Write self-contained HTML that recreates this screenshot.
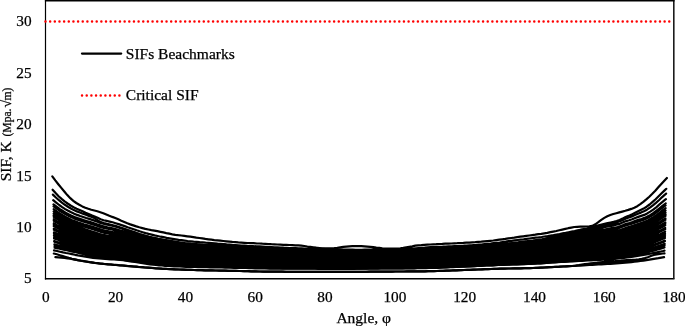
<!DOCTYPE html>
<html><head><meta charset="utf-8"><title>SIF chart</title>
<style>
html,body{margin:0;padding:0;background:#fff;}
body{width:685px;height:326px;overflow:hidden;position:relative;font-family:"Liberation Serif",serif;color:#000;}
svg{position:absolute;left:0;top:0;}
text{font-family:"Liberation Serif",serif;fill:#000;stroke:#000;stroke-width:0.25px;}
</style></head><body>
<svg width="685" height="326" viewBox="0 0 685 326">
<rect x="0" y="0" width="685" height="326" fill="#fff"/>
<g fill="none" stroke="#000" stroke-width="2.2" stroke-linecap="round" stroke-linejoin="round">
<path d="M52.3,176.4 55.3,180.4 58.3,184.2 61.3,187.9 64.3,191.5 67.3,195.1 70.3,198.2 73.3,200.8 76.3,203 79.3,204.8 82.3,206.4 85.3,207.7 88.3,208.8 91.3,209.7 94.3,210.5 97.3,211.3 100.3,212.2 103.3,213.2 106.3,214.4 109.3,215.7 112.3,216.9 115.3,218 118.3,219.3 121.3,220.7 124.3,222 127.3,223.3 130.3,224.4 133.3,225.4 136.3,226.4 139.3,227.3 142.3,228.1 145.3,228.9 148.3,229.5 151.3,230.1 154.3,230.6 157.3,231.2 160.3,231.8 163.3,232.4 166.3,233.1 169.3,233.7 172.3,234.3 175.3,234.8 178.3,235.2 181.3,235.5 184.3,235.9 187.3,236.3 190.3,236.7 193.3,237.1 196.3,237.6 199.3,238 202.3,238.4 205.3,238.9 208.3,239.3 211.3,239.7 214.3,240.1 217.3,240.4 220.3,240.7 223.3,241 226.3,241.3 229.3,241.6 232.3,241.9 235.3,242.1 238.3,242.4 241.3,242.6 244.3,242.8 247.3,243 250.3,243.1 253.3,243.2 256.3,243.4 259.3,243.5 262.3,243.7 265.3,243.8 268.3,244 271.3,244.2 274.3,244.3 277.3,244.5 280.3,244.6 283.3,244.8 286.3,244.9 289.3,245 292.3,245.1 295.3,245.3 298.3,245.4 301.3,245.6 304.3,246 307.3,246.5 310.3,246.9 313.3,247.3 316.3,247.7 319.3,248 322.3,248.3 325.3,248.4 328.3,248.4 331.3,248.3 334.3,248.2 337.3,247.9 340.3,247.4 343.3,246.9 346.3,246.6 349.3,246.3 352.3,246.2 355.3,246.1 358.3,246 361.3,246.1 364.3,246.3 367.3,246.6 370.3,246.9 373.3,247.2 376.3,247.6 379.3,247.9 382.3,248.3 385.3,248.6 388.3,248.7 391.3,248.7 394.3,248.7 397.3,248.6 400.3,248.3 403.3,247.9 406.3,247.3 409.3,246.8 412.3,246.3 415.3,245.7 418.3,245.3 421.3,245.1 424.3,244.8 427.3,244.6 430.3,244.5 433.3,244.3 436.3,244.2 439.3,244 442.3,243.9 445.3,243.7 448.3,243.6 451.3,243.5 454.3,243.3 457.3,243.2 460.3,243 463.3,242.9 466.3,242.7 469.3,242.6 472.3,242.4 475.3,242.2 478.3,241.9 481.3,241.7 484.3,241.4 487.3,241.1 490.3,240.8 493.3,240.5 496.3,240.1 499.3,239.7 502.3,239.3 505.3,238.9 508.3,238.4 511.3,238 514.3,237.6 517.3,237.1 520.3,236.7 523.3,236.3 526.3,235.9 529.3,235.5 532.3,235.1 535.3,234.7 538.3,234.2 541.3,233.8 544.3,233.3 547.3,232.8 550.3,232.2 553.3,231.6 556.3,231 559.3,230.3 562.3,229.6 565.3,228.9 568.3,228.2 571.3,227.6 574.3,227 577.3,226.8 580.3,226.7 583.3,226.6 586.3,226.5 589.3,226.3 592.3,225.9 595.3,224.3 598.3,222.2 601.3,219.9 604.3,217.9 607.3,216.3 610.3,215 613.3,214 616.3,213.2 619.3,212.4 622.3,211.6 625.3,210.8 628.3,209.9 631.3,208.9 634.3,207.7 637.3,206.2 640.3,204.2 643.3,201.9 646.3,199.4 649.3,196.7 652.3,193.8 655.3,190.7 658.3,187.3 661.3,183.9 664.3,180.7 666.9,178"/>
<path d="M52.6,189.7 55.6,193.1 58.6,196.2 61.6,198.9 64.6,201.4 67.6,203.5 70.6,205.5 73.6,207.2 76.6,208.7 79.6,210 82.6,211.3 85.6,212.7 88.6,214 91.6,215.3 94.6,216.5 97.6,217.8 100.6,219.2 103.6,220.2 106.6,220.9 109.6,221.6 112.6,222.3 115.6,223.2 118.6,224.1 121.6,225.1 124.6,226.1 127.6,227.2 130.6,228.2 133.6,229.2 136.6,230.3 139.6,231.3 142.6,232.2 145.6,233.1 148.6,233.9 151.6,234.6 154.6,235.4 157.6,236 160.6,236.7 163.6,237.2 166.6,237.8 169.6,238.3 172.6,238.8 175.6,239.3 178.6,239.8 181.6,240.2 184.6,240.6 187.6,241 190.6,241.3 193.6,241.6 196.6,241.8 199.6,242.1 202.6,242.3 205.6,242.6 208.6,242.8 211.6,243 214.6,243.3 217.6,243.6 220.6,243.8 223.6,244.1 226.6,244.4 229.6,244.6 232.6,244.9 235.6,245.1 238.6,245.3 241.6,245.5 244.6,245.7 247.6,245.9 250.6,246 253.6,246.2 256.6,246.3 259.6,246.4 262.6,246.6 265.6,246.8 268.6,246.9 271.6,247.1 274.6,247.3 277.6,247.4 280.6,247.5 283.6,247.7 286.6,247.8 289.6,248 292.6,248.1 295.6,248.2 298.6,248.4 301.6,248.4 304.6,248.5 307.6,248.5 310.6,248.5 313.6,248.6 316.6,248.7 319.6,248.8 322.6,248.9 325.6,249 328.6,249.1 331.6,249.2 334.6,249.3 337.6,249.4 340.6,249.4 343.6,249.5 346.6,249.6 349.6,249.6 352.6,249.7 355.6,249.8 358.6,249.8 361.6,249.8 364.6,249.7 367.6,249.6 370.6,249.5 373.6,249.4 376.6,249.4 379.6,249.4 382.6,249.3 385.6,249.3 388.6,249.3 391.6,249.3 394.6,249.3 397.6,249.2 400.6,249.2 403.6,249.1 406.6,248.9 409.6,248.8 412.6,248.6 415.6,248.3 418.6,248.1 421.6,247.9 424.6,247.7 427.6,247.4 430.6,247.2 433.6,247.1 436.6,246.9 439.6,246.8 442.6,246.7 445.6,246.5 448.6,246.4 451.6,246.3 454.6,246.1 457.6,246 460.6,245.8 463.6,245.7 466.6,245.5 469.6,245.3 472.6,245.2 475.6,245 478.6,244.7 481.6,244.5 484.6,244.2 487.6,243.9 490.6,243.6 493.6,243.2 496.6,242.8 499.6,242.5 502.6,242.1 505.6,241.7 508.6,241.2 511.6,240.8 514.6,240.4 517.6,240 520.6,239.6 523.6,239.3 526.6,238.9 529.6,238.5 532.6,238.1 535.6,237.7 538.6,237.4 541.6,237 544.6,236.5 547.6,236.1 550.6,235.6 553.6,235.1 556.6,234.5 559.6,234 562.6,233.4 565.6,232.9 568.6,232.3 571.6,231.7 574.6,231.1 577.6,230.4 580.6,229.7 583.6,229.1 586.6,228.6 589.6,227.9 592.6,227 595.6,226.1 598.6,225.3 601.6,224.5 604.6,223.8 607.6,223.1 610.6,222.5 613.6,221.9 616.6,221.1 619.6,220 622.6,218.6 625.6,217 628.6,215.9 631.6,214.6 634.6,213 637.6,211.5 640.6,210 643.6,208.6 646.6,206.7 649.6,204.5 652.6,201.9 655.6,199.2 658.6,196.3 661.6,193.3 664.6,190.4 666.3,188.8"/>
<path d="M52.9,194.6 55.9,197.5 58.9,200.2 61.9,202.6 64.9,204.8 67.9,206.7 70.9,208.5 73.9,210.1 76.9,211.4 79.9,212.5 82.9,213.7 85.9,214.8 88.9,215.9 91.9,217 94.9,218.3 97.9,220.5 100.9,222.1 103.9,223 106.9,223.8 109.9,224.5 112.9,225.2 115.9,226.1 118.9,227 121.9,228 124.9,229 127.9,230.1 130.9,231.1 133.9,232.1 136.9,233.2 139.9,234.2 142.9,235.1 145.9,236 148.9,236.8 151.9,237.5 154.9,238.2 157.9,238.9 160.9,239.5 163.9,240.1 166.9,240.7 169.9,241.2 172.9,241.7 175.9,242.2 178.9,242.6 181.9,243.1 184.9,243.5 187.9,243.8 190.9,244.1 193.9,244.4 196.9,244.6 199.9,244.9 202.9,245.1 205.9,245.2 208.9,245.2 211.9,245.1 214.9,245 217.9,244.9 220.9,244.8 223.9,244.9 226.9,245.1 229.9,245.4 232.9,245.6 235.9,245.9 238.9,246.1 241.9,246.3 244.9,246.5 247.9,246.7 250.9,246.8 253.9,246.9 256.9,247.1 259.9,247.2 262.9,247.4 265.9,247.5 268.9,247.7 271.9,247.9 274.9,248 277.9,248.2 280.9,248.3 283.9,248.4 286.9,248.6 289.9,248.7 292.9,248.9 295.9,249 298.9,249.1 301.9,249.2 304.9,249.2 307.9,249.3 310.9,249.3 313.9,249.3 316.9,249.4 319.9,249.5 322.9,249.7 325.9,249.8 328.9,249.9 331.9,249.9 334.9,250 337.9,250.1 340.9,250.2 343.9,250.2 346.9,250.3 349.9,250.4 352.9,250.5 355.9,250.5 358.9,250.5 361.9,250.5 364.9,250.4 367.9,250.3 370.9,250.2 373.9,250.2 376.9,250.1 379.9,250.1 382.9,250.1 385.9,250.1 388.9,250 391.9,250 394.9,250 397.9,250 400.9,249.9 403.9,249.8 406.9,249.7 409.9,249.5 412.9,249.3 415.9,249.1 418.9,248.9 421.9,248.6 424.9,248.4 427.9,248.2 430.9,248 433.9,247.8 436.9,247.7 439.9,247.5 442.9,247.4 445.9,247.3 448.9,247.1 451.9,247 454.9,246.8 457.9,246.7 460.9,246.5 463.9,246.4 466.9,246.2 469.9,246.1 472.9,245.9 475.9,245.7 478.9,245.4 481.9,245.2 484.9,244.9 487.9,244.6 490.9,244.3 493.9,243.9 496.9,243.5 499.9,243.2 502.9,243.3 505.9,243.6 508.9,243.7 511.9,243.6 514.9,243.2 517.9,242.8 520.9,242.4 523.9,242 526.9,241.6 529.9,241.2 532.9,240.9 535.9,240.5 538.9,240.1 541.9,239.6 544.9,238.8 547.9,237.7 550.9,236.5 553.9,235.9 556.9,235.3 559.9,234.8 562.9,234.3 565.9,233.7 568.9,233.2 571.9,232.6 574.9,232 577.9,231.3 580.9,230.6 583.9,230 586.9,229.5 589.9,228.8 592.9,227.9 595.9,227 598.9,226.3 601.9,225.6 604.9,224.9 607.9,224.2 610.9,223.6 613.9,223 616.9,222.3 619.9,221.2 622.9,220 625.9,218.5 628.9,217.5 631.9,216.4 634.9,215 637.9,213.7 640.9,212.6 643.9,211.3 646.9,209.7 649.9,207.7 652.9,205.4 655.9,202.9 658.9,200.2 661.9,197.3 664.9,194.7 666.1,193.6"/>
<path d="M53.2,200.1 56.2,202.7 59.2,205 62.2,207.1 65.2,209.1 68.2,210.8 71.2,212.3 74.2,213.7 77.2,214.9 80.2,216 83.2,217 86.2,218 89.2,218.9 92.2,219.9 95.2,220.9 98.2,222.1 101.2,223.2 104.2,224 107.2,224.6 110.2,225.3 113.2,226 116.2,226.8 119.2,227.7 122.2,228.6 125.2,229.6 128.2,230.5 131.2,231.5 134.2,232.4 137.2,233.4 140.2,234.4 143.2,235.2 146.2,236 149.2,236.8 152.2,237.5 155.2,238.1 158.2,238.8 161.2,239.3 164.2,239.9 167.2,240.4 170.2,240.9 173.2,241.4 176.2,241.8 179.2,242.3 182.2,242.7 185.2,243.1 188.2,243.4 191.2,243.7 194.2,243.9 197.2,244.2 200.2,244.4 203.2,244.7 206.2,244.9 209.2,245.1 212.2,245.3 215.2,245.6 218.2,245.8 221.2,246.1 224.2,246.4 227.2,246.6 230.2,246.8 233.2,247.1 236.2,247.3 239.2,247.5 242.2,247.7 245.2,247.9 248.2,248.1 251.2,248.2 254.2,248.3 257.2,248.5 260.2,248.6 263.2,248.8 266.2,248.9 269.2,249.1 272.2,249.2 275.2,249.4 278.2,249.5 281.2,249.7 284.2,249.8 287.2,249.9 290.2,250.1 293.2,250.2 296.2,250.3 299.2,250.4 302.2,250.5 305.2,250.5 308.2,250.6 311.2,250.6 314.2,250.7 317.2,250.7 320.2,250.9 323.2,251 326.2,251.1 329.2,251.2 332.2,251.2 335.2,251.3 338.2,251.4 341.2,251.5 344.2,251.5 347.2,251.6 350.2,251.7 353.2,251.7 356.2,251.8 359.2,251.8 362.2,251.7 365.2,251.7 368.2,251.6 371.2,251.5 374.2,251.4 377.2,251.4 380.2,251.4 383.2,251.3 386.2,251.3 389.2,251.3 392.2,251.3 395.2,251.2 398.2,251.2 401.2,251.2 404.2,251.1 407.2,250.9 410.2,250.7 413.2,250.5 416.2,250.3 419.2,250.1 422.2,249.9 425.2,249.7 428.2,249.5 431.2,249.3 434.2,249.1 437.2,249 440.2,248.9 443.2,248.7 446.2,248.6 449.2,248.4 452.2,248.3 455.2,248.2 458.2,248 461.2,247.9 464.2,247.7 467.2,247.6 470.2,247.4 473.2,247.2 476.2,247 479.2,246.8 482.2,246.5 485.2,246.2 488.2,245.9 491.2,245.6 494.2,245.3 497.2,244.9 500.2,244.5 503.2,244.2 506.2,243.8 509.2,243.4 512.2,243 515.2,242.6 518.2,242.3 521.2,241.9 524.2,241.5 527.2,241.2 530.2,240.8 533.2,240.5 536.2,240.1 539.2,239.7 542.2,239.4 545.2,238.9 548.2,238.5 551.2,238 554.2,237.5 557.2,237 560.2,236.5 563.2,236 566.2,235.4 569.2,234.9 572.2,234.3 575.2,233.7 578.2,233.1 581.2,232.5 584.2,231.9 587.2,231.4 590.2,230.7 593.2,229.9 596.2,229 599.2,228.3 602.2,227.6 605.2,227 608.2,226.4 611.2,225.8 614.2,225.3 617.2,224.5 620.2,223.6 623.2,222.3 626.2,221.1 629.2,220.3 632.2,219.2 635.2,218 638.2,216.9 641.2,215.9 644.2,214.9 647.2,213.4 650.2,211.6 653.2,209.6 656.2,207.3 659.2,204.7 662.2,202.1 665.2,199.6 665.9,199.1"/>
<path d="M53.5,204.4 56.5,206.7 59.5,208.9 62.5,210.8 65.5,212.6 68.5,214.2 71.5,215.7 74.5,217 77.5,218.1 80.5,219.1 83.5,220.1 86.5,221 89.5,221.9 92.5,222.8 95.5,223.7 98.5,224.9 101.5,225.9 104.5,226.6 107.5,227.3 110.5,227.9 113.5,228.6 116.5,229.3 119.5,230.2 122.5,231.1 125.5,232 128.5,232.9 131.5,233.8 134.5,234.7 137.5,235.7 140.5,236.6 143.5,237.4 146.5,238.1 149.5,238.8 152.5,239.5 155.5,240.1 158.5,240.7 161.5,241.3 164.5,241.8 167.5,242.3 170.5,242.8 173.5,243.2 176.5,243.7 179.5,244.1 182.5,244.5 185.5,244.8 188.5,245.2 191.5,245.4 194.5,245.7 197.5,245.9 200.5,246.1 203.5,246.3 206.5,246.6 209.5,246.8 212.5,247 215.5,247.2 218.5,247.5 221.5,247.7 224.5,248 227.5,248.2 230.5,248.4 233.5,248.6 236.5,248.9 239.5,249.1 242.5,249.3 245.5,249.4 248.5,249.6 251.5,249.7 254.5,249.8 257.5,250 260.5,250.1 263.5,250.3 266.5,250.4 269.5,250.6 272.5,250.7 275.5,250.9 278.5,251 281.5,251.1 284.5,251.3 287.5,251.4 290.5,251.5 293.5,251.6 296.5,251.8 299.5,251.8 302.5,251.9 305.5,251.9 308.5,252 311.5,252 314.5,252.1 317.5,252.1 320.5,252.2 323.5,252.4 326.5,252.5 329.5,252.5 332.5,252.6 335.5,252.7 338.5,252.7 341.5,252.8 344.5,252.9 347.5,252.9 350.5,253 353.5,253.1 356.5,253.1 359.5,253.1 362.5,253.1 365.5,253 368.5,252.9 371.5,252.8 374.5,252.8 377.5,252.7 380.5,252.7 383.5,252.7 386.5,252.7 389.5,252.6 392.5,252.6 395.5,252.6 398.5,252.5 401.5,252.5 404.5,252.4 407.5,252.2 410.5,252.1 413.5,251.9 416.5,251.7 419.5,251.5 422.5,251.3 425.5,251.1 428.5,250.9 431.5,250.7 434.5,250.6 437.5,250.4 440.5,250.3 443.5,250.2 446.5,250 449.5,249.9 452.5,249.7 455.5,249.6 458.5,249.4 461.5,249.3 464.5,249.2 467.5,249 470.5,248.8 473.5,248.6 476.5,248.4 479.5,248.2 482.5,248 485.5,247.7 488.5,247.4 491.5,247.1 494.5,246.8 497.5,246.4 500.5,246.1 503.5,245.7 506.5,245.4 509.5,245 512.5,244.6 515.5,244.3 518.5,243.9 521.5,243.6 524.5,243.2 527.5,242.9 530.5,242.6 533.5,242.2 536.5,241.9 539.5,241.5 542.5,241.2 545.5,240.8 548.5,240.3 551.5,239.9 554.5,239.4 557.5,238.9 560.5,238.4 563.5,237.9 566.5,237.4 569.5,236.9 572.5,236.3 575.5,235.8 578.5,235.2 581.5,234.6 584.5,234 587.5,233.5 590.5,232.9 593.5,232.1 596.5,231.3 599.5,230.6 602.5,230 605.5,229.4 608.5,228.8 611.5,228.2 614.5,227.7 617.5,227 620.5,226.1 623.5,224.9 626.5,223.8 629.5,223 632.5,222 635.5,220.9 638.5,219.9 641.5,219 644.5,217.9 647.5,216.5 650.5,214.9 653.5,212.9 656.5,210.7 659.5,208.3 662.5,205.8 665.5,203.5 665.7,203.3"/>
<path d="M53.6,206.4 56.6,208.6 59.6,210.7 62.6,212.6 65.6,214.3 68.6,215.9 71.6,217.3 74.6,218.6 77.6,219.7 80.6,220.7 83.6,221.6 86.6,222.5 89.6,223.4 92.6,224.4 95.6,225.3 98.6,226.4 101.6,227.4 104.6,228.1 107.6,228.7 110.6,229.3 113.6,230 116.6,230.8 119.6,231.6 122.6,232.5 125.6,233.3 128.6,234.2 131.6,235.1 134.6,236 137.6,236.9 140.6,237.8 143.6,238.6 146.6,239.3 149.6,240 152.6,240.7 155.6,241.3 158.6,241.8 161.6,242.4 164.6,242.9 167.6,243.4 170.6,243.8 173.6,244.3 176.6,244.7 179.6,245.1 182.6,245.5 185.6,245.8 188.6,246.1 191.6,246.4 194.6,246.6 197.6,246.8 200.6,247.1 203.6,247.3 206.6,247.5 209.6,247.7 212.6,247.9 215.6,248.1 218.6,248.4 221.6,248.6 224.6,248.9 227.6,249.1 230.6,249.3 233.6,249.5 236.6,249.7 239.6,249.9 242.6,250.1 245.6,250.3 248.6,250.4 251.6,250.6 254.6,250.7 257.6,250.8 260.6,251 263.6,251.1 266.6,251.3 269.6,251.4 272.6,251.5 275.6,251.7 278.6,251.8 281.6,251.9 284.6,252.1 287.6,252.2 290.6,252.3 293.6,252.4 296.6,252.5 299.6,252.6 302.6,252.7 305.6,252.7 308.6,252.7 311.6,252.8 314.6,252.8 317.6,252.9 320.6,253 323.6,253.1 326.6,253.2 329.6,253.3 332.6,253.4 335.6,253.4 338.6,253.5 341.6,253.5 344.6,253.6 347.6,253.7 350.6,253.7 353.6,253.8 356.6,253.8 359.6,253.8 362.6,253.8 365.6,253.7 368.6,253.6 371.6,253.5 374.6,253.5 377.6,253.4 380.6,253.4 383.6,253.4 386.6,253.4 389.6,253.4 392.6,253.3 395.6,253.3 398.6,253.3 401.6,253.2 404.6,253.1 407.6,253 410.6,252.8 413.6,252.6 416.6,252.4 419.6,252.3 422.6,252.1 425.6,251.8 428.6,251.7 431.6,251.5 434.6,251.4 437.6,251.2 440.6,251.1 443.6,251 446.6,250.8 449.6,250.7 452.6,250.5 455.6,250.4 458.6,250.2 461.6,250.1 464.6,250 467.6,249.8 470.6,249.6 473.6,249.5 476.6,249.3 479.6,249 482.6,248.8 485.6,248.5 488.6,248.2 491.6,247.9 494.6,247.6 497.6,247.3 500.6,247 503.6,246.6 506.6,246.3 509.6,245.9 512.6,245.5 515.6,245.2 518.6,244.9 521.6,244.5 524.6,244.2 527.6,243.9 530.6,243.5 533.6,243.2 536.6,242.9 539.6,242.5 542.6,242.2 545.6,241.8 548.6,241.4 551.6,240.9 554.6,240.4 557.6,240 560.6,239.5 563.6,239 566.6,238.5 569.6,238 572.6,237.5 575.6,236.9 578.6,236.3 581.6,235.7 584.6,235.2 587.6,234.8 590.6,234.1 593.6,233.3 596.6,232.5 599.6,231.9 602.6,231.3 605.6,230.7 608.6,230.1 611.6,229.6 614.6,229.1 617.6,228.4 620.6,227.4 623.6,226.3 626.6,225.2 629.6,224.4 632.6,223.5 635.6,222.4 638.6,221.4 641.6,220.5 644.6,219.4 647.6,218.1 650.6,216.4 653.6,214.5 656.6,212.3 659.6,210 662.6,207.6 665.6,205.3 665.6,205.3"/>
<path d="M53.7,209.2 56.7,211.4 59.7,213.4 62.7,215.3 65.7,216.9 68.7,218.5 71.7,219.9 74.7,221.1 77.7,222.2 80.7,223.2 83.7,224.2 86.7,225.1 89.7,226 92.7,226.9 95.7,227.8 98.7,228.9 101.7,229.9 104.7,230.6 107.7,231.2 110.7,231.8 113.7,232.4 116.7,233.1 119.7,233.9 122.7,234.7 125.7,235.6 128.7,236.4 131.7,237.3 134.7,238.1 137.7,239 140.7,239.8 143.7,240.6 146.7,241.3 149.7,241.9 152.7,242.5 155.7,243.1 158.7,243.7 161.7,244.2 164.7,244.7 167.7,245.1 170.7,245.6 173.7,246 176.7,246.4 179.7,246.8 182.7,247.1 185.7,247.5 188.7,247.8 191.7,248 194.7,248.2 197.7,248.4 200.7,248.6 203.7,248.8 206.7,249.1 209.7,249.3 212.7,249.5 215.7,249.7 218.7,249.9 221.7,250.1 224.7,250.3 227.7,250.6 230.7,250.8 233.7,251 236.7,251.2 239.7,251.4 242.7,251.5 245.7,251.7 248.7,251.8 251.7,252 254.7,252.1 257.7,252.2 260.7,252.4 263.7,252.5 266.7,252.6 269.7,252.8 272.7,252.9 275.7,253 278.7,253.1 281.7,253.3 284.7,253.4 287.7,253.5 290.7,253.6 293.7,253.7 296.7,253.8 299.7,253.9 302.7,254 305.7,254 308.7,254 311.7,254 314.7,254.1 317.7,254.2 320.7,254.3 323.7,254.4 326.7,254.5 329.7,254.5 332.7,254.6 335.7,254.7 338.7,254.7 341.7,254.8 344.7,254.8 347.7,254.9 350.7,254.9 353.7,255 356.7,255 359.7,255 362.7,255 365.7,254.9 368.7,254.8 371.7,254.8 374.7,254.7 377.7,254.7 380.7,254.6 383.7,254.6 386.7,254.6 389.7,254.6 392.7,254.5 395.7,254.5 398.7,254.5 401.7,254.4 404.7,254.3 407.7,254.2 410.7,254 413.7,253.9 416.7,253.7 419.7,253.5 422.7,253.3 425.7,253.1 428.7,253 431.7,252.8 434.7,252.7 437.7,252.6 440.7,252.4 443.7,252.3 446.7,252.2 449.7,252 452.7,251.9 455.7,251.7 458.7,251.6 461.7,251.4 464.7,251.3 467.7,251.2 470.7,251 473.7,250.8 476.7,250.6 479.7,250.4 482.7,250.2 485.7,249.9 488.7,249.7 491.7,249.4 494.7,249.1 497.7,248.7 500.7,248.4 503.7,248.1 506.7,247.8 509.7,247.4 512.7,247.1 515.7,246.8 518.7,246.5 521.7,246.1 524.7,245.8 527.7,245.5 530.7,245.2 533.7,244.9 536.7,244.6 539.7,244.2 542.7,243.9 545.7,243.5 548.7,243.1 551.7,242.7 554.7,242.2 557.7,241.8 560.7,241.3 563.7,240.9 566.7,240.4 569.7,239.9 572.7,239.4 575.7,238.9 578.7,238.3 581.7,237.8 584.7,237.3 587.7,236.8 590.7,236.2 593.7,235.4 596.7,234.7 599.7,234.1 602.7,233.5 605.7,232.9 608.7,232.4 611.7,231.9 614.7,231.4 617.7,230.7 620.7,229.8 623.7,228.7 626.7,227.6 629.7,226.9 632.7,225.9 635.7,224.8 638.7,223.8 641.7,222.9 644.7,221.8 647.7,220.4 650.7,218.8 653.7,216.9 656.7,214.8 659.7,212.5 662.7,210.2 665.6,208.2"/>
<path d="M53.7,211.5 56.7,213.7 59.7,215.7 62.7,217.5 65.7,219.1 68.7,220.6 71.7,222 74.7,223.3 77.7,224.4 80.7,225.4 83.7,226.4 86.7,227.4 89.7,228.3 92.7,229.2 95.7,230.1 98.7,231.3 101.7,232.2 104.7,232.8 107.7,233.4 110.7,234 113.7,234.6 116.7,235.3 119.7,236.1 122.7,236.8 125.7,237.7 128.7,238.5 131.7,239.3 134.7,240.1 137.7,240.9 140.7,241.7 143.7,242.4 146.7,243.1 149.7,243.7 152.7,244.3 155.7,244.9 158.7,245.4 161.7,245.9 164.7,246.3 167.7,246.8 170.7,247.2 173.7,247.6 176.7,248 179.7,248.3 182.7,248.7 185.7,249 188.7,249.3 191.7,249.5 194.7,249.7 197.7,249.9 200.7,250.1 203.7,250.3 206.7,250.5 209.7,250.7 212.7,250.9 215.7,251.1 218.7,251.3 221.7,251.5 224.7,251.7 227.7,251.9 230.7,252.1 233.7,252.3 236.7,252.5 239.7,252.7 242.7,252.9 245.7,253 248.7,253.1 251.7,253.3 254.7,253.4 257.7,253.5 260.7,253.6 263.7,253.8 266.7,253.9 269.7,254 272.7,254.2 275.7,254.3 278.7,254.4 281.7,254.5 284.7,254.6 287.7,254.7 290.7,254.8 293.7,254.9 296.7,255 299.7,255.1 302.7,255.1 305.7,255.2 308.7,255.2 311.7,255.2 314.7,255.3 317.7,255.3 320.7,255.4 323.7,255.5 326.7,255.6 329.7,255.7 332.7,255.7 335.7,255.8 338.7,255.8 341.7,255.9 344.7,255.9 347.7,256 350.7,256.1 353.7,256.1 356.7,256.1 359.7,256.1 362.7,256.1 365.7,256 368.7,255.9 371.7,255.9 374.7,255.8 377.7,255.8 380.7,255.8 383.7,255.7 386.7,255.7 389.7,255.7 392.7,255.7 395.7,255.6 398.7,255.6 401.7,255.6 404.7,255.5 407.7,255.3 410.7,255.2 413.7,255 416.7,254.9 419.7,254.7 422.7,254.5 425.7,254.3 428.7,254.2 431.7,254 434.7,253.9 437.7,253.8 440.7,253.7 443.7,253.5 446.7,253.4 449.7,253.3 452.7,253.1 455.7,253 458.7,252.8 461.7,252.7 464.7,252.6 467.7,252.4 470.7,252.3 473.7,252.1 476.7,251.9 479.7,251.7 482.7,251.5 485.7,251.2 488.7,251 491.7,250.7 494.7,250.4 497.7,250.1 500.7,249.8 503.7,249.5 506.7,249.2 509.7,248.9 512.7,248.6 515.7,248.2 518.7,248 521.7,247.7 524.7,247.4 527.7,247.1 530.7,246.8 533.7,246.5 536.7,246.2 539.7,245.9 542.7,245.5 545.7,245.2 548.7,244.8 551.7,244.4 554.7,243.9 557.7,243.5 560.7,243.1 563.7,242.6 566.7,242.2 569.7,241.7 572.7,241.2 575.7,240.7 578.7,240.2 581.7,239.7 584.7,239.2 587.7,238.8 590.7,238.2 593.7,237.4 596.7,236.8 599.7,236.2 602.7,235.6 605.7,235.1 608.7,234.6 611.7,234.1 614.7,233.6 617.7,232.9 620.7,232 623.7,230.9 626.7,229.9 629.7,229.1 632.7,228.1 635.7,227 638.7,225.9 641.7,225 644.7,223.9 647.7,222.5 650.7,220.8 653.7,218.9 656.7,216.9 659.7,214.7 662.7,212.5 665.5,210.5"/>
<path d="M53.7,213.7 56.7,215.9 59.7,217.9 62.7,219.7 65.7,221.4 68.7,222.9 71.7,224.2 74.7,225.5 77.7,226.6 80.7,227.7 83.7,228.7 86.7,229.7 89.7,230.7 92.7,231.7 95.7,232.6 98.7,233.7 101.7,234.6 104.7,235.2 107.7,235.8 110.7,236.4 113.7,236.9 116.7,237.6 119.7,238.3 122.7,239.1 125.7,239.9 128.7,240.6 131.7,241.4 134.7,242.2 137.7,242.9 140.7,243.7 143.7,244.4 146.7,245 149.7,245.6 152.7,246.2 155.7,246.7 158.7,247.2 161.7,247.7 164.7,248.1 167.7,248.5 170.7,248.9 173.7,249.3 176.7,249.7 179.7,250 182.7,250.3 185.7,250.6 188.7,250.9 191.7,251.1 194.7,251.3 197.7,251.5 200.7,251.7 203.7,251.9 206.7,252 209.7,252.2 212.7,252.4 215.7,252.6 218.7,252.8 221.7,253 224.7,253.2 227.7,253.4 230.7,253.6 233.7,253.8 236.7,253.9 239.7,254.1 242.7,254.3 245.7,254.4 248.7,254.5 251.7,254.6 254.7,254.8 257.7,254.9 260.7,255 263.7,255.1 266.7,255.3 269.7,255.4 272.7,255.5 275.7,255.6 278.7,255.7 281.7,255.8 284.7,255.9 287.7,256 290.7,256.1 293.7,256.2 296.7,256.3 299.7,256.4 302.7,256.4 305.7,256.4 308.7,256.4 311.7,256.5 314.7,256.5 317.7,256.6 320.7,256.7 323.7,256.7 326.7,256.8 329.7,256.9 332.7,256.9 335.7,257 338.7,257 341.7,257.1 344.7,257.1 347.7,257.2 350.7,257.2 353.7,257.3 356.7,257.3 359.7,257.3 362.7,257.3 365.7,257.2 368.7,257.1 371.7,257 374.7,257 377.7,257 380.7,256.9 383.7,256.9 386.7,256.9 389.7,256.9 392.7,256.9 395.7,256.8 398.7,256.8 401.7,256.8 404.7,256.7 407.7,256.5 410.7,256.4 413.7,256.3 416.7,256.1 419.7,256 422.7,255.8 425.7,255.6 428.7,255.5 431.7,255.3 434.7,255.2 437.7,255.1 440.7,255 443.7,254.8 446.7,254.7 449.7,254.6 452.7,254.4 455.7,254.3 458.7,254.2 461.7,254 464.7,253.9 467.7,253.8 470.7,253.6 473.7,253.4 476.7,253.3 479.7,253 482.7,252.8 485.7,252.6 488.7,252.4 491.7,252.1 494.7,251.8 497.7,251.5 500.7,251.3 503.7,251 506.7,250.7 509.7,250.4 512.7,250.1 515.7,249.8 518.7,249.5 521.7,249.3 524.7,249 527.7,248.7 530.7,248.4 533.7,248.2 536.7,247.9 539.7,247.6 542.7,247.2 545.7,246.9 548.7,246.5 551.7,246.1 554.7,245.7 557.7,245.3 560.7,244.9 563.7,244.5 566.7,244.1 569.7,243.6 572.7,243.2 575.7,242.7 578.7,242.2 581.7,241.7 584.7,241.3 587.7,240.8 590.7,240.3 593.7,239.6 596.7,238.9 599.7,238.4 602.7,237.8 605.7,237.3 608.7,236.8 611.7,236.4 614.7,235.9 617.7,235.2 620.7,234.3 623.7,233.2 626.7,232.2 629.7,231.4 632.7,230.3 635.7,229.2 638.7,228.1 641.7,227.1 644.7,225.9 647.7,224.5 650.7,222.8 653.7,220.9 656.7,218.9 659.7,216.8 662.7,214.6 665.5,212.7"/>
<path d="M53.7,215.4 56.7,217.5 59.7,219.5 62.7,221.2 65.7,222.8 68.7,224.3 71.7,225.7 74.7,226.9 77.7,228 80.7,229 83.7,230.1 86.7,231.1 89.7,232.1 92.7,233 95.7,234 98.7,235 101.7,235.9 104.7,236.5 107.7,237.1 110.7,237.6 113.7,238.2 116.7,238.9 119.7,239.6 122.7,240.3 125.7,241 128.7,241.8 131.7,242.5 134.7,243.3 137.7,244 140.7,244.7 143.7,245.4 146.7,246 149.7,246.6 152.7,247.2 155.7,247.7 158.7,248.2 161.7,248.6 164.7,249 167.7,249.5 170.7,249.8 173.7,250.2 176.7,250.5 179.7,250.9 182.7,251.2 185.7,251.5 188.7,251.7 191.7,252 194.7,252.2 197.7,252.3 200.7,252.5 203.7,252.7 206.7,252.9 209.7,253 212.7,253.2 215.7,253.4 218.7,253.6 221.7,253.8 224.7,254 227.7,254.2 230.7,254.3 233.7,254.5 236.7,254.7 239.7,254.9 242.7,255 245.7,255.2 248.7,255.3 251.7,255.4 254.7,255.5 257.7,255.6 260.7,255.7 263.7,255.9 266.7,256 269.7,256.1 272.7,256.2 275.7,256.3 278.7,256.4 281.7,256.5 284.7,256.6 287.7,256.7 290.7,256.8 293.7,256.9 296.7,257 299.7,257 302.7,257.1 305.7,257.1 308.7,257.1 311.7,257.2 314.7,257.2 317.7,257.3 320.7,257.3 323.7,257.4 326.7,257.5 329.7,257.5 332.7,257.6 335.7,257.6 338.7,257.7 341.7,257.7 344.7,257.8 347.7,257.8 350.7,257.9 353.7,257.9 356.7,257.9 359.7,257.9 362.7,257.9 365.7,257.8 368.7,257.8 371.7,257.7 374.7,257.6 377.7,257.6 380.7,257.6 383.7,257.6 386.7,257.6 389.7,257.5 392.7,257.5 395.7,257.5 398.7,257.5 401.7,257.4 404.7,257.3 407.7,257.2 410.7,257.1 413.7,256.9 416.7,256.8 419.7,256.7 422.7,256.5 425.7,256.3 428.7,256.2 431.7,256 434.7,255.9 437.7,255.8 440.7,255.7 443.7,255.6 446.7,255.4 449.7,255.3 452.7,255.2 455.7,255 458.7,254.9 461.7,254.8 464.7,254.6 467.7,254.5 470.7,254.3 473.7,254.2 476.7,254 479.7,253.8 482.7,253.6 485.7,253.4 488.7,253.1 491.7,252.9 494.7,252.6 497.7,252.3 500.7,252 503.7,251.8 506.7,251.5 509.7,251.2 512.7,250.9 515.7,250.7 518.7,250.4 521.7,250.1 524.7,249.9 527.7,249.6 530.7,249.3 533.7,249 536.7,248.8 539.7,248.5 542.7,248.2 545.7,247.8 548.7,247.5 551.7,247.1 554.7,246.7 557.7,246.3 560.7,245.9 563.7,245.5 566.7,245.1 569.7,244.7 572.7,244.2 575.7,243.8 578.7,243.3 581.7,242.8 584.7,242.3 587.7,241.9 590.7,241.4 593.7,240.7 596.7,240.1 599.7,239.5 602.7,239 605.7,238.5 608.7,238.1 611.7,237.6 614.7,237.1 617.7,236.5 620.7,235.6 623.7,234.5 626.7,233.5 629.7,232.7 632.7,231.7 635.7,230.6 638.7,229.5 641.7,228.5 644.7,227.3 647.7,225.9 650.7,224.2 653.7,222.3 656.7,220.4 659.7,218.3 662.7,216.2 665.5,214.4"/>
<path d="M53.7,216.8 56.7,218.9 59.7,220.7 62.7,222.4 65.7,224 68.7,225.4 71.7,226.8 74.7,228 77.7,229.1 80.7,230.1 83.7,231.1 86.7,232.1 89.7,233.1 92.7,234 95.7,234.9 98.7,236 101.7,236.8 104.7,237.4 107.7,238 110.7,238.5 113.7,239.1 116.7,239.7 119.7,240.4 122.7,241.1 125.7,241.9 128.7,242.6 131.7,243.3 134.7,244 137.7,244.8 140.7,245.5 143.7,246.1 146.7,246.7 149.7,247.3 152.7,247.8 155.7,248.4 158.7,248.8 161.7,249.3 164.7,249.7 167.7,250.1 170.7,250.5 173.7,250.8 176.7,251.2 179.7,251.5 182.7,251.8 185.7,252.1 188.7,252.3 191.7,252.6 194.7,252.7 197.7,252.9 200.7,253.1 203.7,253.3 206.7,253.4 209.7,253.6 212.7,253.8 215.7,254 218.7,254.2 221.7,254.3 224.7,254.5 227.7,254.7 230.7,254.9 233.7,255.1 236.7,255.2 239.7,255.4 242.7,255.5 245.7,255.7 248.7,255.8 251.7,255.9 254.7,256 257.7,256.2 260.7,256.3 263.7,256.4 266.7,256.5 269.7,256.6 272.7,256.7 275.7,256.8 278.7,256.9 281.7,257 284.7,257.1 287.7,257.2 290.7,257.3 293.7,257.4 296.7,257.5 299.7,257.5 302.7,257.6 305.7,257.6 308.7,257.6 311.7,257.6 314.7,257.7 317.7,257.7 320.7,257.8 323.7,257.9 326.7,258 329.7,258 332.7,258.1 335.7,258.1 338.7,258.2 341.7,258.2 344.7,258.3 347.7,258.3 350.7,258.3 353.7,258.4 356.7,258.4 359.7,258.4 362.7,258.4 365.7,258.3 368.7,258.2 371.7,258.2 374.7,258.1 377.7,258.1 380.7,258.1 383.7,258 386.7,258 389.7,258 392.7,258 395.7,257.9 398.7,257.9 401.7,257.9 404.7,257.8 407.7,257.7 410.7,257.6 413.7,257.4 416.7,257.3 419.7,257.1 422.7,257 425.7,256.8 428.7,256.7 431.7,256.5 434.7,256.4 437.7,256.3 440.7,256.2 443.7,256.1 446.7,255.9 449.7,255.8 452.7,255.7 455.7,255.5 458.7,255.4 461.7,255.3 464.7,255.1 467.7,255 470.7,254.8 473.7,254.7 476.7,254.5 479.7,254.3 482.7,254.1 485.7,253.9 488.7,253.6 491.7,253.4 494.7,253.1 497.7,252.9 500.7,252.6 503.7,252.3 506.7,252.1 509.7,251.8 512.7,251.5 515.7,251.2 518.7,251 521.7,250.7 524.7,250.5 527.7,250.2 530.7,249.9 533.7,249.7 536.7,249.4 539.7,249.1 542.7,248.8 545.7,248.5 548.7,248.1 551.7,247.7 554.7,247.4 557.7,247 560.7,246.6 563.7,246.2 566.7,245.8 569.7,245.4 572.7,244.9 575.7,244.5 578.7,244 581.7,243.5 584.7,243.1 587.7,242.7 590.7,242.2 593.7,241.5 596.7,240.9 599.7,240.4 602.7,239.9 605.7,239.4 608.7,238.9 611.7,238.5 614.7,238 617.7,237.4 620.7,236.5 623.7,235.5 626.7,234.5 629.7,233.7 632.7,232.7 635.7,231.6 638.7,230.5 641.7,229.5 644.7,228.4 647.7,227 650.7,225.3 653.7,223.5 656.7,221.7 659.7,219.6 662.7,217.6 665.5,215.8"/>
<path d="M53.8,219.2 56.8,221.2 59.8,223 62.8,224.6 65.8,226.1 68.8,227.5 71.8,228.7 74.8,229.9 77.8,231 80.8,232 83.8,232.9 86.8,233.9 89.8,234.9 92.8,235.8 95.8,236.6 98.8,237.6 101.8,238.4 104.8,239.1 107.8,239.6 110.8,240.1 113.8,240.6 116.8,241.3 119.8,241.9 122.8,242.6 125.8,243.3 128.8,244 131.8,244.7 134.8,245.4 137.8,246.1 140.8,246.8 143.8,247.4 146.8,248 149.8,248.6 152.8,249.1 155.8,249.6 158.8,250 161.8,250.5 164.8,250.9 167.8,251.3 170.8,251.6 173.8,252 176.8,252.3 179.8,252.6 182.8,252.9 185.8,253.2 188.8,253.4 191.8,253.6 194.8,253.8 197.8,254 200.8,254.1 203.8,254.3 206.8,254.5 209.8,254.6 212.8,254.8 215.8,255 218.8,255.2 221.8,255.3 224.8,255.5 227.8,255.7 230.8,255.9 233.8,256 236.8,256.2 239.8,256.3 242.8,256.5 245.8,256.6 248.8,256.7 251.8,256.9 254.8,257 257.8,257.1 260.8,257.2 263.8,257.3 266.8,257.4 269.8,257.5 272.8,257.6 275.8,257.7 278.8,257.8 281.8,257.9 284.8,258 287.8,258.1 290.8,258.2 293.8,258.3 296.8,258.3 299.8,258.4 302.8,258.4 305.8,258.5 308.8,258.5 311.8,258.5 314.8,258.5 317.8,258.6 320.8,258.7 323.8,258.7 326.8,258.8 329.8,258.9 332.8,258.9 335.8,259 338.8,259 341.8,259 344.8,259.1 347.8,259.1 350.8,259.2 353.8,259.2 356.8,259.2 359.8,259.2 362.8,259.2 365.8,259.1 368.8,259 371.8,259 374.8,258.9 377.8,258.9 380.8,258.9 383.8,258.9 386.8,258.8 389.8,258.8 392.8,258.8 395.8,258.8 398.8,258.7 401.8,258.7 404.8,258.6 407.8,258.5 410.8,258.4 413.8,258.3 416.8,258.1 419.8,258 422.8,257.8 425.8,257.7 428.8,257.5 431.8,257.4 434.8,257.3 437.8,257.2 440.8,257.1 443.8,256.9 446.8,256.8 449.8,256.7 452.8,256.6 455.8,256.4 458.8,256.3 461.8,256.2 464.8,256 467.8,255.9 470.8,255.7 473.8,255.6 476.8,255.4 479.8,255.2 482.8,255 485.8,254.8 488.8,254.6 491.8,254.3 494.8,254.1 497.8,253.8 500.8,253.6 503.8,253.3 506.8,253.1 509.8,252.8 512.8,252.5 515.8,252.3 518.8,252 521.8,251.8 524.8,251.5 527.8,251.3 530.8,251 533.8,250.8 536.8,250.5 539.8,250.2 542.8,249.9 545.8,249.6 548.8,249.3 551.8,248.9 554.8,248.5 557.8,248.2 560.8,247.8 563.8,247.4 566.8,247 569.8,246.6 572.8,246.2 575.8,245.8 578.8,245.3 581.8,244.8 584.8,244.4 587.8,244.1 590.8,243.5 593.8,242.9 596.8,242.3 599.8,241.8 602.8,241.3 605.8,240.9 608.8,240.4 611.8,240 614.8,239.5 617.8,238.9 620.8,238.1 623.8,237.1 626.8,236.2 629.8,235.4 632.8,234.5 635.8,233.4 638.8,232.4 641.8,231.4 644.8,230.3 647.8,229 650.8,227.4 653.8,225.7 656.8,223.9 659.8,222 662.8,220 665.4,218.4"/>
<path d="M53.8,220.7 56.8,222.6 59.8,224.3 62.8,225.9 65.8,227.3 68.8,228.7 71.8,229.9 74.8,231.1 77.8,232.1 80.8,233.1 83.8,234 86.8,235 89.8,235.9 92.8,236.8 95.8,237.7 98.8,238.6 101.8,239.4 104.8,240 107.8,240.6 110.8,241.1 113.8,241.6 116.8,242.2 119.8,242.8 122.8,243.5 125.8,244.2 128.8,244.9 131.8,245.6 134.8,246.2 137.8,246.9 140.8,247.6 143.8,248.2 146.8,248.8 149.8,249.3 152.8,249.8 155.8,250.3 158.8,250.7 161.8,251.2 164.8,251.6 167.8,251.9 170.8,252.3 173.8,252.6 176.8,253 179.8,253.3 182.8,253.5 185.8,253.8 188.8,254 191.8,254.2 194.8,254.4 197.8,254.6 200.8,254.8 203.8,254.9 206.8,255.1 209.8,255.3 212.8,255.4 215.8,255.6 218.8,255.8 221.8,255.9 224.8,256.1 227.8,256.3 230.8,256.4 233.8,256.6 236.8,256.8 239.8,256.9 242.8,257.1 245.8,257.2 248.8,257.3 251.8,257.4 254.8,257.5 257.8,257.6 260.8,257.8 263.8,257.9 266.8,258 269.8,258.1 272.8,258.2 275.8,258.3 278.8,258.4 281.8,258.5 284.8,258.5 287.8,258.6 290.8,258.7 293.8,258.8 296.8,258.9 299.8,258.9 302.8,258.9 305.8,259 308.8,259 311.8,259 314.8,259.1 317.8,259.1 320.8,259.2 323.8,259.3 326.8,259.3 329.8,259.4 332.8,259.4 335.8,259.5 338.8,259.5 341.8,259.5 344.8,259.6 347.8,259.6 350.8,259.7 353.8,259.7 356.8,259.7 359.8,259.7 362.8,259.7 365.8,259.6 368.8,259.5 371.8,259.5 374.8,259.4 377.8,259.4 380.8,259.4 383.8,259.4 386.8,259.3 389.8,259.3 392.8,259.3 395.8,259.3 398.8,259.2 401.8,259.2 404.8,259.1 407.8,259 410.8,258.9 413.8,258.8 416.8,258.6 419.8,258.5 422.8,258.4 425.8,258.2 428.8,258.1 431.8,258 434.8,257.8 437.8,257.7 440.8,257.6 443.8,257.5 446.8,257.4 449.8,257.2 452.8,257.1 455.8,257 458.8,256.8 461.8,256.7 464.8,256.6 467.8,256.4 470.8,256.3 473.8,256.1 476.8,256 479.8,255.8 482.8,255.6 485.8,255.4 488.8,255.1 491.8,254.9 494.8,254.7 497.8,254.4 500.8,254.2 503.8,253.9 506.8,253.7 509.8,253.4 512.8,253.1 515.8,252.9 518.8,252.7 521.8,252.4 524.8,252.2 527.8,252 530.8,251.7 533.8,251.4 536.8,251.2 539.8,250.9 542.8,250.6 545.8,250.3 548.8,250 551.8,249.6 554.8,249.3 557.8,248.9 560.8,248.5 563.8,248.2 566.8,247.8 569.8,247.4 572.8,247 575.8,246.6 578.8,246.1 581.8,245.6 584.8,245.3 587.8,244.9 590.8,244.4 593.8,243.8 596.8,243.2 599.8,242.7 602.8,242.2 605.8,241.8 608.8,241.3 611.8,240.9 614.8,240.5 617.8,239.9 620.8,239.1 623.8,238.1 626.8,237.2 629.8,236.5 632.8,235.5 635.8,234.5 638.8,233.5 641.8,232.6 644.8,231.5 647.8,230.2 650.8,228.6 653.8,227 656.8,225.2 659.8,223.3 662.8,221.4 665.4,219.9"/>
<path d="M53.8,223.2 56.8,225 59.8,226.6 62.8,228.1 65.8,229.4 68.8,230.7 71.8,231.9 74.8,233 77.8,234 80.8,234.9 83.8,235.9 86.8,236.8 89.8,237.7 92.8,238.6 95.8,239.4 98.8,240.3 101.8,241.1 104.8,241.7 107.8,242.2 110.8,242.6 113.8,243.2 116.8,243.7 119.8,244.3 122.8,245 125.8,245.7 128.8,246.3 131.8,247 134.8,247.6 137.8,248.3 140.8,248.9 143.8,249.5 146.8,250 149.8,250.6 152.8,251 155.8,251.5 158.8,251.9 161.8,252.4 164.8,252.7 167.8,253.1 170.8,253.4 173.8,253.8 176.8,254.1 179.8,254.4 182.8,254.6 185.8,254.9 188.8,255.1 191.8,255.3 194.8,255.5 197.8,255.6 200.8,255.8 203.8,256 206.8,256.1 209.8,256.3 212.8,256.4 215.8,256.6 218.8,256.8 221.8,256.9 224.8,257.1 227.8,257.3 230.8,257.4 233.8,257.6 236.8,257.7 239.8,257.9 242.8,258 245.8,258.1 248.8,258.2 251.8,258.4 254.8,258.5 257.8,258.6 260.8,258.7 263.8,258.8 266.8,258.9 269.8,259 272.8,259.1 275.8,259.2 278.8,259.3 281.8,259.3 284.8,259.4 287.8,259.5 290.8,259.6 293.8,259.7 296.8,259.7 299.8,259.8 302.8,259.8 305.8,259.8 308.8,259.9 311.8,259.9 314.8,259.9 317.8,260 320.8,260 323.8,260.1 326.8,260.2 329.8,260.2 332.8,260.3 335.8,260.3 338.8,260.3 341.8,260.4 344.8,260.4 347.8,260.4 350.8,260.5 353.8,260.5 356.8,260.5 359.8,260.5 362.8,260.5 365.8,260.4 368.8,260.4 371.8,260.3 374.8,260.3 377.8,260.2 380.8,260.2 383.8,260.2 386.8,260.2 389.8,260.1 392.8,260.1 395.8,260.1 398.8,260.1 401.8,260 404.8,260 407.8,259.9 410.8,259.7 413.8,259.6 416.8,259.5 419.8,259.4 422.8,259.2 425.8,259.1 428.8,259 431.8,258.8 434.8,258.7 437.8,258.6 440.8,258.5 443.8,258.4 446.8,258.3 449.8,258.1 452.8,258 455.8,257.9 458.8,257.7 461.8,257.6 464.8,257.5 467.8,257.3 470.8,257.2 473.8,257 476.8,256.9 479.8,256.7 482.8,256.5 485.8,256.3 488.8,256.1 491.8,255.9 494.8,255.6 497.8,255.4 500.8,255.1 503.8,254.9 506.8,254.7 509.8,254.4 512.8,254.2 515.8,253.9 518.8,253.7 521.8,253.5 524.8,253.3 527.8,253 530.8,252.8 533.8,252.6 536.8,252.3 539.8,252 542.8,251.8 545.8,251.5 548.8,251.1 551.8,250.8 554.8,250.4 557.8,250.1 560.8,249.7 563.8,249.4 566.8,249 569.8,248.6 572.8,248.3 575.8,247.8 578.8,247.4 581.8,247 584.8,246.6 587.8,246.2 590.8,245.8 593.8,245.2 596.8,244.6 599.8,244.2 602.8,243.7 605.8,243.3 608.8,242.9 611.8,242.5 614.8,242 617.8,241.4 620.8,240.7 623.8,239.8 626.8,238.9 629.8,238.2 632.8,237.3 635.8,236.3 638.8,235.4 641.8,234.5 644.8,233.4 647.8,232.2 650.8,230.7 653.8,229.1 656.8,227.5 659.8,225.7 662.8,223.9 665.3,222.4"/>
<path d="M53.8,224.7 56.8,226.4 59.8,227.9 62.8,229.3 65.8,230.7 68.8,231.9 71.8,233.1 74.8,234.2 77.8,235.2 80.8,236.1 83.8,237 86.8,237.9 89.8,238.8 92.8,239.6 95.8,240.4 98.8,241.3 101.8,242.1 104.8,242.6 107.8,243.1 110.8,243.6 113.8,244.1 116.8,244.7 119.8,245.3 122.8,245.9 125.8,246.5 128.8,247.2 131.8,247.8 134.8,248.4 137.8,249.1 140.8,249.7 143.8,250.3 146.8,250.8 149.8,251.3 152.8,251.8 155.8,252.2 158.8,252.7 161.8,253.1 164.8,253.4 167.8,253.8 170.8,254.1 173.8,254.4 176.8,254.7 179.8,255 182.8,255.3 185.8,255.5 188.8,255.8 191.8,255.9 194.8,256.1 197.8,256.3 200.8,256.4 203.8,256.6 206.8,256.7 209.8,256.9 212.8,257 215.8,257.2 218.8,257.4 221.8,257.5 224.8,257.7 227.8,257.8 230.8,258 233.8,258.1 236.8,258.3 239.8,258.4 242.8,258.6 245.8,258.7 248.8,258.8 251.8,258.9 254.8,259 257.8,259.1 260.8,259.2 263.8,259.3 266.8,259.5 269.8,259.6 272.8,259.6 275.8,259.7 278.8,259.8 281.8,259.9 284.8,260 287.8,260 290.8,260.1 293.8,260.2 296.8,260.3 299.8,260.3 302.8,260.3 305.8,260.4 308.8,260.4 311.8,260.4 314.8,260.4 317.8,260.5 320.8,260.6 323.8,260.6 326.8,260.7 329.8,260.7 332.8,260.8 335.8,260.8 338.8,260.8 341.8,260.9 344.8,260.9 347.8,260.9 350.8,261 353.8,261 356.8,261 359.8,261 362.8,261 365.8,260.9 368.8,260.9 371.8,260.8 374.8,260.8 377.8,260.7 380.8,260.7 383.8,260.7 386.8,260.7 389.8,260.6 392.8,260.6 395.8,260.6 398.8,260.6 401.8,260.5 404.8,260.4 407.8,260.4 410.8,260.2 413.8,260.1 416.8,260 419.8,259.9 422.8,259.8 425.8,259.6 428.8,259.5 431.8,259.4 434.8,259.3 437.8,259.2 440.8,259 443.8,258.9 446.8,258.8 449.8,258.7 452.8,258.5 455.8,258.4 458.8,258.3 461.8,258.1 464.8,258 467.8,257.9 470.8,257.7 473.8,257.6 476.8,257.4 479.8,257.2 482.8,257 485.8,256.9 488.8,256.6 491.8,256.4 494.8,256.2 497.8,256 500.8,255.7 503.8,255.5 506.8,255.3 509.8,255 512.8,254.8 515.8,254.6 518.8,254.4 521.8,254.1 524.8,253.9 527.8,253.7 530.8,253.5 533.8,253.2 536.8,253 539.8,252.7 542.8,252.4 545.8,252.2 548.8,251.8 551.8,251.5 554.8,251.2 557.8,250.8 560.8,250.5 563.8,250.1 566.8,249.8 569.8,249.4 572.8,249 575.8,248.6 578.8,248.2 581.8,247.8 584.8,247.4 587.8,247.1 590.8,246.6 593.8,246 596.8,245.5 599.8,245 602.8,244.6 605.8,244.2 608.8,243.8 611.8,243.4 614.8,243 617.8,242.4 620.8,241.7 623.8,240.8 626.8,239.9 629.8,239.2 632.8,238.4 635.8,237.4 638.8,236.5 641.8,235.6 644.8,234.6 647.8,233.4 650.8,231.9 653.8,230.4 656.8,228.8 659.8,227 662.8,225.3 665.3,223.9"/>
<path d="M53.8,226.1 56.8,227.8 59.8,229.3 62.8,230.6 65.8,231.9 68.8,233.1 71.8,234.3 74.8,235.3 77.8,236.3 80.8,237.2 83.8,238.1 86.8,239 89.8,239.9 92.8,240.7 95.8,241.4 98.8,242.3 101.8,243 104.8,243.6 107.8,244.1 110.8,244.5 113.8,245 116.8,245.6 119.8,246.2 122.8,246.8 125.8,247.4 128.8,248 131.8,248.6 134.8,249.3 137.8,249.9 140.8,250.5 143.8,251.1 146.8,251.6 149.8,252.1 152.8,252.5 155.8,253 158.8,253.4 161.8,253.8 164.8,254.1 167.8,254.5 170.8,254.8 173.8,255.1 176.8,255.4 179.8,255.7 182.8,255.9 185.8,256.2 188.8,256.4 191.8,256.6 194.8,256.7 197.8,256.9 200.8,257.1 203.8,257.2 206.8,257.4 209.8,257.5 212.8,257.6 215.8,257.8 218.8,258 221.8,258.1 224.8,258.3 227.8,258.4 230.8,258.6 233.8,258.7 236.8,258.9 239.8,259 242.8,259.1 245.8,259.3 248.8,259.4 251.8,259.5 254.8,259.6 257.8,259.7 260.8,259.8 263.8,259.9 266.8,260 269.8,260.1 272.8,260.2 275.8,260.3 278.8,260.3 281.8,260.4 284.8,260.5 287.8,260.6 290.8,260.6 293.8,260.7 296.8,260.8 299.8,260.8 302.8,260.9 305.8,260.9 308.8,260.9 311.8,260.9 314.8,260.9 317.8,261 320.8,261.1 323.8,261.1 326.8,261.2 329.8,261.2 332.8,261.3 335.8,261.3 338.8,261.3 341.8,261.4 344.8,261.4 347.8,261.4 350.8,261.5 353.8,261.5 356.8,261.5 359.8,261.5 362.8,261.5 365.8,261.4 368.8,261.3 371.8,261.3 374.8,261.2 377.8,261.2 380.8,261.2 383.8,261.2 386.8,261.2 389.8,261.1 392.8,261.1 395.8,261.1 398.8,261.1 401.8,261 404.8,260.9 407.8,260.9 410.8,260.8 413.8,260.6 416.8,260.5 419.8,260.4 422.8,260.3 425.8,260.1 428.8,260 431.8,259.9 434.8,259.8 437.8,259.7 440.8,259.6 443.8,259.5 446.8,259.3 449.8,259.2 452.8,259.1 455.8,258.9 458.8,258.8 461.8,258.7 464.8,258.6 467.8,258.4 470.8,258.3 473.8,258.1 476.8,258 479.8,257.8 482.8,257.6 485.8,257.4 488.8,257.2 491.8,257 494.8,256.8 497.8,256.5 500.8,256.3 503.8,256.1 506.8,255.9 509.8,255.6 512.8,255.4 515.8,255.2 518.8,255 521.8,254.8 524.8,254.6 527.8,254.3 530.8,254.1 533.8,253.9 536.8,253.7 539.8,253.4 542.8,253.1 545.8,252.8 548.8,252.5 551.8,252.2 554.8,251.9 557.8,251.5 560.8,251.2 563.8,250.9 566.8,250.5 569.8,250.2 572.8,249.8 575.8,249.4 578.8,249 581.8,248.6 584.8,248.2 587.8,247.9 590.8,247.4 593.8,246.9 596.8,246.4 599.8,245.9 602.8,245.5 605.8,245.1 608.8,244.7 611.8,244.3 614.8,243.9 617.8,243.3 620.8,242.6 623.8,241.8 626.8,241 629.8,240.3 632.8,239.4 635.8,238.5 638.8,237.6 641.8,236.7 644.8,235.8 647.8,234.6 650.8,233.2 653.8,231.7 656.8,230.1 659.8,228.4 662.8,226.7 665.2,225.4"/>
<path d="M53.9,228.6 56.9,230.1 59.9,231.5 62.9,232.8 65.9,234 68.9,235.1 71.9,236.2 74.9,237.3 77.9,238.2 80.9,239.1 83.9,239.9 86.9,240.8 89.9,241.6 92.9,242.4 95.9,243.2 98.9,244 101.9,244.7 104.9,245.2 107.9,245.7 110.9,246.1 113.9,246.6 116.9,247.1 119.9,247.7 122.9,248.3 125.9,248.9 128.9,249.5 131.9,250.1 134.9,250.7 137.9,251.3 140.9,251.8 143.9,252.4 146.9,252.9 149.9,253.3 152.9,253.8 155.9,254.2 158.9,254.6 161.9,255 164.9,255.3 167.9,255.6 170.9,255.9 173.9,256.2 176.9,256.5 179.9,256.8 182.9,257 185.9,257.3 188.9,257.5 191.9,257.6 194.9,257.8 197.9,257.9 200.9,258.1 203.9,258.2 206.9,258.4 209.9,258.5 212.9,258.7 215.9,258.8 218.9,259 221.9,259.1 224.9,259.3 227.9,259.4 230.9,259.5 233.9,259.7 236.9,259.8 239.9,260 242.9,260.1 245.9,260.2 248.9,260.3 251.9,260.4 254.9,260.5 257.9,260.6 260.9,260.7 263.9,260.8 266.9,260.9 269.9,261 272.9,261.1 275.9,261.2 278.9,261.3 281.9,261.3 284.9,261.4 287.9,261.5 290.9,261.5 293.9,261.6 296.9,261.7 299.9,261.7 302.9,261.7 305.9,261.7 308.9,261.8 311.9,261.8 314.9,261.8 317.9,261.9 320.9,261.9 323.9,262 326.9,262 329.9,262.1 332.9,262.1 335.9,262.1 338.9,262.2 341.9,262.2 344.9,262.2 347.9,262.3 350.9,262.3 353.9,262.3 356.9,262.3 359.9,262.3 362.9,262.3 365.9,262.2 368.9,262.2 371.9,262.1 374.9,262.1 377.9,262 380.9,262 383.9,262 386.9,262 389.9,262 392.9,261.9 395.9,261.9 398.9,261.9 401.9,261.8 404.9,261.8 407.9,261.7 410.9,261.6 413.9,261.5 416.9,261.4 419.9,261.3 422.9,261.1 425.9,261 428.9,260.9 431.9,260.8 434.9,260.7 437.9,260.6 440.9,260.5 443.9,260.3 446.9,260.2 449.9,260.1 452.9,260 455.9,259.8 458.9,259.7 461.9,259.6 464.9,259.5 467.9,259.3 470.9,259.2 473.9,259 476.9,258.9 479.9,258.7 482.9,258.5 485.9,258.3 488.9,258.1 491.9,257.9 494.9,257.7 497.9,257.5 500.9,257.3 503.9,257.1 506.9,256.9 509.9,256.6 512.9,256.4 515.9,256.2 518.9,256 521.9,255.8 524.9,255.6 527.9,255.4 530.9,255.2 533.9,255 536.9,254.8 539.9,254.5 542.9,254.3 545.9,254 548.9,253.7 551.9,253.4 554.9,253.1 557.9,252.7 560.9,252.4 563.9,252.1 566.9,251.8 569.9,251.4 572.9,251.1 575.9,250.7 578.9,250.3 581.9,249.9 584.9,249.6 587.9,249.2 590.9,248.8 593.9,248.3 596.9,247.8 599.9,247.4 602.9,247 605.9,246.6 608.9,246.2 611.9,245.8 614.9,245.4 617.9,244.9 620.9,244.2 623.9,243.4 626.9,242.7 629.9,242 632.9,241.2 635.9,240.3 638.9,239.5 641.9,238.6 644.9,237.7 647.9,236.6 650.9,235.2 653.9,233.8 656.9,232.3 659.9,230.7 662.9,229.1 665.2,228"/>
<path d="M53.9,229.8 56.9,231.2 59.9,232.6 62.9,233.8 65.9,235 68.9,236.1 71.9,237.2 74.9,238.2 77.9,239.1 80.9,240 83.9,240.8 86.9,241.7 89.9,242.5 92.9,243.2 95.9,244 98.9,244.8 101.9,245.5 104.9,246 107.9,246.5 110.9,246.9 113.9,247.4 116.9,247.9 119.9,248.4 122.9,249 125.9,249.6 128.9,250.2 131.9,250.7 134.9,251.3 137.9,251.9 140.9,252.5 143.9,253 146.9,253.5 149.9,253.9 152.9,254.4 155.9,254.8 158.9,255.2 161.9,255.5 164.9,255.9 167.9,256.2 170.9,256.5 173.9,256.8 176.9,257 179.9,257.3 182.9,257.6 185.9,257.8 188.9,258 191.9,258.1 194.9,258.3 197.9,258.4 200.9,258.6 203.9,258.7 206.9,258.9 209.9,259 212.9,259.1 215.9,259.3 218.9,259.4 221.9,259.6 224.9,259.7 227.9,259.9 230.9,260 233.9,260.1 236.9,260.3 239.9,260.4 242.9,260.5 245.9,260.7 248.9,260.8 251.9,260.9 254.9,261 257.9,261.1 260.9,261.2 263.9,261.3 266.9,261.4 269.9,261.5 272.9,261.5 275.9,261.6 278.9,261.7 281.9,261.7 284.9,261.8 287.9,261.9 290.9,261.9 293.9,262 296.9,262.1 299.9,262.1 302.9,262.1 305.9,262.2 308.9,262.2 311.9,262.2 314.9,262.2 317.9,262.3 320.9,262.3 323.9,262.4 326.9,262.4 329.9,262.5 332.9,262.5 335.9,262.5 338.9,262.6 341.9,262.6 344.9,262.6 347.9,262.7 350.9,262.7 353.9,262.7 356.9,262.7 359.9,262.7 362.9,262.7 365.9,262.6 368.9,262.6 371.9,262.5 374.9,262.5 377.9,262.4 380.9,262.4 383.9,262.4 386.9,262.4 389.9,262.4 392.9,262.3 395.9,262.3 398.9,262.3 401.9,262.2 404.9,262.2 407.9,262.1 410.9,262 413.9,261.9 416.9,261.8 419.9,261.7 422.9,261.6 425.9,261.4 428.9,261.3 431.9,261.2 434.9,261.1 437.9,261 440.9,260.9 443.9,260.8 446.9,260.7 449.9,260.5 452.9,260.4 455.9,260.3 458.9,260.1 461.9,260 464.9,259.9 467.9,259.8 470.9,259.6 473.9,259.5 476.9,259.3 479.9,259.1 482.9,259 485.9,258.8 488.9,258.6 491.9,258.4 494.9,258.2 497.9,258 500.9,257.8 503.9,257.5 506.9,257.3 509.9,257.1 512.9,256.9 515.9,256.7 518.9,256.5 521.9,256.4 524.9,256.2 527.9,256 530.9,255.7 533.9,255.5 536.9,255.3 539.9,255.1 542.9,254.8 545.9,254.5 548.9,254.2 551.9,253.9 554.9,253.6 557.9,253.3 560.9,253 563.9,252.7 566.9,252.4 569.9,252 572.9,251.7 575.9,251.3 578.9,250.9 581.9,250.5 584.9,250.2 587.9,249.9 590.9,249.5 593.9,249 596.9,248.5 599.9,248.1 602.9,247.7 605.9,247.3 608.9,246.9 611.9,246.6 614.9,246.2 617.9,245.7 620.9,245 623.9,244.2 626.9,243.5 629.9,242.8 632.9,242 635.9,241.2 638.9,240.4 641.9,239.5 644.9,238.6 647.9,237.5 650.9,236.2 653.9,234.9 656.9,233.4 659.9,231.8 662.9,230.3 665.2,229.2"/>
<path d="M54,232.3 57,233.6 60,234.8 63,236 66,237.1 69,238.1 72,239.2 75,240.1 78,241 81,241.8 84,242.7 87,243.5 90,244.3 93,245 96,245.7 99,246.5 102,247.1 105,247.6 108,248.1 111,248.5 114,248.9 117,249.4 120,249.9 123,250.5 126,251 129,251.6 132,252.1 135,252.7 138,253.3 141,253.8 144,254.3 147,254.7 150,255.2 153,255.6 156,256 159,256.4 162,256.7 165,257 168,257.3 171,257.6 174,257.9 177,258.2 180,258.4 183,258.6 186,258.9 189,259 192,259.2 195,259.4 198,259.5 201,259.6 204,259.8 207,259.9 210,260 213,260.2 216,260.3 219,260.4 222,260.6 225,260.7 228,260.9 231,261 234,261.1 237,261.2 240,261.4 243,261.5 246,261.6 249,261.7 252,261.8 255,261.9 258,262 261,262.1 264,262.2 267,262.3 270,262.4 273,262.5 276,262.5 279,262.6 282,262.6 285,262.7 288,262.8 291,262.8 294,262.9 297,262.9 300,263 303,263 306,263 309,263 312,263.1 315,263.1 318,263.1 321,263.2 324,263.2 327,263.3 330,263.3 333,263.4 336,263.4 339,263.4 342,263.4 345,263.5 348,263.5 351,263.5 354,263.5 357,263.5 360,263.5 363,263.5 366,263.4 369,263.4 372,263.3 375,263.3 378,263.3 381,263.2 384,263.2 387,263.2 390,263.2 393,263.2 396,263.1 399,263.1 402,263.1 405,263 408,262.9 411,262.8 414,262.7 417,262.6 420,262.5 423,262.4 426,262.3 429,262.2 432,262.1 435,262 438,261.9 441,261.8 444,261.7 447,261.5 450,261.4 453,261.3 456,261.2 459,261 462,260.9 465,260.8 468,260.7 471,260.5 474,260.4 477,260.2 480,260.1 483,259.9 486,259.7 489,259.5 492,259.3 495,259.1 498,258.9 501,258.7 504,258.5 507,258.3 510,258.1 513,258 516,257.8 519,257.6 522,257.4 525,257.2 528,257 531,256.8 534,256.6 537,256.4 540,256.2 543,256 546,255.7 549,255.4 552,255.1 555,254.8 558,254.5 561,254.2 564,253.9 567,253.6 570,253.3 573,253 576,252.6 579,252.2 582,251.9 585,251.6 588,251.2 591,250.8 594,250.4 597,249.9 600,249.5 603,249.2 606,248.8 609,248.5 612,248.1 615,247.7 618,247.2 621,246.6 624,245.9 627,245.2 630,244.6 633,243.8 636,243 639,242.2 642,241.4 645,240.6 648,239.5 651,238.3 654,237 657,235.6 660,234.2 663,232.7 665.1,231.7"/>
<path d="M54,233.8 57,235.1 60,236.3 63,237.4 66,238.4 69,239.4 72,240.4 75,241.4 78,242.2 81,243 84,243.8 87,244.6 90,245.4 93,246.1 96,246.8 99,247.6 102,248.2 105,248.7 108,249.1 111,249.5 114,249.9 117,250.4 120,250.9 123,251.4 126,252 129,252.5 132,253 135,253.6 138,254.1 141,254.6 144,255.1 147,255.6 150,256 153,256.4 156,256.8 159,257.1 162,257.5 165,257.8 168,258.1 171,258.4 174,258.6 177,258.9 180,259.1 183,259.3 186,259.5 189,259.7 192,259.9 195,260 198,260.2 201,260.3 204,260.4 207,260.6 210,260.7 213,260.8 216,260.9 219,261.1 222,261.2 225,261.4 228,261.5 231,261.6 234,261.7 237,261.9 240,262 243,262.1 246,262.2 249,262.3 252,262.4 255,262.5 258,262.6 261,262.7 264,262.8 267,262.9 270,263 273,263 276,263.1 279,263.2 282,263.2 285,263.3 288,263.3 291,263.4 294,263.4 297,263.5 300,263.5 303,263.6 306,263.6 309,263.6 312,263.6 315,263.6 318,263.7 321,263.7 324,263.8 327,263.8 330,263.9 333,263.9 336,263.9 339,263.9 342,264 345,264 348,264 351,264 354,264.1 357,264.1 360,264 363,264 366,264 369,263.9 372,263.9 375,263.8 378,263.8 381,263.8 384,263.8 387,263.7 390,263.7 393,263.7 396,263.7 399,263.6 402,263.6 405,263.5 408,263.5 411,263.4 414,263.3 417,263.2 420,263.1 423,263 426,262.9 429,262.8 432,262.7 435,262.6 438,262.5 441,262.4 444,262.2 447,262.1 450,262 453,261.9 456,261.7 459,261.6 462,261.5 465,261.4 468,261.2 471,261.1 474,261 477,260.8 480,260.6 483,260.5 486,260.3 489,260.1 492,259.9 495,259.7 498,259.5 501,259.4 504,259.2 507,259 510,258.8 513,258.6 516,258.4 519,258.3 522,258.1 525,257.9 528,257.7 531,257.6 534,257.4 537,257.1 540,256.9 543,256.7 546,256.4 549,256.1 552,255.9 555,255.6 558,255.3 561,255 564,254.7 567,254.4 570,254.1 573,253.8 576,253.4 579,253.1 582,252.7 585,252.4 588,252.1 591,251.7 594,251.3 597,250.8 600,250.5 603,250.1 606,249.8 609,249.4 612,249.1 615,248.7 618,248.2 621,247.6 624,246.9 627,246.3 630,245.7 633,244.9 636,244.1 639,243.4 642,242.6 645,241.8 648,240.8 651,239.6 654,238.4 657,237 660,235.6 663,234.2 665,233.3"/>
<path d="M54,235.5 57,236.7 60,237.8 63,238.9 66,239.8 69,240.8 72,241.8 75,242.7 78,243.5 81,244.3 84,245.1 87,245.9 90,246.6 93,247.3 96,248 99,248.7 102,249.3 105,249.8 108,250.2 111,250.6 114,251 117,251.5 120,252 123,252.5 126,253 129,253.5 132,254 135,254.5 138,255 141,255.5 144,256 147,256.4 150,256.8 153,257.2 156,257.6 159,257.9 162,258.3 165,258.6 168,258.9 171,259.1 174,259.4 177,259.6 180,259.9 183,260.1 186,260.3 189,260.5 192,260.6 195,260.7 198,260.9 201,261 204,261.1 207,261.3 210,261.4 213,261.5 216,261.6 219,261.8 222,261.9 225,262 228,262.1 231,262.3 234,262.4 237,262.5 240,262.6 243,262.7 246,262.8 249,262.9 252,263 255,263.2 258,263.2 261,263.3 264,263.4 267,263.5 270,263.6 273,263.7 276,263.7 279,263.8 282,263.8 285,263.9 288,263.9 291,264 294,264 297,264.1 300,264.1 303,264.2 306,264.2 309,264.2 312,264.2 315,264.2 318,264.3 321,264.3 324,264.4 327,264.4 330,264.4 333,264.5 336,264.5 339,264.5 342,264.5 345,264.6 348,264.6 351,264.6 354,264.6 357,264.6 360,264.6 363,264.6 366,264.5 369,264.5 372,264.4 375,264.4 378,264.4 381,264.3 384,264.3 387,264.3 390,264.3 393,264.3 396,264.2 399,264.2 402,264.2 405,264.1 408,264 411,264 414,263.9 417,263.8 420,263.7 423,263.6 426,263.5 429,263.4 432,263.3 435,263.2 438,263.1 441,263 444,262.9 447,262.7 450,262.6 453,262.5 456,262.3 459,262.2 462,262.1 465,262 468,261.9 471,261.7 474,261.6 477,261.4 480,261.3 483,261.1 486,260.9 489,260.8 492,260.6 495,260.4 498,260.2 501,260 504,259.8 507,259.7 510,259.5 513,259.3 516,259.2 519,259 522,258.8 525,258.7 528,258.5 531,258.3 534,258.1 537,257.9 540,257.7 543,257.4 546,257.2 549,256.9 552,256.7 555,256.4 558,256.1 561,255.8 564,255.5 567,255.2 570,254.9 573,254.6 576,254.3 579,254 582,253.6 585,253.3 588,253 591,252.7 594,252.2 597,251.8 600,251.4 603,251.1 606,250.8 609,250.5 612,250.1 615,249.8 618,249.3 621,248.7 624,248 627,247.4 630,246.8 633,246.1 636,245.4 639,244.7 642,243.9 645,243.1 648,242.1 651,241 654,239.8 657,238.5 660,237.2 663,235.8 665,235"/>
<path d="M54.1,237.1 57.1,238.2 60.1,239.3 63.1,240.2 66.1,241.2 69.1,242.1 72.1,243 75.1,243.9 78.1,244.8 81.1,245.5 84.1,246.3 87.1,247 90.1,247.8 93.1,248.4 96.1,249.1 99.1,249.8 102.1,250.3 105.1,250.8 108.1,251.2 111.1,251.6 114.1,252 117.1,252.5 120.1,252.9 123.1,253.4 126.1,253.9 129.1,254.4 132.1,254.9 135.1,255.4 138.1,255.9 141.1,256.4 144.1,256.8 147.1,257.2 150.1,257.6 153.1,258 156.1,258.4 159.1,258.7 162.1,259 165.1,259.3 168.1,259.6 171.1,259.9 174.1,260.1 177.1,260.3 180.1,260.6 183.1,260.8 186.1,261 189.1,261.1 192.1,261.3 195.1,261.4 198.1,261.5 201.1,261.7 204.1,261.8 207.1,261.9 210.1,262 213.1,262.2 216.1,262.3 219.1,262.4 222.1,262.5 225.1,262.7 228.1,262.8 231.1,262.9 234.1,263 237.1,263.1 240.1,263.2 243.1,263.3 246.1,263.4 249.1,263.5 252.1,263.7 255.1,263.8 258.1,263.8 261.1,263.9 264.1,264 267.1,264.1 270.1,264.2 273.1,264.2 276.1,264.3 279.1,264.4 282.1,264.4 285.1,264.5 288.1,264.5 291.1,264.6 294.1,264.6 297.1,264.7 300.1,264.7 303.1,264.7 306.1,264.7 309.1,264.7 312.1,264.8 315.1,264.8 318.1,264.8 321.1,264.9 324.1,264.9 327.1,264.9 330.1,265 333.1,265 336.1,265 339.1,265.1 342.1,265.1 345.1,265.1 348.1,265.1 351.1,265.1 354.1,265.1 357.1,265.1 360.1,265.1 363.1,265.1 366.1,265 369.1,265 372.1,264.9 375.1,264.9 378.1,264.9 381.1,264.9 384.1,264.8 387.1,264.8 390.1,264.8 393.1,264.8 396.1,264.8 399.1,264.7 402.1,264.7 405.1,264.6 408.1,264.6 411.1,264.5 414.1,264.4 417.1,264.3 420.1,264.2 423.1,264.1 426.1,264 429.1,263.9 432.1,263.9 435.1,263.8 438.1,263.7 441.1,263.5 444.1,263.4 447.1,263.3 450.1,263.2 453.1,263 456.1,262.9 459.1,262.8 462.1,262.7 465.1,262.6 468.1,262.4 471.1,262.3 474.1,262.2 477.1,262 480.1,261.9 483.1,261.7 486.1,261.5 489.1,261.4 492.1,261.2 495.1,261 498.1,260.8 501.1,260.6 504.1,260.5 507.1,260.3 510.1,260.1 513.1,260 516.1,259.8 519.1,259.7 522.1,259.5 525.1,259.3 528.1,259.2 531.1,259 534.1,258.8 537.1,258.6 540.1,258.4 543.1,258.2 546.1,257.9 549.1,257.7 552.1,257.4 555.1,257.1 558.1,256.9 561.1,256.6 564.1,256.3 567.1,256 570.1,255.7 573.1,255.4 576.1,255.1 579.1,254.8 582.1,254.5 585.1,254.2 588.1,253.9 591.1,253.5 594.1,253.1 597.1,252.7 600.1,252.4 603.1,252.1 606.1,251.7 609.1,251.4 612.1,251.1 615.1,250.8 618.1,250.3 621.1,249.8 624.1,249.1 627.1,248.5 630.1,247.9 633.1,247.3 636.1,246.5 639.1,245.8 642.1,245.1 645.1,244.3 648.1,243.4 651.1,242.3 654.1,241.2 657.1,240 660.1,238.7 663.1,237.4 664.9,236.6"/>
<path d="M54.1,238.5 57.1,239.5 60.1,240.5 63.1,241.5 66.1,242.4 69.1,243.2 72.1,244.1 75.1,245 78.1,245.8 81.1,246.6 84.1,247.3 87.1,248.1 90.1,248.8 93.1,249.4 96.1,250.1 99.1,250.7 102.1,251.3 105.1,251.7 108.1,252.1 111.1,252.5 114.1,252.9 117.1,253.3 120.1,253.8 123.1,254.3 126.1,254.7 129.1,255.2 132.1,255.7 135.1,256.2 138.1,256.7 141.1,257.1 144.1,257.6 147.1,258 150.1,258.3 153.1,258.7 156.1,259.1 159.1,259.4 162.1,259.7 165.1,260 168.1,260.2 171.1,260.5 174.1,260.7 177.1,261 180.1,261.2 183.1,261.4 186.1,261.6 189.1,261.7 192.1,261.9 195.1,262 198.1,262.1 201.1,262.3 204.1,262.4 207.1,262.5 210.1,262.6 213.1,262.7 216.1,262.8 219.1,263 222.1,263.1 225.1,263.2 228.1,263.3 231.1,263.4 234.1,263.5 237.1,263.7 240.1,263.8 243.1,263.9 246.1,264 249.1,264.1 252.1,264.2 255.1,264.3 258.1,264.4 261.1,264.4 264.1,264.5 267.1,264.6 270.1,264.7 273.1,264.7 276.1,264.8 279.1,264.9 282.1,264.9 285.1,265 288.1,265 291.1,265 294.1,265.1 297.1,265.1 300.1,265.2 303.1,265.2 306.1,265.2 309.1,265.2 312.1,265.2 315.1,265.3 318.1,265.3 321.1,265.3 324.1,265.4 327.1,265.4 330.1,265.4 333.1,265.5 336.1,265.5 339.1,265.5 342.1,265.5 345.1,265.6 348.1,265.6 351.1,265.6 354.1,265.6 357.1,265.6 360.1,265.6 363.1,265.5 366.1,265.5 369.1,265.5 372.1,265.4 375.1,265.4 378.1,265.4 381.1,265.3 384.1,265.3 387.1,265.3 390.1,265.3 393.1,265.2 396.1,265.2 399.1,265.2 402.1,265.2 405.1,265.1 408.1,265 411.1,265 414.1,264.9 417.1,264.8 420.1,264.7 423.1,264.6 426.1,264.5 429.1,264.4 432.1,264.4 435.1,264.3 438.1,264.2 441.1,264 444.1,263.9 447.1,263.8 450.1,263.7 453.1,263.5 456.1,263.4 459.1,263.3 462.1,263.2 465.1,263.1 468.1,262.9 471.1,262.8 474.1,262.7 477.1,262.5 480.1,262.4 483.1,262.2 486.1,262.1 489.1,261.9 492.1,261.7 495.1,261.5 498.1,261.4 501.1,261.2 504.1,261 507.1,260.9 510.1,260.7 513.1,260.5 516.1,260.4 519.1,260.3 522.1,260.1 525.1,259.9 528.1,259.8 531.1,259.6 534.1,259.4 537.1,259.2 540.1,259 543.1,258.8 546.1,258.6 549.1,258.3 552.1,258.1 555.1,257.8 558.1,257.5 561.1,257.3 564.1,257 567.1,256.7 570.1,256.4 573.1,256.2 576.1,255.9 579.1,255.5 582.1,255.2 585.1,255 588.1,254.7 591.1,254.3 594.1,253.9 597.1,253.5 600.1,253.2 603.1,252.9 606.1,252.6 609.1,252.3 612.1,252 615.1,251.6 618.1,251.2 621.1,250.7 624.1,250 627.1,249.4 630.1,248.9 633.1,248.3 636.1,247.6 639.1,246.9 642.1,246.2 645.1,245.4 648.1,244.5 651.1,243.5 654.1,242.4 657.1,241.2 660.1,240 663.1,238.7 664.9,238"/>
<path d="M54.3,241 57.3,242 60.3,242.9 63.3,243.7 66.3,244.5 69.3,245.3 72.3,246.2 75.3,247 78.3,247.8 81.3,248.5 84.3,249.2 87.3,249.9 90.3,250.6 93.3,251.3 96.3,251.8 99.3,252.5 102.3,253 105.3,253.4 108.3,253.8 111.3,254.2 114.3,254.5 117.3,254.9 120.3,255.4 123.3,255.8 126.3,256.3 129.3,256.7 132.3,257.2 135.3,257.6 138.3,258.1 141.3,258.5 144.3,258.9 147.3,259.3 150.3,259.6 153.3,260 156.3,260.3 159.3,260.6 162.3,260.9 165.3,261.2 168.3,261.4 171.3,261.7 174.3,261.9 177.3,262.1 180.3,262.3 183.3,262.5 186.3,262.7 189.3,262.8 192.3,263 195.3,263.1 198.3,263.2 201.3,263.3 204.3,263.5 207.3,263.6 210.3,263.7 213.3,263.8 216.3,263.9 219.3,264 222.3,264.1 225.3,264.2 228.3,264.3 231.3,264.4 234.3,264.5 237.3,264.6 240.3,264.8 243.3,264.9 246.3,264.9 249.3,265.1 252.3,265.2 255.3,265.3 258.3,265.3 261.3,265.4 264.3,265.5 267.3,265.6 270.3,265.6 273.3,265.7 276.3,265.7 279.3,265.8 282.3,265.8 285.3,265.9 288.3,265.9 291.3,266 294.3,266 297.3,266 300.3,266.1 303.3,266.1 306.3,266.1 309.3,266.1 312.3,266.1 315.3,266.2 318.3,266.2 321.3,266.2 324.3,266.3 327.3,266.3 330.3,266.3 333.3,266.3 336.3,266.4 339.3,266.4 342.3,266.4 345.3,266.4 348.3,266.4 351.3,266.4 354.3,266.4 357.3,266.4 360.3,266.4 363.3,266.4 366.3,266.4 369.3,266.3 372.3,266.3 375.3,266.2 378.3,266.2 381.3,266.2 384.3,266.2 387.3,266.1 390.3,266.1 393.3,266.1 396.3,266.1 399.3,266 402.3,266 405.3,266 408.3,265.9 411.3,265.8 414.3,265.8 417.3,265.7 420.3,265.6 423.3,265.5 426.3,265.4 429.3,265.4 432.3,265.3 435.3,265.2 438.3,265.1 441.3,265 444.3,264.9 447.3,264.7 450.3,264.6 453.3,264.5 456.3,264.4 459.3,264.2 462.3,264.1 465.3,264 468.3,263.9 471.3,263.7 474.3,263.6 477.3,263.5 480.3,263.3 483.3,263.2 486.3,263 489.3,262.9 492.3,262.7 495.3,262.5 498.3,262.4 501.3,262.2 504.3,262 507.3,261.9 510.3,261.8 513.3,261.6 516.3,261.5 519.3,261.3 522.3,261.2 525.3,261.1 528.3,260.9 531.3,260.8 534.3,260.6 537.3,260.4 540.3,260.2 543.3,260 546.3,259.8 549.3,259.5 552.3,259.3 555.3,259 558.3,258.8 561.3,258.5 564.3,258.3 567.3,258 570.3,257.8 573.3,257.5 576.3,257.2 579.3,256.9 582.3,256.6 585.3,256.3 588.3,256.1 591.3,255.7 594.3,255.4 597.3,255 600.3,254.7 603.3,254.4 606.3,254.1 609.3,253.8 612.3,253.6 615.3,253.2 618.3,252.8 621.3,252.3 624.3,251.7 627.3,251.2 630.3,250.7 633.3,250.1 636.3,249.4 639.3,248.8 642.3,248.1 645.3,247.4 648.3,246.6 651.3,245.6 654.3,244.6 657.3,243.5 660.3,242.4 663.3,241.2 664.8,240.6"/>
<path d="M54.3,241.7 57.3,242.6 60.3,243.5 63.3,244.3 66.3,245.1 69.3,245.9 72.3,246.8 75.3,247.6 78.3,248.3 81.3,249.1 84.3,249.8 87.3,250.5 90.3,251.1 93.3,251.7 96.3,252.3 99.3,252.9 102.3,253.4 105.3,253.9 108.3,254.2 111.3,254.6 114.3,255 117.3,255.4 120.3,255.8 123.3,256.2 126.3,256.7 129.3,257.1 132.3,257.6 135.3,258 138.3,258.4 141.3,258.9 144.3,259.3 147.3,259.6 150.3,260 153.3,260.3 156.3,260.7 159.3,261 162.3,261.3 165.3,261.5 168.3,261.8 171.3,262 174.3,262.2 177.3,262.4 180.3,262.6 183.3,262.8 186.3,263 189.3,263.1 192.3,263.3 195.3,263.4 198.3,263.5 201.3,263.6 204.3,263.7 207.3,263.9 210.3,264 213.3,264.1 216.3,264.2 219.3,264.3 222.3,264.4 225.3,264.5 228.3,264.6 231.3,264.7 234.3,264.8 237.3,264.9 240.3,265 243.3,265.1 246.3,265.2 249.3,265.3 252.3,265.4 255.3,265.5 258.3,265.6 261.3,265.7 264.3,265.8 267.3,265.8 270.3,265.9 273.3,266 276.3,266 279.3,266 282.3,266.1 285.3,266.1 288.3,266.2 291.3,266.2 294.3,266.3 297.3,266.3 300.3,266.3 303.3,266.3 306.3,266.4 309.3,266.4 312.3,266.4 315.3,266.4 318.3,266.4 321.3,266.5 324.3,266.5 327.3,266.5 330.3,266.6 333.3,266.6 336.3,266.6 339.3,266.6 342.3,266.6 345.3,266.7 348.3,266.7 351.3,266.7 354.3,266.7 357.3,266.7 360.3,266.7 363.3,266.6 366.3,266.6 369.3,266.5 372.3,266.5 375.3,266.5 378.3,266.4 381.3,266.4 384.3,266.4 387.3,266.4 390.3,266.4 393.3,266.3 396.3,266.3 399.3,266.3 402.3,266.2 405.3,266.2 408.3,266.1 411.3,266.1 414.3,266 417.3,265.9 420.3,265.9 423.3,265.8 426.3,265.7 429.3,265.6 432.3,265.5 435.3,265.4 438.3,265.3 441.3,265.2 444.3,265.1 447.3,265 450.3,264.9 453.3,264.7 456.3,264.6 459.3,264.5 462.3,264.4 465.3,264.3 468.3,264.1 471.3,264 474.3,263.9 477.3,263.7 480.3,263.6 483.3,263.4 486.3,263.3 489.3,263.1 492.3,263 495.3,262.8 498.3,262.6 501.3,262.5 504.3,262.3 507.3,262.2 510.3,262 513.3,261.9 516.3,261.8 519.3,261.6 522.3,261.5 525.3,261.4 528.3,261.2 531.3,261.1 534.3,260.9 537.3,260.7 540.3,260.5 543.3,260.3 546.3,260.1 549.3,259.8 552.3,259.6 555.3,259.4 558.3,259.1 561.3,258.9 564.3,258.6 567.3,258.4 570.3,258.1 573.3,257.8 576.3,257.6 579.3,257.3 582.3,257 585.3,256.7 588.3,256.5 591.3,256.1 594.3,255.8 597.3,255.4 600.3,255.1 603.3,254.8 606.3,254.6 609.3,254.3 612.3,254 615.3,253.7 618.3,253.3 621.3,252.8 624.3,252.2 627.3,251.7 630.3,251.2 633.3,250.6 636.3,249.9 639.3,249.3 642.3,248.7 645.3,248 648.3,247.1 651.3,246.2 654.3,245.2 657.3,244.1 660.3,243 663.3,241.9 664.8,241.3"/>
<path d="M54.4,244.3 57.4,245.1 60.4,245.8 63.4,246.6 66.4,247.3 69.4,248 72.4,248.8 75.4,249.6 78.4,250.3 81.4,251 84.4,251.7 87.4,252.3 90.4,253 93.4,253.6 96.4,254.1 99.4,254.7 102.4,255.2 105.4,255.5 108.4,255.9 111.4,256.3 114.4,256.6 117.4,257 120.4,257.4 123.4,257.8 126.4,258.2 129.4,258.6 132.4,259 135.4,259.4 138.4,259.9 141.4,260.2 144.4,260.6 147.4,261 150.4,261.3 153.4,261.6 156.4,261.9 159.4,262.2 162.4,262.5 165.4,262.7 168.4,263 171.4,263.2 174.4,263.4 177.4,263.6 180.4,263.8 183.4,264 186.4,264.1 189.4,264.3 192.4,264.4 195.4,264.5 198.4,264.6 201.4,264.7 204.4,264.8 207.4,264.9 210.4,265 213.4,265.1 216.4,265.2 219.4,265.3 222.4,265.4 225.4,265.5 228.4,265.6 231.4,265.7 234.4,265.8 237.4,265.9 240.4,266 243.4,266.1 246.4,266.2 249.4,266.3 252.4,266.4 255.4,266.5 258.4,266.6 261.4,266.6 264.4,266.7 267.4,266.8 270.4,266.8 273.4,266.9 276.4,266.9 279.4,267 282.4,267 285.4,267.1 288.4,267.1 291.4,267.1 294.4,267.2 297.4,267.2 300.4,267.2 303.4,267.2 306.4,267.3 309.4,267.3 312.4,267.3 315.4,267.3 318.4,267.3 321.4,267.4 324.4,267.4 327.4,267.4 330.4,267.4 333.4,267.5 336.4,267.5 339.4,267.5 342.4,267.5 345.4,267.5 348.4,267.5 351.4,267.5 354.4,267.5 357.4,267.5 360.4,267.5 363.4,267.5 366.4,267.4 369.4,267.4 372.4,267.4 375.4,267.3 378.4,267.3 381.4,267.3 384.4,267.3 387.4,267.2 390.4,267.2 393.4,267.2 396.4,267.2 399.4,267.1 402.4,267.1 405.4,267.1 408.4,267 411.4,266.9 414.4,266.9 417.4,266.8 420.4,266.8 423.4,266.7 426.4,266.6 429.4,266.5 432.4,266.4 435.4,266.4 438.4,266.3 441.4,266.1 444.4,266 447.4,265.9 450.4,265.8 453.4,265.7 456.4,265.5 459.4,265.4 462.4,265.3 465.4,265.2 468.4,265.1 471.4,264.9 474.4,264.8 477.4,264.7 480.4,264.5 483.4,264.4 486.4,264.2 489.4,264.1 492.4,263.9 495.4,263.8 498.4,263.6 501.4,263.5 504.4,263.4 507.4,263.2 510.4,263.1 513.4,263 516.4,262.9 519.4,262.7 522.4,262.6 525.4,262.5 528.4,262.4 531.4,262.2 534.4,262 537.4,261.9 540.4,261.7 543.4,261.5 546.4,261.3 549.4,261 552.4,260.8 555.4,260.6 558.4,260.4 561.4,260.1 564.4,259.9 567.4,259.7 570.4,259.4 573.4,259.2 576.4,258.9 579.4,258.6 582.4,258.4 585.4,258.1 588.4,257.9 591.4,257.6 594.4,257.2 597.4,256.9 600.4,256.6 603.4,256.4 606.4,256.1 609.4,255.8 612.4,255.6 615.4,255.3 618.4,254.9 621.4,254.4 624.4,253.9 627.4,253.4 630.4,253 633.4,252.4 636.4,251.8 639.4,251.2 642.4,250.6 645.4,250 648.4,249.2 651.4,248.3 654.4,247.4 657.4,246.4 660.4,245.4 663.4,244.4 664.7,243.9"/>
<path d="M54.5,246 57.5,246.7 60.5,247.3 63.5,248 66.5,248.7 69.5,249.4 72.5,250.2 75.5,250.9 78.5,251.6 81.5,252.3 84.5,252.9 87.5,253.6 90.5,254.2 93.5,254.8 96.5,255.3 99.5,255.8 102.5,256.3 105.5,256.7 108.5,257 111.5,257.3 114.5,257.7 117.5,258 120.5,258.4 123.5,258.8 126.5,259.2 129.5,259.6 132.5,260 135.5,260.4 138.5,260.8 141.5,261.2 144.5,261.5 147.5,261.8 150.5,262.2 153.5,262.5 156.5,262.8 159.5,263 162.5,263.3 165.5,263.5 168.5,263.8 171.5,264 174.5,264.2 177.5,264.4 180.5,264.5 183.5,264.7 186.5,264.9 189.5,265 192.5,265.1 195.5,265.2 198.5,265.3 201.5,265.4 204.5,265.5 207.5,265.6 210.5,265.7 213.5,265.8 216.5,265.9 219.5,266 222.5,266.1 225.5,266.2 228.5,266.3 231.5,266.4 234.5,266.5 237.5,266.6 240.5,266.7 243.5,266.7 246.5,266.8 249.5,266.9 252.5,267 255.5,267.1 258.5,267.2 261.5,267.3 264.5,267.3 267.5,267.4 270.5,267.5 273.5,267.5 276.5,267.6 279.5,267.6 282.5,267.6 285.5,267.7 288.5,267.7 291.5,267.7 294.5,267.8 297.5,267.8 300.5,267.8 303.5,267.8 306.5,267.8 309.5,267.9 312.5,267.9 315.5,267.9 318.5,267.9 321.5,267.9 324.5,268 327.5,268 330.5,268 333.5,268 336.5,268 339.5,268.1 342.5,268.1 345.5,268.1 348.5,268.1 351.5,268.1 354.5,268.1 357.5,268.1 360.5,268.1 363.5,268 366.5,268 369.5,267.9 372.5,267.9 375.5,267.9 378.5,267.9 381.5,267.8 384.5,267.8 387.5,267.8 390.5,267.8 393.5,267.8 396.5,267.7 399.5,267.7 402.5,267.7 405.5,267.6 408.5,267.6 411.5,267.5 414.5,267.5 417.5,267.4 420.5,267.3 423.5,267.3 426.5,267.2 429.5,267.1 432.5,267 435.5,267 438.5,266.9 441.5,266.8 444.5,266.6 447.5,266.5 450.5,266.4 453.5,266.3 456.5,266.1 459.5,266 462.5,265.9 465.5,265.8 468.5,265.7 471.5,265.6 474.5,265.4 477.5,265.3 480.5,265.2 483.5,265 486.5,264.9 489.5,264.7 492.5,264.6 495.5,264.4 498.5,264.3 501.5,264.1 504.5,264 507.5,263.9 510.5,263.8 513.5,263.7 516.5,263.6 519.5,263.5 522.5,263.3 525.5,263.2 528.5,263.1 531.5,263 534.5,262.8 537.5,262.6 540.5,262.5 543.5,262.3 546.5,262.1 549.5,261.8 552.5,261.6 555.5,261.4 558.5,261.2 561.5,260.9 564.5,260.7 567.5,260.5 570.5,260.3 573.5,260 576.5,259.8 579.5,259.5 582.5,259.3 585.5,259 588.5,258.8 591.5,258.5 594.5,258.2 597.5,257.9 600.5,257.6 603.5,257.4 606.5,257.1 609.5,256.9 612.5,256.6 615.5,256.3 618.5,256 621.5,255.5 624.5,255 627.5,254.6 630.5,254.1 633.5,253.6 636.5,253.1 639.5,252.5 642.5,251.9 645.5,251.3 648.5,250.5 651.5,249.7 654.5,248.8 657.5,247.9 660.5,247 663.5,246 664.6,245.7"/>
<path d="M54.6,247.7 57.6,248.3 60.6,249 63.6,249.6 66.6,250.2 69.6,250.9 72.6,251.6 75.6,252.3 78.6,253 81.6,253.6 84.6,254.3 87.6,254.9 90.6,255.5 93.6,256 96.6,256.5 99.6,257 102.6,257.5 105.6,257.8 108.6,258.2 111.6,258.5 114.6,258.8 117.6,259.2 120.6,259.5 123.6,259.9 126.6,260.3 129.6,260.6 132.6,261 135.6,261.4 138.6,261.8 141.6,262.1 144.6,262.4 147.6,262.8 150.6,263.1 153.6,263.4 156.6,263.6 159.6,263.9 162.6,264.2 165.6,264.4 168.6,264.6 171.6,264.8 174.6,265 177.6,265.2 180.6,265.3 183.6,265.5 186.6,265.6 189.6,265.8 192.6,265.9 195.6,266 198.6,266.1 201.6,266.2 204.6,266.3 207.6,266.4 210.6,266.5 213.6,266.5 216.6,266.6 219.6,266.7 222.6,266.8 225.6,266.9 228.6,267 231.6,267.1 234.6,267.2 237.6,267.3 240.6,267.3 243.6,267.4 246.6,267.5 249.6,267.6 252.6,267.7 255.6,267.8 258.6,267.9 261.6,267.9 264.6,268 267.6,268.1 270.6,268.1 273.6,268.2 276.6,268.2 279.6,268.2 282.6,268.3 285.6,268.3 288.6,268.3 291.6,268.4 294.6,268.4 297.6,268.4 300.6,268.4 303.6,268.5 306.6,268.5 309.6,268.5 312.6,268.5 315.6,268.5 318.6,268.5 321.6,268.6 324.6,268.6 327.6,268.6 330.6,268.6 333.6,268.6 336.6,268.6 339.6,268.7 342.6,268.7 345.6,268.7 348.6,268.7 351.6,268.7 354.6,268.7 357.6,268.7 360.6,268.6 363.6,268.6 366.6,268.6 369.6,268.5 372.6,268.5 375.6,268.5 378.6,268.5 381.6,268.4 384.6,268.4 387.6,268.4 390.6,268.4 393.6,268.3 396.6,268.3 399.6,268.3 402.6,268.3 405.6,268.2 408.6,268.2 411.6,268.1 414.6,268.1 417.6,268 420.6,268 423.6,267.9 426.6,267.8 429.6,267.8 432.6,267.7 435.6,267.6 438.6,267.5 441.6,267.4 444.6,267.3 447.6,267.2 450.6,267 453.6,266.9 456.6,266.8 459.6,266.7 462.6,266.6 465.6,266.4 468.6,266.3 471.6,266.2 474.6,266.1 477.6,265.9 480.6,265.8 483.6,265.7 486.6,265.5 489.6,265.4 492.6,265.3 495.6,265.1 498.6,265 501.6,264.8 504.6,264.7 507.6,264.6 510.6,264.5 513.6,264.4 516.6,264.3 519.6,264.2 522.6,264.1 525.6,264 528.6,263.9 531.6,263.7 534.6,263.6 537.6,263.4 540.6,263.3 543.6,263.1 546.6,262.9 549.6,262.7 552.6,262.5 555.6,262.2 558.6,262 561.6,261.8 564.6,261.6 567.6,261.4 570.6,261.2 573.6,260.9 576.6,260.7 579.6,260.5 582.6,260.2 585.6,260 588.6,259.8 591.6,259.5 594.6,259.2 597.6,258.9 600.6,258.7 603.6,258.4 606.6,258.2 609.6,258 612.6,257.7 615.6,257.4 618.6,257.1 621.6,256.7 624.6,256.2 627.6,255.8 630.6,255.4 633.6,254.9 636.6,254.4 639.6,253.8 642.6,253.3 645.6,252.7 648.6,252 651.6,251.2 654.6,250.4 657.6,249.5 660.6,248.6 663.6,247.7 664.5,247.5"/>
<path d="M54,250.4 57,251 60,251.7 63,252.4 66,253 69,253.5 72,254.1 75,254.8 78,255.4 81,255.9 84,256.4 87,256.9 90,257.4 93,257.8 96,258.2 99,258.5 102,258.7 105,258.9 108,259.1 111,259.3 114,259.5 117,259.7 120,259.9 123,260.2 126,260.6 129,261.1 132,261.6 135,262 138,262.5 141,263 144,263.4 147,263.9 150,264.3 153,264.6 156,265 159,265.3 162,265.5 165,265.8 168,265.9 171,266.1 174,266.3 177,266.4 180,266.5 183,266.7 186,266.8 189,266.8 192,266.9 195,267 198,267.1 201,267.1 204,267.2 207,267.2 210,267.3 213,267.4 216,267.4 219,267.5 222,267.5 225,267.6 228,267.7 231,267.7 234,267.8 237,267.8 240,267.9 243,268 246,268 249,268.1 252,268.2 255,268.3 258,268.4 261,268.4 264,268.5 267,268.5 270,268.6 273,268.6 276,268.6 279,268.6 282,268.6 285,268.7 288,268.7 291,268.7 294,268.7 297,268.7 300,268.7 303,268.7 306,268.7 309,268.7 312,268.7 315,268.7 318,268.8 321,268.8 324,268.8 327,268.8 330,268.8 333,268.8 336,268.8 339,268.8 342,268.8 345,268.8 348,268.8 351,268.8 354,268.8 357,268.7 360,268.7 363,268.7 366,268.7 369,268.6 372,268.6 375,268.6 378,268.6 381,268.5 384,268.5 387,268.5 390,268.5 393,268.5 396,268.4 399,268.4 402,268.4 405,268.4 408,268.3 411,268.3 414,268.3 417,268.2 420,268.2 423,268.1 426,268.1 429,268 432,268 435,267.9 438,267.8 441,267.6 444,267.5 447,267.4 450,267.2 453,267.1 456,267 459,266.8 462,266.7 465,266.6 468,266.4 471,266.3 474,266.1 477,266 480,265.8 483,265.7 486,265.5 489,265.4 492,265.3 495,265.1 498,265 501,264.9 504,264.8 507,264.7 510,264.6 513,264.5 516,264.4 519,264.3 522,264.2 525,264.1 528,264 531,263.8 534,263.7 537,263.5 540,263.3 543,263.1 546,262.9 549,262.7 552,262.5 555,262.3 558,262.2 561,262 564,261.8 567,261.7 570,261.5 573,261.4 576,261.2 579,261 582,260.9 585,260.7 588,260.5 591,260.3 594,260.2 597,260 600,259.8 603,259.6 606,259.5 609,259.3 612,259 615,258.8 618,258.5 621,258.2 624,257.8 627,257.5 630,257.1 633,256.7 636,256.2 639,255.7 642,255.2 645,254.7 648,254.1 651,253.5 654,252.9 657,252.3 660,251.7 663,251 664.5,250.6"/>
<path d="M53.8,253.5 56.8,254.3 59.8,255.2 62.8,256.1 65.8,257 68.8,257.9 71.8,258.7 74.8,259.4 77.8,260.1 80.8,260.7 83.8,261.2 86.8,261.7 89.8,262.2 92.8,262.6 95.8,263 98.8,263.4 101.8,263.7 104.8,264 107.8,264.3 110.8,264.5 113.8,264.8 116.8,265 119.8,265.3 122.8,265.5 125.8,265.8 128.8,266.1 131.8,266.3 134.8,266.6 137.8,266.9 140.8,267.1 143.8,267.4 146.8,267.6 149.8,267.8 152.8,268 155.8,268.3 158.8,268.5 161.8,268.7 164.8,268.8 167.8,269 170.8,269.1 173.8,269.3 176.8,269.4 179.8,269.5 182.8,269.6 185.8,269.8 188.8,269.9 191.8,269.9 194.8,270 197.8,270.1 200.8,270.2 203.8,270.3 206.8,270.3 209.8,270.4 212.8,270.4 215.8,270.5 218.8,270.6 221.8,270.6 224.8,270.7 227.8,270.8 230.8,270.8 233.8,270.9 236.8,270.9 239.8,271 242.8,271.1 245.8,271.1 248.8,271.2 251.8,271.3 254.8,271.4 257.8,271.5 260.8,271.5 263.8,271.6 266.8,271.6 269.8,271.7 272.8,271.7 275.8,271.7 278.8,271.7 281.8,271.7 284.8,271.8 287.8,271.8 290.8,271.8 293.8,271.8 296.8,271.8 299.8,271.8 302.8,271.8 305.8,271.8 308.8,271.8 311.8,271.8 314.8,271.8 317.8,271.9 320.8,271.9 323.8,271.9 326.8,271.9 329.8,271.9 332.8,271.9 335.8,271.9 338.8,271.9 341.8,271.9 344.8,271.9 347.8,271.9 350.8,271.9 353.8,271.9 356.8,271.8 359.8,271.8 362.8,271.8 365.8,271.8 368.8,271.7 371.8,271.7 374.8,271.7 377.8,271.7 380.8,271.6 383.8,271.6 386.8,271.6 389.8,271.6 392.8,271.6 395.8,271.5 398.8,271.5 401.8,271.5 404.8,271.5 407.8,271.4 410.8,271.4 413.8,271.4 416.8,271.4 419.8,271.3 422.8,271.3 425.8,271.3 428.8,271.2 431.8,271.2 434.8,271.1 437.8,271 440.8,270.9 443.8,270.8 446.8,270.7 449.8,270.6 452.8,270.4 455.8,270.3 458.8,270.2 461.8,270.1 464.8,270 467.8,269.9 470.8,269.8 473.8,269.6 476.8,269.5 479.8,269.4 482.8,269.3 485.8,269.2 488.8,269.1 491.8,269 494.8,268.9 497.8,268.8 500.8,268.7 503.8,268.6 506.8,268.5 509.8,268.5 512.8,268.4 515.8,268.4 518.8,268.3 521.8,268.3 524.8,268.2 527.8,268.1 530.8,268.1 533.8,268 536.8,267.8 539.8,267.7 542.8,267.6 545.8,267.4 548.8,267.2 551.8,267.1 554.8,266.9 557.8,266.8 560.8,266.6 563.8,266.4 566.8,266.3 569.8,266.1 572.8,265.9 575.8,265.6 578.8,265.2 581.8,264.7 584.8,264.2 587.8,263.8 590.8,263.4 593.8,263 596.8,262.7 599.8,262.3 602.8,262 605.8,261.7 608.8,261.5 611.8,261.4 614.8,261.2 617.8,260.9 620.8,260.7 623.8,260.4 626.8,260.2 629.8,260 632.8,259.8 635.8,259.6 638.8,259.3 641.8,258.8 644.8,258.1 647.8,257.2 650.8,255.9 653.8,255 656.8,254.5 659.8,254 662.8,253.5 664.5,253.3"/>
<path d="M55.4,257.1 58.4,257.3 61.4,257.6 64.4,257.9 67.4,258.3 70.4,258.7 73.4,259.3 76.4,259.9 79.4,260.5 82.4,261 85.4,261.5 88.4,262 91.4,262.4 94.4,262.9 97.4,263.2 100.4,263.6 103.4,263.9 106.4,264.1 109.4,264.4 112.4,264.7 115.4,264.9 118.4,265.2 121.4,265.4 124.4,265.7 127.4,266 130.4,266.2 133.4,266.5 136.4,266.7 139.4,267 142.4,267.2 145.4,267.5 148.4,267.7 151.4,267.9 154.4,268.2 157.4,268.4 160.4,268.6 163.4,268.8 166.4,268.9 169.4,269.1 172.4,269.2 175.4,269.4 178.4,269.5 181.4,269.6 184.4,269.7 187.4,269.8 190.4,269.9 193.4,270 196.4,270.1 199.4,270.2 202.4,270.2 205.4,270.3 208.4,270.4 211.4,270.4 214.4,270.5 217.4,270.5 220.4,270.6 223.4,270.7 226.4,270.7 229.4,270.8 232.4,270.8 235.4,270.9 238.4,271 241.4,271 244.4,271.1 247.4,271.2 250.4,271.3 253.4,271.4 256.4,271.4 259.4,271.5 262.4,271.6 265.4,271.6 268.4,271.7 271.4,271.7 274.4,271.7 277.4,271.7 280.4,271.7 283.4,271.7 286.4,271.8 289.4,271.8 292.4,271.8 295.4,271.8 298.4,271.8 301.4,271.8 304.4,271.8 307.4,271.8 310.4,271.8 313.4,271.8 316.4,271.9 319.4,271.9 322.4,271.9 325.4,271.9 328.4,271.9 331.4,271.9 334.4,271.9 337.4,271.9 340.4,271.9 343.4,271.9 346.4,271.9 349.4,271.9 352.4,271.9 355.4,271.9 358.4,271.8 361.4,271.8 364.4,271.8 367.4,271.8 370.4,271.7 373.4,271.7 376.4,271.7 379.4,271.7 382.4,271.6 385.4,271.6 388.4,271.6 391.4,271.6 394.4,271.5 397.4,271.5 400.4,271.5 403.4,271.5 406.4,271.4 409.4,271.4 412.4,271.4 415.4,271.4 418.4,271.3 421.4,271.3 424.4,271.3 427.4,271.2 430.4,271.2 433.4,271.1 436.4,271 439.4,270.9 442.4,270.8 445.4,270.7 448.4,270.6 451.4,270.5 454.4,270.4 457.4,270.3 460.4,270.1 463.4,270 466.4,269.9 469.4,269.8 472.4,269.7 475.4,269.6 478.4,269.5 481.4,269.4 484.4,269.2 487.4,269.1 490.4,269 493.4,268.9 496.4,268.8 499.4,268.7 502.4,268.6 505.4,268.6 508.4,268.5 511.4,268.5 514.4,268.4 517.4,268.4 520.4,268.3 523.4,268.2 526.4,268.2 529.4,268.1 532.4,268 535.4,267.9 538.4,267.8 541.4,267.6 544.4,267.5 547.4,267.3 550.4,267.2 553.4,267 556.4,266.8 559.4,266.7 562.4,266.5 565.4,266.4 568.4,266.2 571.4,266 574.4,265.9 577.4,265.7 580.4,265.6 583.4,265.4 586.4,265.2 589.4,265 592.4,264.9 595.4,264.7 598.4,264.5 601.4,264.3 604.4,264.2 607.4,264 610.4,263.8 613.4,263.6 616.4,263.4 619.4,263.2 622.4,263 625.4,262.7 628.4,262.4 631.4,262.1 634.4,261.7 637.4,261.4 640.4,261 643.4,260.6 646.4,260.1 649.4,259.7 652.4,259.2 655.4,258.7 658.4,258.2 661.4,257.6 664.1,257.1"/>
</g>
<g fill="#000" stroke="none">
<path d="M307.6,246.5 312.6,247.2 317.6,247.8 322.6,248.3 327.6,248.4 332.6,248.2 337.6,247.8 L337.6,249.4 332.6,249.2 327.6,249.1 322.6,248.9 317.6,248.7 312.6,248.6 307.6,248.5Z"/>
<path d="M372.6,247.2 377.6,247.7 382.6,248.3 387.6,248.7 392.6,248.7 397.6,248.5 402.6,248 407.6,247.1 412.6,246.2 L412.6,248.6 407.6,248.9 402.6,249.1 397.6,249.2 392.6,249.3 387.6,249.3 382.6,249.3 377.6,249.4 372.6,249.5Z"/>
<path d="M587.6,226.4 592.6,225.7 L592.6,227 587.6,228.4Z"/>
<path d="M82.9,211.5 87.9,213.7 92.9,215.8 L92.9,217.4 87.9,215.6 82.9,213.7Z"/>
<path d="M212.9,243.1 217.9,243.6 222.9,244 227.9,244.5 232.9,244.9 237.9,245.3 242.9,245.6 247.9,245.9 252.9,246.1 257.9,246.4 262.9,246.6 267.9,246.9 272.9,247.2 277.9,247.4 282.9,247.6 287.9,247.9 292.9,248.1 297.9,248.3 302.9,248.5 307.9,248.5 312.9,248.6 317.9,248.7 322.9,248.9 327.9,249.1 332.9,249.2 337.9,249.4 342.9,249.5 347.9,249.6 352.9,249.7 357.9,249.8 362.9,249.8 367.9,249.6 372.9,249.5 377.9,249.4 382.9,249.3 387.9,249.3 392.9,249.3 397.9,249.2 402.9,249.1 407.9,248.9 412.9,248.5 417.9,248.2 422.9,247.8 427.9,247.4 432.9,247.1 437.9,246.9 442.9,246.7 447.9,246.4 452.9,246.2 457.9,246 462.9,245.7 467.9,245.4 472.9,245.1 477.9,244.8 482.9,244.3 487.9,243.9 492.9,243.3 497.9,242.7 502.9,242 507.9,241.3 L507.9,243.7 502.9,243.3 497.9,243.4 492.9,244 487.9,244.6 482.9,245.1 477.9,245.5 472.9,245.9 467.9,246.2 462.9,246.4 457.9,246.7 452.9,246.9 447.9,247.2 442.9,247.4 437.9,247.6 432.9,247.9 427.9,248.2 422.9,248.5 417.9,248.9 412.9,249.3 407.9,249.6 402.9,249.8 397.9,250 392.9,250 387.9,250 382.9,250.1 377.9,250.1 372.9,250.2 367.9,250.3 362.9,250.5 357.9,250.5 352.9,250.5 347.9,250.3 342.9,250.2 337.9,250.1 332.9,250 327.9,249.8 322.9,249.7 317.9,249.5 312.9,249.3 307.9,249.3 302.9,249.2 297.9,249.1 292.9,248.9 287.9,248.6 282.9,248.4 277.9,248.2 272.9,247.9 267.9,247.7 262.9,247.4 257.9,247.1 252.9,246.9 247.9,246.7 242.9,246.4 237.9,246 232.9,245.6 227.9,245.2 222.9,244.8 217.9,244.9 212.9,245.1Z"/>
<path d="M547.9,236 552.9,235.2 557.9,234.3 562.9,233.4 567.9,232.4 572.9,231.4 577.9,230.3 582.9,229.2 587.9,228.3 592.9,226.9 597.9,225.4 602.9,224.2 607.9,223.1 612.9,222.1 617.9,220.7 622.9,218.4 627.9,216.1 632.9,213.9 L632.9,216 627.9,217.9 622.9,220 617.9,222 612.9,223.3 607.9,224.2 602.9,225.3 597.9,226.5 592.9,227.9 587.9,229.3 582.9,230.2 577.9,231.3 572.9,232.4 567.9,233.4 562.9,234.3 557.9,235.2 552.9,236 547.9,237.7Z"/>
<path d="M98.2,220.8 103.2,222.9 108.2,224.1 113.2,225.3 118.2,226.8 123.2,228.5 128.2,230.2 133.2,231.9 138.2,233.6 143.2,235.2 148.2,236.6 153.2,237.8 158.2,239 163.2,240 168.2,240.9 173.2,241.7 178.2,242.5 183.2,243.3 188.2,243.9 193.2,244.4 198.2,244.8 203.2,245.1 208.2,245.2 213.2,245.1 218.2,244.9 223.2,244.8 228.2,245.3 233.2,245.7 238.2,246.1 243.2,246.4 248.2,246.7 253.2,246.9 258.2,247.1 263.2,247.4 268.2,247.7 273.2,247.9 278.2,248.2 283.2,248.4 288.2,248.6 293.2,248.9 298.2,249.1 303.2,249.2 308.2,249.3 313.2,249.3 318.2,249.5 323.2,249.7 328.2,249.8 333.2,250 338.2,250.1 343.2,250.2 348.2,250.3 353.2,250.5 358.2,250.5 363.2,250.5 368.2,250.3 373.2,250.2 378.2,250.1 383.2,250.1 388.2,250 393.2,250 398.2,250 403.2,249.8 408.2,249.6 413.2,249.2 418.2,248.9 423.2,248.5 428.2,248.1 433.2,247.9 438.2,247.6 443.2,247.4 448.2,247.2 453.2,246.9 458.2,246.7 463.2,246.4 468.2,246.2 473.2,245.9 478.2,245.5 483.2,245 488.2,244.6 493.2,244 498.2,243.4 503.2,243.3 508.2,243.7 513.2,243.4 518.2,242.7 523.2,242.1 528.2,241.5 533.2,240.8 538.2,240.2 543.2,239.3 548.2,237.5 553.2,236 558.2,235.1 563.2,234.2 568.2,233.3 573.2,232.3 578.2,231.2 583.2,230.1 588.2,229.2 593.2,227.8 598.2,226.4 603.2,225.3 608.2,224.2 613.2,223.2 618.2,221.9 L618.2,224.2 613.2,225.4 608.2,226.4 603.2,227.4 598.2,228.5 593.2,229.9 588.2,231.2 583.2,232.1 578.2,233.1 573.2,234.2 568.2,235.1 563.2,236 558.2,236.8 553.2,237.7 548.2,238.5 543.2,239.2 538.2,239.9 533.2,240.5 528.2,241.1 523.2,241.7 518.2,242.3 513.2,242.9 508.2,243.5 503.2,244.2 498.2,244.8 493.2,245.4 488.2,245.9 483.2,246.4 478.2,246.8 473.2,247.2 468.2,247.5 463.2,247.8 458.2,248 453.2,248.3 448.2,248.5 443.2,248.7 438.2,249 433.2,249.2 428.2,249.5 423.2,249.8 418.2,250.2 413.2,250.5 408.2,250.8 403.2,251.1 398.2,251.2 393.2,251.3 388.2,251.3 383.2,251.3 378.2,251.4 373.2,251.4 368.2,251.6 363.2,251.7 358.2,251.8 353.2,251.7 348.2,251.6 343.2,251.5 338.2,251.4 333.2,251.3 328.2,251.1 323.2,251 318.2,250.8 313.2,250.6 308.2,250.6 303.2,250.5 298.2,250.4 293.2,250.2 288.2,250 283.2,249.8 278.2,249.5 273.2,249.3 268.2,249 263.2,248.8 258.2,248.5 253.2,248.3 248.2,248.1 243.2,247.8 238.2,247.5 233.2,247.1 228.2,246.7 223.2,246.3 218.2,245.8 213.2,245.4 208.2,245 203.2,244.7 198.2,244.3 193.2,243.9 188.2,243.4 183.2,242.8 178.2,242.1 173.2,241.4 168.2,240.6 163.2,239.7 158.2,238.8 153.2,237.7 148.2,236.5 143.2,235.2 138.2,233.7 133.2,232.1 128.2,230.5 123.2,228.9 118.2,227.4 113.2,226 108.2,224.9 103.2,223.7 98.2,222.1Z"/>
<path d="M123.5,229 128.5,230.6 133.5,232.2 138.5,233.8 143.5,235.3 148.5,236.6 153.5,237.8 158.5,238.8 163.5,239.8 168.5,240.6 173.5,241.4 178.5,242.2 183.5,242.9 188.5,243.4 193.5,243.9 198.5,244.3 203.5,244.7 208.5,245.1 213.5,245.4 218.5,245.9 223.5,246.3 228.5,246.7 233.5,247.1 238.5,247.5 243.5,247.8 248.5,248.1 253.5,248.3 258.5,248.5 263.5,248.8 268.5,249.1 273.5,249.3 278.5,249.5 283.5,249.8 288.5,250 293.5,250.2 298.5,250.4 303.5,250.5 308.5,250.6 313.5,250.6 318.5,250.8 323.5,251 328.5,251.1 333.5,251.3 338.5,251.4 343.5,251.5 348.5,251.6 353.5,251.7 358.5,251.8 363.5,251.7 368.5,251.6 373.5,251.4 378.5,251.4 383.5,251.3 388.5,251.3 393.5,251.3 398.5,251.2 403.5,251.1 408.5,250.8 413.5,250.5 418.5,250.2 423.5,249.8 428.5,249.4 433.5,249.2 438.5,248.9 443.5,248.7 448.5,248.5 453.5,248.2 458.5,248 463.5,247.7 468.5,247.5 473.5,247.2 478.5,246.8 483.5,246.4 488.5,245.9 493.5,245.4 498.5,244.8 503.5,244.1 508.5,243.5 513.5,242.8 518.5,242.2 523.5,241.6 528.5,241 533.5,240.4 538.5,239.8 543.5,239.2 548.5,238.4 553.5,237.6 558.5,236.8 563.5,235.9 568.5,235 573.5,234.1 578.5,233 583.5,232 588.5,231.2 593.5,229.8 598.5,228.5 603.5,227.4 L603.5,229.8 598.5,230.8 593.5,232.1 588.5,233.4 583.5,234.2 578.5,235.2 573.5,236.2 568.5,237.1 563.5,237.9 558.5,238.7 553.5,239.5 548.5,240.3 543.5,241 538.5,241.6 533.5,242.2 528.5,242.8 523.5,243.4 518.5,243.9 513.5,244.5 508.5,245.1 503.5,245.7 498.5,246.3 493.5,246.9 488.5,247.4 483.5,247.9 478.5,248.3 473.5,248.6 468.5,248.9 463.5,249.2 458.5,249.4 453.5,249.7 448.5,249.9 443.5,250.2 438.5,250.4 433.5,250.6 428.5,250.9 423.5,251.2 418.5,251.6 413.5,251.9 408.5,252.2 403.5,252.4 398.5,252.5 393.5,252.6 388.5,252.6 383.5,252.7 378.5,252.7 373.5,252.8 368.5,252.9 363.5,253 358.5,253.1 353.5,253.1 348.5,252.9 343.5,252.8 338.5,252.7 333.5,252.6 328.5,252.5 323.5,252.4 318.5,252.2 313.5,252 308.5,252 303.5,251.9 298.5,251.8 293.5,251.6 288.5,251.4 283.5,251.2 278.5,251 273.5,250.8 268.5,250.5 263.5,250.3 258.5,250 253.5,249.8 248.5,249.6 243.5,249.3 238.5,249 233.5,248.6 228.5,248.3 223.5,247.9 218.5,247.5 213.5,247.1 208.5,246.7 203.5,246.3 198.5,246 193.5,245.6 188.5,245.2 183.5,244.6 178.5,244 173.5,243.2 168.5,242.5 163.5,241.6 158.5,240.7 153.5,239.7 148.5,238.6 143.5,237.4 138.5,236 133.5,234.4 128.5,232.9 123.5,231.4Z"/>
<path d="M53.6,204.5 58.6,208.3 63.6,211.5 68.6,214.3 73.6,216.6 78.6,218.5 83.6,220.1 88.6,221.6 93.6,223.1 98.6,224.9 103.6,226.4 108.6,227.5 113.6,228.6 118.6,229.9 123.6,231.4 128.6,232.9 133.6,234.5 138.6,236 143.6,237.4 148.6,238.6 153.6,239.8 158.6,240.8 163.6,241.7 168.6,242.5 173.6,243.3 178.6,244 183.6,244.6 188.6,245.2 193.6,245.6 198.6,246 203.6,246.3 208.6,246.7 213.6,247.1 218.6,247.5 223.6,247.9 228.6,248.3 233.6,248.7 238.6,249 243.6,249.3 248.6,249.6 253.6,249.8 258.6,250 263.6,250.3 268.6,250.5 273.6,250.8 278.6,251 283.6,251.2 288.6,251.4 293.6,251.6 298.6,251.8 303.6,251.9 308.6,252 313.6,252 318.6,252.2 323.6,252.4 328.6,252.5 333.6,252.6 338.6,252.7 343.6,252.8 348.6,253 353.6,253.1 358.6,253.1 363.6,253 368.6,252.9 373.6,252.8 378.6,252.7 383.6,252.7 388.6,252.6 393.6,252.6 398.6,252.5 403.6,252.4 408.6,252.2 413.6,251.9 418.6,251.6 423.6,251.2 428.6,250.9 433.6,250.6 438.6,250.4 443.6,250.2 448.6,249.9 453.6,249.7 458.6,249.4 463.6,249.2 468.6,248.9 473.6,248.6 478.6,248.3 483.6,247.9 488.6,247.4 493.6,246.9 498.6,246.3 503.6,245.7 508.6,245.1 513.6,244.5 518.6,243.9 523.6,243.3 528.6,242.8 533.6,242.2 538.6,241.6 543.6,241 548.6,240.3 553.6,239.5 558.6,238.7 563.6,237.9 568.6,237 573.6,236.1 578.6,235.1 583.6,234.2 588.6,233.3 593.6,232 598.6,230.8 603.6,229.7 608.6,228.7 613.6,227.9 618.6,226.7 623.6,224.8 628.6,223.2 633.6,221.6 638.6,219.8 643.6,218.2 648.6,215.9 653.6,212.8 658.6,209 663.6,205 665.6,203.4 L665.6,205.3 663.6,206.8 658.6,210.8 653.6,214.5 648.6,217.5 643.6,219.8 638.6,221.4 633.6,223.1 628.6,224.7 623.6,226.3 618.6,228.1 613.6,229.3 608.6,230.1 603.6,231.1 598.6,232.1 593.6,233.3 588.6,234.6 583.6,235.4 578.6,236.3 573.6,237.3 568.6,238.2 563.6,239 558.6,239.8 553.6,240.6 548.6,241.4 543.6,242 538.6,242.7 533.6,243.2 528.6,243.8 523.6,244.3 518.6,244.9 513.6,245.4 508.6,246 503.6,246.6 498.6,247.2 493.6,247.7 488.6,248.2 483.6,248.7 478.6,249.1 473.6,249.5 468.6,249.7 463.6,250 458.6,250.2 453.6,250.5 448.6,250.7 443.6,251 438.6,251.2 433.6,251.4 428.6,251.7 423.6,252 418.6,252.3 413.6,252.6 408.6,252.9 403.6,253.2 398.6,253.3 393.6,253.3 388.6,253.4 383.6,253.4 378.6,253.4 373.6,253.5 368.6,253.6 363.6,253.8 358.6,253.8 353.6,253.8 348.6,253.7 343.6,253.6 338.6,253.5 333.6,253.4 328.6,253.3 323.6,253.1 318.6,252.9 313.6,252.8 308.6,252.7 303.6,252.7 298.6,252.6 293.6,252.4 288.6,252.2 283.6,252 278.6,251.8 273.6,251.6 268.6,251.4 263.6,251.1 258.6,250.9 253.6,250.6 248.6,250.4 243.6,250.2 238.6,249.9 233.6,249.5 228.6,249.2 223.6,248.8 218.6,248.4 213.6,248 208.6,247.6 203.6,247.3 198.6,246.9 193.6,246.5 188.6,246.1 183.6,245.6 178.6,245 173.6,244.3 168.6,243.5 163.6,242.7 158.6,241.8 153.6,240.9 148.6,239.8 143.6,238.6 138.6,237.2 133.6,235.7 128.6,234.2 123.6,232.8 118.6,231.3 113.6,230 108.6,228.9 103.6,227.9 98.6,226.4 93.6,224.7 88.6,223.1 83.6,221.6 78.6,220.1 73.6,218.2 68.6,215.9 63.6,213.2 58.6,210 53.6,206.4Z"/>
<path d="M113.7,230 118.7,231.3 123.7,232.8 128.7,234.2 133.7,235.7 138.7,237.2 143.7,238.6 148.7,239.8 153.7,240.9 158.7,241.9 163.7,242.7 168.7,243.5 173.7,244.3 178.7,245 183.7,245.6 188.7,246.1 193.7,246.6 198.7,246.9 203.7,247.3 208.7,247.6 213.7,248 218.7,248.4 223.7,248.8 228.7,249.2 233.7,249.5 238.7,249.9 243.7,250.2 248.7,250.4 253.7,250.6 258.7,250.9 263.7,251.1 268.7,251.4 273.7,251.6 278.7,251.8 283.7,252 288.7,252.2 293.7,252.4 298.7,252.6 303.7,252.7 308.7,252.7 313.7,252.8 318.7,252.9 323.7,253.1 328.7,253.3 333.7,253.4 338.7,253.5 343.7,253.6 348.7,253.7 353.7,253.8 358.7,253.8 363.7,253.8 368.7,253.6 373.7,253.5 378.7,253.4 383.7,253.4 388.7,253.4 393.7,253.3 398.7,253.3 403.7,253.2 408.7,252.9 413.7,252.6 418.7,252.3 423.7,252 428.7,251.7 433.7,251.4 438.7,251.2 443.7,251 448.7,250.7 453.7,250.5 458.7,250.2 463.7,250 468.7,249.7 473.7,249.5 478.7,249.1 483.7,248.7 488.7,248.2 493.7,247.7 498.7,247.2 503.7,246.6 508.7,246 513.7,245.4 518.7,244.9 523.7,244.3 528.7,243.8 533.7,243.2 538.7,242.6 543.7,242 548.7,241.3 553.7,240.6 558.7,239.8 563.7,239 568.7,238.2 573.7,237.3 578.7,236.3 583.7,235.4 588.7,234.6 593.7,233.3 598.7,232.1 603.7,231.1 608.7,230.1 613.7,229.2 618.7,228.1 L618.7,230.4 613.7,231.6 608.7,232.4 603.7,233.3 598.7,234.3 593.7,235.4 588.7,236.6 583.7,237.4 578.7,238.3 573.7,239.3 568.7,240.1 563.7,240.9 558.7,241.6 553.7,242.4 548.7,243.1 543.7,243.8 538.7,244.4 533.7,244.9 528.7,245.4 523.7,245.9 518.7,246.5 513.7,247 508.7,247.5 503.7,248.1 498.7,248.6 493.7,249.2 488.7,249.7 483.7,250.1 478.7,250.5 473.7,250.8 468.7,251.1 463.7,251.4 458.7,251.6 453.7,251.8 448.7,252.1 443.7,252.3 438.7,252.5 433.7,252.7 428.7,253 423.7,253.3 418.7,253.6 413.7,253.9 408.7,254.2 403.7,254.4 398.7,254.5 393.7,254.5 388.7,254.6 383.7,254.6 378.7,254.7 373.7,254.7 368.7,254.8 363.7,255 358.7,255 353.7,255 348.7,254.9 343.7,254.8 338.7,254.7 333.7,254.6 328.7,254.5 323.7,254.4 318.7,254.2 313.7,254.1 308.7,254 303.7,254 298.7,253.9 293.7,253.7 288.7,253.5 283.7,253.3 278.7,253.1 273.7,252.9 268.7,252.7 263.7,252.5 258.7,252.3 253.7,252 248.7,251.8 243.7,251.6 238.7,251.3 233.7,251 228.7,250.6 223.7,250.3 218.7,249.9 213.7,249.5 208.7,249.2 203.7,248.8 198.7,248.5 193.7,248.2 188.7,247.8 183.7,247.3 178.7,246.7 173.7,246 168.7,245.3 163.7,244.5 158.7,243.7 153.7,242.7 148.7,241.7 143.7,240.6 138.7,239.3 133.7,237.8 128.7,236.4 123.7,235 118.7,233.6 113.7,232.4Z"/>
<path d="M53.7,209.2 58.7,212.8 63.7,215.8 68.7,218.5 73.7,220.7 78.7,222.5 83.7,224.2 88.7,225.7 93.7,227.2 98.7,228.9 103.7,230.3 108.7,231.4 113.7,232.4 118.7,233.6 123.7,235 128.7,236.4 133.7,237.8 138.7,239.3 143.7,240.6 148.7,241.7 153.7,242.7 158.7,243.7 163.7,244.5 168.7,245.3 173.7,246 178.7,246.7 183.7,247.3 188.7,247.8 193.7,248.2 198.7,248.5 203.7,248.8 208.7,249.2 213.7,249.5 218.7,249.9 223.7,250.3 228.7,250.6 233.7,251 238.7,251.3 243.7,251.6 248.7,251.8 253.7,252 258.7,252.3 263.7,252.5 268.7,252.7 273.7,252.9 278.7,253.2 283.7,253.3 288.7,253.5 293.7,253.7 298.7,253.9 303.7,254 308.7,254 313.7,254.1 318.7,254.2 323.7,254.4 328.7,254.5 333.7,254.6 338.7,254.7 343.7,254.8 348.7,254.9 353.7,255 358.7,255 363.7,255 368.7,254.8 373.7,254.7 378.7,254.7 383.7,254.6 388.7,254.6 393.7,254.5 398.7,254.5 403.7,254.4 408.7,254.2 413.7,253.9 418.7,253.6 423.7,253.3 428.7,253 433.7,252.7 438.7,252.5 443.7,252.3 448.7,252.1 453.7,251.8 458.7,251.6 463.7,251.4 468.7,251.1 473.7,250.8 478.7,250.5 483.7,250.1 488.7,249.7 493.7,249.2 498.7,248.6 503.7,248.1 508.7,247.5 513.7,247 518.7,246.5 523.7,245.9 528.7,245.4 533.7,244.9 538.7,244.4 543.7,243.8 548.7,243.1 553.7,242.4 558.7,241.6 563.7,240.9 568.7,240.1 573.7,239.3 578.7,238.3 583.7,237.4 588.7,236.6 593.7,235.4 598.7,234.3 603.7,233.3 608.7,232.4 613.7,231.6 618.7,230.4 623.7,228.7 628.7,227.1 633.7,225.5 638.7,223.8 643.7,222.2 648.7,219.9 653.7,216.9 658.7,213.3 663.7,209.5 665.5,208.2 L665.5,210.5 663.7,211.8 658.7,215.4 653.7,218.9 648.7,221.9 643.7,224.3 638.7,225.9 633.7,227.7 628.7,229.4 623.7,230.9 618.7,232.6 613.7,233.8 608.7,234.6 603.7,235.4 598.7,236.4 593.7,237.4 588.7,238.6 583.7,239.4 578.7,240.2 573.7,241.1 568.7,241.9 563.7,242.6 558.7,243.4 553.7,244.1 548.7,244.8 543.7,245.4 538.7,246 533.7,246.5 528.7,247 523.7,247.5 518.7,248 513.7,248.4 508.7,249 503.7,249.5 498.7,250 493.7,250.5 488.7,251 483.7,251.4 478.7,251.8 473.7,252.1 468.7,252.4 463.7,252.6 458.7,252.8 453.7,253.1 448.7,253.3 443.7,253.5 438.7,253.7 433.7,254 428.7,254.2 423.7,254.5 418.7,254.8 413.7,255 408.7,255.3 403.7,255.5 398.7,255.6 393.7,255.7 388.7,255.7 383.7,255.7 378.7,255.8 373.7,255.8 368.7,255.9 363.7,256.1 358.7,256.1 353.7,256.1 348.7,256 343.7,255.9 338.7,255.8 333.7,255.8 328.7,255.6 323.7,255.5 318.7,255.4 313.7,255.3 308.7,255.2 303.7,255.2 298.7,255.1 293.7,254.9 288.7,254.7 283.7,254.6 278.7,254.4 273.7,254.2 268.7,254 263.7,253.8 258.7,253.6 253.7,253.3 248.7,253.1 243.7,252.9 238.7,252.6 233.7,252.3 228.7,252 223.7,251.7 218.7,251.3 213.7,251 208.7,250.6 203.7,250.3 198.7,250 193.7,249.7 188.7,249.3 183.7,248.8 178.7,248.2 173.7,247.6 168.7,246.9 163.7,246.2 158.7,245.4 153.7,244.5 148.7,243.5 143.7,242.4 138.7,241.2 133.7,239.8 128.7,238.5 123.7,237.1 118.7,235.8 113.7,234.6 108.7,233.6 103.7,232.6 98.7,231.3 93.7,229.5 88.7,228 83.7,226.4 78.7,224.7 73.7,222.9 68.7,220.6 63.7,218.1 58.7,215 53.7,211.5Z"/>
<path d="M53.7,211.5 58.7,215.1 63.7,218.1 68.7,220.7 73.7,222.9 78.7,224.7 83.7,226.4 L83.7,228.7 78.7,227 73.7,225.1 68.7,222.9 63.7,220.3 58.7,217.3 53.7,213.7Z"/>
<path d="M108.7,233.6 113.7,234.6 118.7,235.8 123.7,237.1 128.7,238.5 133.7,239.8 138.7,241.2 143.7,242.4 148.7,243.5 153.7,244.5 158.7,245.4 163.7,246.2 168.7,246.9 173.7,247.6 178.7,248.2 183.7,248.8 188.7,249.3 193.7,249.7 198.7,250 203.7,250.3 208.7,250.6 213.7,251 218.7,251.3 223.7,251.7 228.7,252 233.7,252.3 238.7,252.6 243.7,252.9 248.7,253.1 253.7,253.3 258.7,253.6 263.7,253.8 268.7,254 273.7,254.2 278.7,254.4 283.7,254.6 288.7,254.7 293.7,254.9 298.7,255.1 303.7,255.2 308.7,255.2 313.7,255.3 318.7,255.4 323.7,255.5 328.7,255.6 333.7,255.8 338.7,255.8 343.7,255.9 348.7,256 353.7,256.1 358.7,256.1 363.7,256.1 368.7,255.9 373.7,255.8 378.7,255.8 383.7,255.7 388.7,255.7 393.7,255.7 398.7,255.6 403.7,255.5 408.7,255.3 413.7,255 418.7,254.8 423.7,254.5 428.7,254.2 433.7,254 438.7,253.7 443.7,253.5 448.7,253.3 453.7,253.1 458.7,252.8 463.7,252.6 468.7,252.4 473.7,252.1 478.7,251.8 483.7,251.4 488.7,251 493.7,250.5 498.7,250 503.7,249.5 508.7,249 513.7,248.4 518.7,248 523.7,247.5 528.7,247 533.7,246.5 538.7,246 543.7,245.4 548.7,244.8 553.7,244.1 558.7,243.4 563.7,242.6 568.7,241.9 573.7,241.1 578.7,240.2 583.7,239.3 588.7,238.6 593.7,237.4 598.7,236.4 603.7,235.4 608.7,234.6 613.7,233.7 618.7,232.6 623.7,230.9 628.7,229.4 633.7,227.7 638.7,225.9 643.7,224.2 648.7,221.9 653.7,218.9 658.7,215.4 663.7,211.8 665.5,210.5 L665.5,212.7 663.7,213.9 658.7,217.5 653.7,220.9 648.7,223.9 643.7,226.3 638.7,228.1 633.7,230 628.7,231.7 623.7,233.2 618.7,234.9 613.7,236.1 608.7,236.8 603.7,237.7 598.7,238.6 593.7,239.6 588.7,240.7 583.7,241.4 578.7,242.2 573.7,243 568.7,243.8 563.7,244.5 558.7,245.2 553.7,245.9 548.7,246.5 543.7,247.1 538.7,247.7 533.7,248.2 528.7,248.6 523.7,249.1 518.7,249.5 513.7,250 508.7,250.5 503.7,251 498.7,251.5 493.7,251.9 488.7,252.4 483.7,252.8 478.7,253.1 473.7,253.4 468.7,253.7 463.7,253.9 458.7,254.2 453.7,254.4 448.7,254.6 443.7,254.8 438.7,255 433.7,255.2 428.7,255.5 423.7,255.7 418.7,256 413.7,256.3 408.7,256.5 403.7,256.7 398.7,256.8 393.7,256.8 388.7,256.9 383.7,256.9 378.7,257 373.7,257 368.7,257.1 363.7,257.2 358.7,257.3 353.7,257.3 348.7,257.2 343.7,257.1 338.7,257 333.7,257 328.7,256.9 323.7,256.7 318.7,256.6 313.7,256.5 308.7,256.4 303.7,256.4 298.7,256.3 293.7,256.2 288.7,256 283.7,255.9 278.7,255.7 273.7,255.5 268.7,255.3 263.7,255.1 258.7,254.9 253.7,254.7 248.7,254.5 243.7,254.3 238.7,254 233.7,253.8 228.7,253.4 223.7,253.1 218.7,252.8 213.7,252.5 208.7,252.2 203.7,251.9 198.7,251.5 193.7,251.2 188.7,250.9 183.7,250.4 178.7,249.9 173.7,249.3 168.7,248.7 163.7,248 158.7,247.2 153.7,246.3 148.7,245.4 143.7,244.4 138.7,243.2 133.7,241.9 128.7,240.6 123.7,239.3 118.7,238.1 113.7,236.9 108.7,236Z"/>
<path d="M53.7,213.7 58.7,217.3 63.7,220.3 68.7,222.9 73.7,225.1 78.7,227 83.7,228.7 88.7,230.4 93.7,232 98.7,233.7 103.7,235 108.7,236 113.7,236.9 118.7,238.1 123.7,239.3 128.7,240.6 133.7,241.9 138.7,243.2 143.7,244.4 148.7,245.4 153.7,246.3 158.7,247.2 163.7,248 168.7,248.7 173.7,249.3 178.7,249.9 183.7,250.4 188.7,250.9 193.7,251.2 198.7,251.5 203.7,251.9 208.7,252.2 213.7,252.5 218.7,252.8 223.7,253.1 228.7,253.5 233.7,253.8 238.7,254 243.7,254.3 248.7,254.5 253.7,254.7 258.7,254.9 263.7,255.1 268.7,255.3 273.7,255.5 278.7,255.7 283.7,255.9 288.7,256 293.7,256.2 298.7,256.3 303.7,256.4 308.7,256.4 313.7,256.5 318.7,256.6 323.7,256.7 328.7,256.9 333.7,257 338.7,257 343.7,257.1 348.7,257.2 353.7,257.3 358.7,257.3 363.7,257.2 368.7,257.1 373.7,257 378.7,257 383.7,256.9 388.7,256.9 393.7,256.8 398.7,256.8 403.7,256.7 408.7,256.5 413.7,256.3 418.7,256 423.7,255.7 428.7,255.5 433.7,255.2 438.7,255 443.7,254.8 448.7,254.6 453.7,254.4 458.7,254.2 463.7,253.9 468.7,253.7 473.7,253.4 478.7,253.1 483.7,252.8 488.7,252.4 493.7,251.9 498.7,251.5 503.7,251 508.7,250.5 513.7,250 518.7,249.5 523.7,249.1 528.7,248.6 533.7,248.2 538.7,247.7 543.7,247.1 548.7,246.5 553.7,245.9 558.7,245.2 563.7,244.5 568.7,243.8 573.7,243 578.7,242.2 583.7,241.4 588.7,240.7 593.7,239.6 598.7,238.5 603.7,237.7 608.7,236.8 613.7,236.1 618.7,234.9 623.7,233.2 628.7,231.7 633.7,230 638.7,228.1 643.7,226.3 648.7,223.9 653.7,220.9 658.7,217.5 663.7,213.9 665.5,212.7 L665.5,214.4 663.7,215.6 658.7,219 653.7,222.3 648.7,225.3 643.7,227.7 638.7,229.5 633.7,231.3 628.7,233 623.7,234.5 618.7,236.2 613.7,237.3 608.7,238.1 603.7,238.9 598.7,239.7 593.7,240.7 588.7,241.8 583.7,242.5 578.7,243.3 573.7,244.1 568.7,244.8 563.7,245.5 558.7,246.2 553.7,246.8 548.7,247.5 543.7,248.1 538.7,248.6 533.7,249 528.7,249.5 523.7,250 518.7,250.4 513.7,250.8 508.7,251.3 503.7,251.8 498.7,252.2 493.7,252.7 488.7,253.1 483.7,253.5 478.7,253.9 473.7,254.2 468.7,254.4 463.7,254.7 458.7,254.9 453.7,255.1 448.7,255.3 443.7,255.6 438.7,255.8 433.7,256 428.7,256.2 423.7,256.4 418.7,256.7 413.7,256.9 408.7,257.2 403.7,257.4 398.7,257.5 393.7,257.5 388.7,257.5 383.7,257.6 378.7,257.6 373.7,257.7 368.7,257.8 363.7,257.9 358.7,257.9 353.7,257.9 348.7,257.8 343.7,257.8 338.7,257.7 333.7,257.6 328.7,257.5 323.7,257.4 318.7,257.3 313.7,257.2 308.7,257.1 303.7,257.1 298.7,257 293.7,256.9 288.7,256.7 283.7,256.6 278.7,256.4 273.7,256.3 268.7,256.1 263.7,255.9 258.7,255.7 253.7,255.5 248.7,255.3 243.7,255.1 238.7,254.8 233.7,254.5 228.7,254.2 223.7,253.9 218.7,253.6 213.7,253.3 208.7,253 203.7,252.7 198.7,252.4 193.7,252.1 188.7,251.7 183.7,251.3 178.7,250.8 173.7,250.2 168.7,249.6 163.7,248.9 158.7,248.2 153.7,247.3 148.7,246.4 143.7,245.4 138.7,244.3 133.7,243 128.7,241.8 123.7,240.5 118.7,239.3 113.7,238.2 108.7,237.3 103.7,236.3 98.7,235 93.7,233.3 88.7,231.8 83.7,230.1 78.7,228.4 73.7,226.5 68.7,224.3 63.7,221.8 58.7,218.9 53.7,215.4Z"/>
<path d="M53.7,215.4 58.7,218.9 63.7,221.8 68.7,224.3 73.7,226.5 78.7,228.4 83.7,230.1 88.7,231.8 93.7,233.3 98.7,235 103.7,236.3 108.7,237.3 113.7,238.2 118.7,239.3 123.7,240.5 128.7,241.8 133.7,243 138.7,244.3 143.7,245.4 148.7,246.4 153.7,247.3 158.7,248.2 163.7,248.9 168.7,249.6 173.7,250.2 178.7,250.8 183.7,251.3 188.7,251.7 193.7,252.1 198.7,252.4 203.7,252.7 208.7,253 213.7,253.3 218.7,253.6 223.7,253.9 228.7,254.2 233.7,254.5 238.7,254.8 243.7,255.1 248.7,255.3 253.7,255.5 258.7,255.7 263.7,255.9 268.7,256.1 273.7,256.3 278.7,256.4 283.7,256.6 288.7,256.7 293.7,256.9 298.7,257 303.7,257.1 308.7,257.1 313.7,257.2 318.7,257.3 323.7,257.4 328.7,257.5 333.7,257.6 338.7,257.7 343.7,257.8 348.7,257.8 353.7,257.9 358.7,257.9 363.7,257.9 368.7,257.8 373.7,257.7 378.7,257.6 383.7,257.6 388.7,257.5 393.7,257.5 398.7,257.5 403.7,257.4 408.7,257.2 413.7,256.9 418.7,256.7 423.7,256.4 428.7,256.2 433.7,256 438.7,255.8 443.7,255.6 448.7,255.3 453.7,255.1 458.7,254.9 463.7,254.7 468.7,254.4 473.7,254.2 478.7,253.9 483.7,253.5 488.7,253.1 493.7,252.7 498.7,252.2 503.7,251.8 508.7,251.3 513.7,250.8 518.7,250.4 523.7,250 528.7,249.5 533.7,249 538.7,248.6 543.7,248.1 548.7,247.5 553.7,246.8 558.7,246.2 563.7,245.5 568.7,244.8 573.7,244.1 578.7,243.3 583.7,242.5 588.7,241.8 593.7,240.7 598.7,239.7 603.7,238.9 608.7,238.1 613.7,237.3 618.7,236.2 623.7,234.5 628.7,233 633.7,231.3 638.7,229.5 643.7,227.7 648.7,225.3 653.7,222.3 658.7,219 663.7,215.6 665.5,214.4 L665.5,215.8 663.7,216.9 658.7,220.3 653.7,223.5 648.7,226.5 643.7,228.8 638.7,230.5 633.7,232.3 628.7,234 623.7,235.5 618.7,237.1 613.7,238.2 608.7,238.9 603.7,239.7 598.7,240.5 593.7,241.5 588.7,242.5 583.7,243.2 578.7,244 573.7,244.8 568.7,245.5 563.7,246.2 558.7,246.8 553.7,247.5 548.7,248.1 543.7,248.7 538.7,249.2 533.7,249.7 528.7,250.1 523.7,250.6 518.7,251 513.7,251.4 508.7,251.9 503.7,252.3 498.7,252.8 493.7,253.2 488.7,253.6 483.7,254 478.7,254.4 473.7,254.7 468.7,254.9 463.7,255.2 458.7,255.4 453.7,255.6 448.7,255.8 443.7,256.1 438.7,256.3 433.7,256.5 428.7,256.7 423.7,256.9 418.7,257.2 413.7,257.4 408.7,257.6 403.7,257.8 398.7,257.9 393.7,258 388.7,258 383.7,258 378.7,258.1 373.7,258.1 368.7,258.2 363.7,258.3 358.7,258.4 353.7,258.4 348.7,258.3 343.7,258.2 338.7,258.2 333.7,258.1 328.7,258 323.7,257.9 318.7,257.8 313.7,257.7 308.7,257.6 303.7,257.6 298.7,257.5 293.7,257.4 288.7,257.2 283.7,257.1 278.7,256.9 273.7,256.8 268.7,256.6 263.7,256.4 258.7,256.2 253.7,256 248.7,255.8 243.7,255.6 238.7,255.3 233.7,255.1 228.7,254.8 223.7,254.5 218.7,254.2 213.7,253.9 208.7,253.6 203.7,253.3 198.7,253 193.7,252.7 188.7,252.3 183.7,251.9 178.7,251.4 173.7,250.8 168.7,250.2 163.7,249.6 158.7,248.8 153.7,248 148.7,247.1 143.7,246.1 138.7,245 133.7,243.8 128.7,242.6 123.7,241.4 118.7,240.2 113.7,239.1 108.7,238.2 103.7,237.2 98.7,236 93.7,234.3 88.7,232.8 83.7,231.1 78.7,229.4 73.7,227.6 68.7,225.4 63.7,223 58.7,220.1 53.7,216.8Z"/>
<path d="M58.8,220.1 63.8,223 68.8,225.4 73.8,227.6 78.8,229.4 83.8,231.1 88.8,232.8 93.8,234.3 98.8,236 103.8,237.2 108.8,238.2 113.8,239.1 118.8,240.2 123.8,241.4 128.8,242.6 133.8,243.8 138.8,245 143.8,246.1 148.8,247.1 153.8,248 158.8,248.8 163.8,249.6 168.8,250.2 173.8,250.8 178.8,251.4 183.8,251.9 188.8,252.3 193.8,252.7 198.8,253 203.8,253.3 208.8,253.6 213.8,253.9 218.8,254.2 223.8,254.5 228.8,254.8 233.8,255.1 238.8,255.3 243.8,255.6 248.8,255.8 253.8,256 258.8,256.2 263.8,256.4 268.8,256.6 273.8,256.8 278.8,256.9 283.8,257.1 288.8,257.2 293.8,257.4 298.8,257.5 303.8,257.6 308.8,257.6 313.8,257.7 318.8,257.8 323.8,257.9 328.8,258 333.8,258.1 338.8,258.2 343.8,258.2 348.8,258.3 353.8,258.4 358.8,258.4 363.8,258.3 368.8,258.2 373.8,258.1 378.8,258.1 383.8,258 388.8,258 393.8,258 398.8,257.9 403.8,257.8 408.8,257.6 413.8,257.4 418.8,257.2 423.8,256.9 428.8,256.7 433.8,256.5 438.8,256.3 443.8,256.1 448.8,255.8 453.8,255.6 458.8,255.4 463.8,255.2 468.8,254.9 473.8,254.7 478.8,254.4 483.8,254 488.8,253.6 493.8,253.2 498.8,252.8 503.8,252.3 508.8,251.9 513.8,251.4 518.8,251 523.8,250.6 528.8,250.1 533.8,249.7 538.8,249.2 543.8,248.7 548.8,248.1 553.8,247.5 558.8,246.8 563.8,246.2 568.8,245.5 573.8,244.8 578.8,244 583.8,243.2 588.8,242.5 593.8,241.5 598.8,240.5 603.8,239.7 608.8,238.9 613.8,238.2 618.8,237.1 623.8,235.5 628.8,234 633.8,232.3 638.8,230.5 643.8,228.8 648.8,226.5 653.8,223.5 658.8,220.3 L658.8,222.6 653.8,225.7 648.8,228.5 643.8,230.7 638.8,232.4 633.8,234.1 628.8,235.7 623.8,237.1 618.8,238.7 613.8,239.7 608.8,240.4 603.8,241.2 598.8,242 593.8,242.9 588.8,243.9 583.8,244.6 578.8,245.3 573.8,246.1 568.8,246.8 563.8,247.4 558.8,248 553.8,248.7 548.8,249.3 543.8,249.8 538.8,250.3 533.8,250.8 528.8,251.2 523.8,251.6 518.8,252 513.8,252.4 508.8,252.9 503.8,253.3 498.8,253.7 493.8,254.2 488.8,254.6 483.8,254.9 478.8,255.3 473.8,255.6 468.8,255.8 463.8,256.1 458.8,256.3 453.8,256.5 448.8,256.7 443.8,256.9 438.8,257.2 433.8,257.3 428.8,257.5 423.8,257.8 418.8,258 413.8,258.3 408.8,258.5 403.8,258.7 398.8,258.7 393.8,258.8 388.8,258.8 383.8,258.9 378.8,258.9 373.8,258.9 368.8,259 363.8,259.2 358.8,259.2 353.8,259.2 348.8,259.1 343.8,259.1 338.8,259 333.8,258.9 328.8,258.8 323.8,258.7 318.8,258.6 313.8,258.5 308.8,258.5 303.8,258.4 298.8,258.4 293.8,258.3 288.8,258.1 283.8,258 278.8,257.8 273.8,257.7 268.8,257.5 263.8,257.3 258.8,257.1 253.8,256.9 248.8,256.7 243.8,256.5 238.8,256.3 233.8,256 228.8,255.8 223.8,255.5 218.8,255.2 213.8,254.9 208.8,254.6 203.8,254.3 198.8,254 193.8,253.7 188.8,253.4 183.8,253 178.8,252.5 173.8,252 168.8,251.4 163.8,250.7 158.8,250 153.8,249.2 148.8,248.4 143.8,247.4 138.8,246.4 133.8,245.2 128.8,244 123.8,242.8 118.8,241.7 113.8,240.6 108.8,239.8 103.8,238.9 98.8,237.6 93.8,236.1 88.8,234.6 83.8,232.9 78.8,231.3 73.8,229.6 68.8,227.5 63.8,225.1 58.8,222.4Z"/>
<path d="M53.8,219.3 58.8,222.4 63.8,225.1 68.8,227.5 73.8,229.6 78.8,231.3 83.8,232.9 88.8,234.6 93.8,236.1 98.8,237.6 103.8,238.9 108.8,239.8 113.8,240.7 118.8,241.7 123.8,242.8 128.8,244 133.8,245.2 138.8,246.4 143.8,247.4 148.8,248.4 153.8,249.2 158.8,250 163.8,250.7 168.8,251.4 173.8,252 178.8,252.5 183.8,253 188.8,253.4 193.8,253.7 198.8,254 203.8,254.3 208.8,254.6 213.8,254.9 218.8,255.2 223.8,255.5 228.8,255.8 233.8,256 238.8,256.3 243.8,256.5 248.8,256.7 253.8,256.9 258.8,257.1 263.8,257.3 268.8,257.5 273.8,257.7 278.8,257.8 283.8,258 288.8,258.1 293.8,258.3 298.8,258.4 303.8,258.4 308.8,258.5 313.8,258.5 318.8,258.6 323.8,258.7 328.8,258.8 333.8,258.9 338.8,259 343.8,259.1 348.8,259.1 353.8,259.2 358.8,259.2 363.8,259.2 368.8,259 373.8,258.9 378.8,258.9 383.8,258.9 388.8,258.8 393.8,258.8 398.8,258.7 403.8,258.7 408.8,258.5 413.8,258.3 418.8,258 423.8,257.8 428.8,257.5 433.8,257.3 438.8,257.2 443.8,256.9 448.8,256.7 453.8,256.5 458.8,256.3 463.8,256.1 468.8,255.8 473.8,255.6 478.8,255.3 483.8,254.9 488.8,254.6 493.8,254.2 498.8,253.7 503.8,253.3 508.8,252.9 513.8,252.4 518.8,252 523.8,251.6 528.8,251.2 533.8,250.8 538.8,250.3 543.8,249.8 548.8,249.3 553.8,248.7 558.8,248 563.8,247.4 568.8,246.8 573.8,246.1 578.8,245.3 583.8,244.6 588.8,243.9 593.8,242.9 598.8,242 603.8,241.2 608.8,240.4 613.8,239.7 618.8,238.7 623.8,237.1 628.8,235.7 633.8,234.1 638.8,232.4 643.8,230.7 648.8,228.5 653.8,225.7 658.8,222.6 663.8,219.4 665.4,218.4 L665.4,219.9 663.8,220.8 658.8,224 653.8,227 648.8,229.7 643.8,231.9 638.8,233.5 633.8,235.2 628.8,236.7 623.8,238.1 618.8,239.6 613.8,240.6 608.8,241.3 603.8,242.1 598.8,242.9 593.8,243.8 588.8,244.7 583.8,245.4 578.8,246.1 573.8,246.8 568.8,247.5 563.8,248.2 558.8,248.8 553.8,249.4 548.8,250 543.8,250.5 538.8,251 533.8,251.4 528.8,251.9 523.8,252.3 518.8,252.7 513.8,253.1 508.8,253.5 503.8,253.9 498.8,254.3 493.8,254.7 488.8,255.1 483.8,255.5 478.8,255.8 473.8,256.1 468.8,256.4 463.8,256.6 458.8,256.8 453.8,257 448.8,257.3 443.8,257.5 438.8,257.7 433.8,257.9 428.8,258.1 423.8,258.3 418.8,258.6 413.8,258.8 408.8,259 403.8,259.1 398.8,259.2 393.8,259.3 388.8,259.3 383.8,259.4 378.8,259.4 373.8,259.4 368.8,259.5 363.8,259.6 358.8,259.7 353.8,259.7 348.8,259.6 343.8,259.6 338.8,259.5 333.8,259.4 328.8,259.4 323.8,259.3 318.8,259.1 313.8,259 308.8,259 303.8,259 298.8,258.9 293.8,258.8 288.8,258.6 283.8,258.5 278.8,258.4 273.8,258.2 268.8,258.1 263.8,257.9 258.8,257.7 253.8,257.5 248.8,257.3 243.8,257.1 238.8,256.9 233.8,256.6 228.8,256.3 223.8,256.1 218.8,255.8 213.8,255.5 208.8,255.2 203.8,254.9 198.8,254.6 193.8,254.4 188.8,254 183.8,253.6 178.8,253.2 173.8,252.6 168.8,252.1 163.8,251.4 158.8,250.7 153.8,250 148.8,249.1 143.8,248.2 138.8,247.2 133.8,246 128.8,244.9 123.8,243.7 118.8,242.6 113.8,241.6 108.8,240.7 103.8,239.8 98.8,238.6 93.8,237.1 88.8,235.6 83.8,234 78.8,232.5 73.8,230.7 68.8,228.7 63.8,226.4 58.8,223.8 53.8,220.7Z"/>
<path d="M58.8,223.8 63.8,226.4 68.8,228.7 73.8,230.7 78.8,232.5 83.8,234 88.8,235.6 93.8,237.1 98.8,238.6 103.8,239.8 108.8,240.7 113.8,241.6 118.8,242.6 123.8,243.7 128.8,244.9 133.8,246 138.8,247.2 143.8,248.2 148.8,249.1 153.8,250 158.8,250.7 163.8,251.4 168.8,252.1 173.8,252.6 178.8,253.2 183.8,253.6 188.8,254.1 193.8,254.4 198.8,254.6 203.8,254.9 208.8,255.2 213.8,255.5 218.8,255.8 223.8,256.1 228.8,256.3 233.8,256.6 238.8,256.9 243.8,257.1 248.8,257.3 253.8,257.5 258.8,257.7 263.8,257.9 268.8,258.1 273.8,258.2 278.8,258.4 283.8,258.5 288.8,258.6 293.8,258.8 298.8,258.9 303.8,259 308.8,259 313.8,259 318.8,259.1 323.8,259.3 328.8,259.4 333.8,259.4 338.8,259.5 343.8,259.6 348.8,259.6 353.8,259.7 358.8,259.7 363.8,259.6 368.8,259.5 373.8,259.4 378.8,259.4 383.8,259.4 388.8,259.3 393.8,259.3 398.8,259.2 403.8,259.1 408.8,259 413.8,258.8 418.8,258.6 423.8,258.3 428.8,258.1 433.8,257.9 438.8,257.7 443.8,257.5 448.8,257.3 453.8,257 458.8,256.8 463.8,256.6 468.8,256.4 473.8,256.1 478.8,255.8 483.8,255.5 488.8,255.1 493.8,254.7 498.8,254.3 503.8,253.9 508.8,253.5 513.8,253.1 518.8,252.7 523.8,252.3 528.8,251.9 533.8,251.4 538.8,251 543.8,250.5 548.8,250 553.8,249.4 558.8,248.8 563.8,248.2 568.8,247.5 573.8,246.8 578.8,246.1 583.8,245.4 588.8,244.7 593.8,243.8 598.8,242.9 603.8,242.1 608.8,241.3 613.8,240.6 618.8,239.6 623.8,238.1 628.8,236.7 633.8,235.2 638.8,233.5 643.8,231.9 648.8,229.7 653.8,227 658.8,224 L658.8,226.3 653.8,229.1 648.8,231.7 643.8,233.8 638.8,235.4 633.8,237 628.8,238.4 623.8,239.8 618.8,241.2 613.8,242.2 608.8,242.9 603.8,243.6 598.8,244.3 593.8,245.2 588.8,246.1 583.8,246.7 578.8,247.4 573.8,248.1 568.8,248.8 563.8,249.4 558.8,250 553.8,250.6 548.8,251.1 543.8,251.7 538.8,252.1 533.8,252.6 528.8,253 523.8,253.3 518.8,253.7 513.8,254.1 508.8,254.5 503.8,254.9 498.8,255.3 493.8,255.7 488.8,256.1 483.8,256.4 478.8,256.7 473.8,257 468.8,257.3 463.8,257.5 458.8,257.7 453.8,257.9 448.8,258.2 443.8,258.4 438.8,258.6 433.8,258.8 428.8,259 423.8,259.2 418.8,259.4 413.8,259.6 408.8,259.8 403.8,260 398.8,260.1 393.8,260.1 388.8,260.2 383.8,260.2 378.8,260.2 373.8,260.3 368.8,260.4 363.8,260.5 358.8,260.5 353.8,260.5 348.8,260.5 343.8,260.4 338.8,260.3 333.8,260.3 328.8,260.2 323.8,260.1 318.8,260 313.8,259.9 308.8,259.9 303.8,259.8 298.8,259.8 293.8,259.7 288.8,259.5 283.8,259.4 278.8,259.3 273.8,259.1 268.8,259 263.8,258.8 258.8,258.6 253.8,258.4 248.8,258.2 243.8,258 238.8,257.8 233.8,257.6 228.8,257.3 223.8,257 218.8,256.8 213.8,256.5 208.8,256.2 203.8,256 198.8,255.7 193.8,255.4 188.8,255.1 183.8,254.7 178.8,254.3 173.8,253.8 168.8,253.2 163.8,252.6 158.8,251.9 153.8,251.2 148.8,250.4 143.8,249.5 138.8,248.5 133.8,247.4 128.8,246.3 123.8,245.2 118.8,244.1 113.8,243.2 108.8,242.3 103.8,241.5 98.8,240.3 93.8,238.8 88.8,237.4 83.8,235.9 78.8,234.3 73.8,232.7 68.8,230.7 63.8,228.5 58.8,226.1Z"/>
<path d="M53.8,223.2 58.8,226.1 63.8,228.5 68.8,230.7 73.8,232.7 78.8,234.3 83.8,235.9 88.8,237.4 93.8,238.8 98.8,240.3 103.8,241.5 108.8,242.3 113.8,243.2 118.8,244.1 123.8,245.2 128.8,246.3 133.8,247.4 138.8,248.5 143.8,249.5 148.8,250.4 153.8,251.2 158.8,251.9 163.8,252.6 168.8,253.2 173.8,253.8 178.8,254.3 183.8,254.7 188.8,255.1 193.8,255.4 198.8,255.7 203.8,256 208.8,256.2 213.8,256.5 218.8,256.8 223.8,257 228.8,257.3 233.8,257.6 238.8,257.8 243.8,258 248.8,258.2 253.8,258.4 258.8,258.6 263.8,258.8 268.8,259 273.8,259.1 278.8,259.3 283.8,259.4 288.8,259.5 293.8,259.7 298.8,259.8 303.8,259.8 308.8,259.9 313.8,259.9 318.8,260 323.8,260.1 328.8,260.2 333.8,260.3 338.8,260.3 343.8,260.4 348.8,260.5 353.8,260.5 358.8,260.5 363.8,260.5 368.8,260.4 373.8,260.3 378.8,260.2 383.8,260.2 388.8,260.2 393.8,260.1 398.8,260.1 403.8,260 408.8,259.8 413.8,259.6 418.8,259.4 423.8,259.2 428.8,259 433.8,258.8 438.8,258.6 443.8,258.4 448.8,258.2 453.8,257.9 458.8,257.7 463.8,257.5 468.8,257.3 473.8,257 478.8,256.7 483.8,256.4 488.8,256.1 493.8,255.7 498.8,255.3 503.8,254.9 508.8,254.5 513.8,254.1 518.8,253.7 523.8,253.3 528.8,253 533.8,252.6 538.8,252.1 543.8,251.7 548.8,251.1 553.8,250.6 558.8,250 563.8,249.4 568.8,248.8 573.8,248.1 578.8,247.4 583.8,246.7 588.8,246.1 593.8,245.2 598.8,244.3 603.8,243.6 608.8,242.9 613.8,242.2 618.8,241.2 623.8,239.8 628.8,238.4 633.8,237 638.8,235.4 643.8,233.8 648.8,231.7 653.8,229.1 658.8,226.3 663.8,223.3 665.3,222.4 L665.3,223.9 663.8,224.7 658.8,227.6 653.8,230.4 648.8,232.9 643.8,234.9 638.8,236.5 633.8,238 628.8,239.5 623.8,240.8 618.8,242.2 613.8,243.1 608.8,243.8 603.8,244.5 598.8,245.2 593.8,246 588.8,246.9 583.8,247.5 578.8,248.2 573.8,248.9 568.8,249.5 563.8,250.1 558.8,250.7 553.8,251.3 548.8,251.8 543.8,252.4 538.8,252.8 533.8,253.2 528.8,253.6 523.8,254 518.8,254.4 513.8,254.7 508.8,255.1 503.8,255.5 498.8,255.9 493.8,256.3 488.8,256.6 483.8,257 478.8,257.3 473.8,257.6 468.8,257.8 463.8,258.1 458.8,258.3 453.8,258.5 448.8,258.7 443.8,258.9 438.8,259.1 433.8,259.3 428.8,259.5 423.8,259.7 418.8,259.9 413.8,260.1 408.8,260.3 403.8,260.5 398.8,260.6 393.8,260.6 388.8,260.6 383.8,260.7 378.8,260.7 373.8,260.8 368.8,260.9 363.8,261 358.8,261 353.8,261 348.8,261 343.8,260.9 338.8,260.8 333.8,260.8 328.8,260.7 323.8,260.6 318.8,260.5 313.8,260.4 308.8,260.4 303.8,260.3 298.8,260.3 293.8,260.2 288.8,260.1 283.8,259.9 278.8,259.8 273.8,259.7 268.8,259.5 263.8,259.3 258.8,259.2 253.8,259 248.8,258.8 243.8,258.6 238.8,258.4 233.8,258.1 228.8,257.9 223.8,257.6 218.8,257.4 213.8,257.1 208.8,256.8 203.8,256.6 198.8,256.3 193.8,256.1 188.8,255.8 183.8,255.4 178.8,254.9 173.8,254.4 168.8,253.9 163.8,253.3 158.8,252.7 153.8,251.9 148.8,251.1 143.8,250.3 138.8,249.3 133.8,248.2 128.8,247.2 123.8,246.1 118.8,245.1 113.8,244.1 108.8,243.3 103.8,242.4 98.8,241.3 93.8,239.9 88.8,238.5 83.8,237 78.8,235.5 73.8,233.8 68.8,231.9 63.8,229.8 58.8,227.4 53.8,224.7Z"/>
<path d="M53.8,224.7 58.8,227.4 63.8,229.8 68.8,231.9 73.8,233.8 78.8,235.5 83.8,237 88.8,238.5 93.8,239.9 98.8,241.3 103.8,242.4 108.8,243.3 113.8,244.1 118.8,245.1 123.8,246.1 128.8,247.2 133.8,248.2 138.8,249.3 143.8,250.3 148.8,251.2 153.8,251.9 158.8,252.7 163.8,253.3 168.8,253.9 173.8,254.4 178.8,254.9 183.8,255.4 188.8,255.8 193.8,256.1 198.8,256.3 203.8,256.6 208.8,256.8 213.8,257.1 218.8,257.4 223.8,257.6 228.8,257.9 233.8,258.1 238.8,258.4 243.8,258.6 248.8,258.8 253.8,259 258.8,259.2 263.8,259.3 268.8,259.5 273.8,259.7 278.8,259.8 283.8,259.9 288.8,260.1 293.8,260.2 298.8,260.3 303.8,260.3 308.8,260.4 313.8,260.4 318.8,260.5 323.8,260.6 328.8,260.7 333.8,260.8 338.8,260.8 343.8,260.9 348.8,261 353.8,261 358.8,261 363.8,261 368.8,260.9 373.8,260.8 378.8,260.7 383.8,260.7 388.8,260.6 393.8,260.6 398.8,260.6 403.8,260.5 408.8,260.3 413.8,260.1 418.8,259.9 423.8,259.7 428.8,259.5 433.8,259.3 438.8,259.1 443.8,258.9 448.8,258.7 453.8,258.5 458.8,258.3 463.8,258.1 468.8,257.8 473.8,257.6 478.8,257.3 483.8,257 488.8,256.6 493.8,256.3 498.8,255.9 503.8,255.5 508.8,255.1 513.8,254.7 518.8,254.4 523.8,254 528.8,253.6 533.8,253.2 538.8,252.8 543.8,252.4 548.8,251.8 553.8,251.3 558.8,250.7 563.8,250.1 568.8,249.5 573.8,248.9 578.8,248.2 583.8,247.5 588.8,246.9 593.8,246 598.8,245.2 603.8,244.5 608.8,243.8 613.8,243.1 618.8,242.2 623.8,240.8 628.8,239.5 633.8,238 638.8,236.5 643.8,234.9 648.8,232.9 653.8,230.4 658.8,227.6 663.8,224.7 665.2,223.9 L665.2,225.4 663.8,226.2 658.8,229 653.8,231.7 648.8,234.1 643.8,236.1 638.8,237.6 633.8,239.1 628.8,240.5 623.8,241.8 618.8,243.1 613.8,244 608.8,244.7 603.8,245.4 598.8,246.1 593.8,246.9 588.8,247.7 583.8,248.3 578.8,249 573.8,249.7 568.8,250.3 563.8,250.9 558.8,251.4 553.8,252 548.8,252.5 543.8,253 538.8,253.5 533.8,253.9 528.8,254.3 523.8,254.6 518.8,255 513.8,255.3 508.8,255.7 503.8,256.1 498.8,256.5 493.8,256.8 488.8,257.2 483.8,257.5 478.8,257.8 473.8,258.1 468.8,258.4 463.8,258.6 458.8,258.8 453.8,259 448.8,259.2 443.8,259.5 438.8,259.7 433.8,259.8 428.8,260 423.8,260.2 418.8,260.5 413.8,260.6 408.8,260.8 403.8,261 398.8,261.1 393.8,261.1 388.8,261.1 383.8,261.2 378.8,261.2 373.8,261.3 368.8,261.3 363.8,261.4 358.8,261.5 353.8,261.5 348.8,261.5 343.8,261.4 338.8,261.3 333.8,261.3 328.8,261.2 323.8,261.1 318.8,261 313.8,260.9 308.8,260.9 303.8,260.9 298.8,260.8 293.8,260.7 288.8,260.6 283.8,260.5 278.8,260.3 273.8,260.2 268.8,260.1 263.8,259.9 258.8,259.7 253.8,259.6 248.8,259.4 243.8,259.2 238.8,259 233.8,258.7 228.8,258.5 223.8,258.2 218.8,258 213.8,257.7 208.8,257.4 203.8,257.2 198.8,256.9 193.8,256.7 188.8,256.4 183.8,256 178.8,255.6 173.8,255.1 168.8,254.6 163.8,254 158.8,253.4 153.8,252.7 148.8,251.9 143.8,251.1 138.8,250.1 133.8,249.1 128.8,248 123.8,247 118.8,246 113.8,245 108.8,244.2 103.8,243.4 98.8,242.3 93.8,240.9 88.8,239.6 83.8,238.1 78.8,236.6 73.8,235 68.8,233.1 63.8,231.1 58.8,228.8 53.8,226.1Z"/>
<path d="M58.9,228.8 63.9,231.1 68.9,233.1 73.9,235 78.9,236.6 83.9,238.1 88.9,239.6 93.9,240.9 98.9,242.3 103.9,243.4 108.9,244.2 113.9,245 118.9,246 123.9,247 128.9,248 133.9,249.1 138.9,250.1 143.9,251.1 148.9,251.9 153.9,252.7 158.9,253.4 163.9,254 168.9,254.6 173.9,255.1 178.9,255.6 183.9,256 188.9,256.4 193.9,256.7 198.9,256.9 203.9,257.2 208.9,257.5 213.9,257.7 218.9,258 223.9,258.2 228.9,258.5 233.9,258.7 238.9,259 243.9,259.2 248.9,259.4 253.9,259.6 258.9,259.7 263.9,259.9 268.9,260.1 273.9,260.2 278.9,260.4 283.9,260.5 288.9,260.6 293.9,260.7 298.9,260.8 303.9,260.9 308.9,260.9 313.9,260.9 318.9,261 323.9,261.1 328.9,261.2 333.9,261.3 338.9,261.3 343.9,261.4 348.9,261.5 353.9,261.5 358.9,261.5 363.9,261.4 368.9,261.3 373.9,261.3 378.9,261.2 383.9,261.2 388.9,261.1 393.9,261.1 398.9,261.1 403.9,261 408.9,260.8 413.9,260.6 418.9,260.5 423.9,260.2 428.9,260 433.9,259.8 438.9,259.7 443.9,259.5 448.9,259.2 453.9,259 458.9,258.8 463.9,258.6 468.9,258.4 473.9,258.1 478.9,257.8 483.9,257.5 488.9,257.2 493.9,256.8 498.9,256.5 503.9,256.1 508.9,255.7 513.9,255.3 518.9,255 523.9,254.6 528.9,254.3 533.9,253.9 538.9,253.5 543.9,253 548.9,252.5 553.9,252 558.9,251.4 563.9,250.9 568.9,250.3 573.9,249.7 578.9,249 583.9,248.3 588.9,247.7 593.9,246.9 598.9,246 603.9,245.4 608.9,244.7 613.9,244 618.9,243.1 623.9,241.8 628.9,240.5 633.9,239.1 638.9,237.6 643.9,236.1 648.9,234.1 653.9,231.7 658.9,229 L658.9,231.3 653.9,233.8 648.9,236.1 643.9,238 638.9,239.5 633.9,240.9 628.9,242.2 623.9,243.4 618.9,244.7 613.9,245.6 608.9,246.2 603.9,246.8 598.9,247.5 593.9,248.3 588.9,249.1 583.9,249.7 578.9,250.3 573.9,250.9 568.9,251.5 563.9,252.1 558.9,252.6 553.9,253.2 548.9,253.7 543.9,254.2 538.9,254.6 533.9,255 528.9,255.4 523.9,255.7 518.9,256 513.9,256.4 508.9,256.7 503.9,257.1 498.9,257.4 493.9,257.8 488.9,258.1 483.9,258.5 478.9,258.8 473.9,259 468.9,259.3 463.9,259.5 458.9,259.7 453.9,259.9 448.9,260.1 443.9,260.3 438.9,260.5 433.9,260.7 428.9,260.9 423.9,261.1 418.9,261.3 413.9,261.5 408.9,261.7 403.9,261.8 398.9,261.9 393.9,261.9 388.9,262 383.9,262 378.9,262 373.9,262.1 368.9,262.2 363.9,262.3 358.9,262.3 353.9,262.3 348.9,262.3 343.9,262.2 338.9,262.2 333.9,262.1 328.9,262.1 323.9,262 318.9,261.9 313.9,261.8 308.9,261.8 303.9,261.7 298.9,261.7 293.9,261.6 288.9,261.5 283.9,261.4 278.9,261.3 273.9,261.1 268.9,261 263.9,260.8 258.9,260.7 253.9,260.5 248.9,260.3 243.9,260.1 238.9,259.9 233.9,259.7 228.9,259.5 223.9,259.2 218.9,259 213.9,258.7 208.9,258.5 203.9,258.2 198.9,258 193.9,257.7 188.9,257.5 183.9,257.1 178.9,256.7 173.9,256.2 168.9,255.7 163.9,255.2 158.9,254.6 153.9,253.9 148.9,253.2 143.9,252.4 138.9,251.4 133.9,250.5 128.9,249.5 123.9,248.5 118.9,247.5 113.9,246.6 108.9,245.8 103.9,245 98.9,244 93.9,242.7 88.9,241.4 83.9,239.9 78.9,238.5 73.9,236.9 68.9,235.1 63.9,233.2 58.9,231.1Z"/>
<path d="M53.9,228.6 58.9,231.1 63.9,233.2 68.9,235.1 73.9,236.9 78.9,238.5 83.9,239.9 88.9,241.4 93.9,242.7 98.9,244 103.9,245.1 108.9,245.8 113.9,246.6 118.9,247.5 123.9,248.5 128.9,249.5 133.9,250.5 138.9,251.4 143.9,252.4 148.9,253.2 153.9,253.9 158.9,254.6 163.9,255.2 168.9,255.7 173.9,256.2 178.9,256.7 183.9,257.1 188.9,257.5 193.9,257.7 198.9,258 203.9,258.2 208.9,258.5 213.9,258.7 218.9,259 223.9,259.2 228.9,259.5 233.9,259.7 238.9,259.9 243.9,260.1 248.9,260.3 253.9,260.5 258.9,260.7 263.9,260.8 268.9,261 273.9,261.1 278.9,261.3 283.9,261.4 288.9,261.5 293.9,261.6 298.9,261.7 303.9,261.7 308.9,261.8 313.9,261.8 318.9,261.9 323.9,262 328.9,262.1 333.9,262.1 338.9,262.2 343.9,262.2 348.9,262.3 353.9,262.3 358.9,262.3 363.9,262.3 368.9,262.2 373.9,262.1 378.9,262 383.9,262 388.9,262 393.9,261.9 398.9,261.9 403.9,261.8 408.9,261.7 413.9,261.5 418.9,261.3 423.9,261.1 428.9,260.9 433.9,260.7 438.9,260.5 443.9,260.3 448.9,260.1 453.9,259.9 458.9,259.7 463.9,259.5 468.9,259.3 473.9,259 478.9,258.8 483.9,258.5 488.9,258.1 493.9,257.8 498.9,257.4 503.9,257.1 508.9,256.7 513.9,256.4 518.9,256 523.9,255.7 528.9,255.4 533.9,255 538.9,254.6 543.9,254.2 548.9,253.7 553.9,253.2 558.9,252.6 563.9,252.1 568.9,251.5 573.9,250.9 578.9,250.3 583.9,249.7 588.9,249.1 593.9,248.3 598.9,247.5 603.9,246.8 608.9,246.2 613.9,245.6 618.9,244.7 623.9,243.4 628.9,242.2 633.9,240.9 638.9,239.5 643.9,238 648.9,236.1 653.9,233.8 658.9,231.3 663.9,228.6 665.2,228 L665.2,229.2 663.9,229.8 658.9,232.4 653.9,234.9 648.9,237.1 643.9,238.9 638.9,240.4 633.9,241.8 628.9,243.1 623.9,244.2 618.9,245.5 613.9,246.3 608.9,246.9 603.9,247.6 598.9,248.2 593.9,249 588.9,249.8 583.9,250.3 578.9,250.9 573.9,251.6 568.9,252.1 563.9,252.7 558.9,253.2 553.9,253.7 548.9,254.2 543.9,254.7 538.9,255.2 533.9,255.5 528.9,255.9 523.9,256.2 518.9,256.5 513.9,256.9 508.9,257.2 503.9,257.5 498.9,257.9 493.9,258.2 488.9,258.6 483.9,258.9 478.9,259.2 473.9,259.5 468.9,259.7 463.9,259.9 458.9,260.1 453.9,260.4 448.9,260.6 443.9,260.8 438.9,261 433.9,261.2 428.9,261.3 423.9,261.5 418.9,261.7 413.9,261.9 408.9,262.1 403.9,262.2 398.9,262.3 393.9,262.3 388.9,262.4 383.9,262.4 378.9,262.4 373.9,262.5 368.9,262.6 363.9,262.7 358.9,262.7 353.9,262.7 348.9,262.7 343.9,262.6 338.9,262.6 333.9,262.5 328.9,262.5 323.9,262.4 318.9,262.3 313.9,262.2 308.9,262.2 303.9,262.1 298.9,262.1 293.9,262 288.9,261.9 283.9,261.8 278.9,261.7 273.9,261.6 268.9,261.4 263.9,261.3 258.9,261.1 253.9,260.9 248.9,260.8 243.9,260.6 238.9,260.4 233.9,260.1 228.9,259.9 223.9,259.7 218.9,259.4 213.9,259.2 208.9,259 203.9,258.7 198.9,258.5 193.9,258.3 188.9,258 183.9,257.6 178.9,257.2 173.9,256.8 168.9,256.3 163.9,255.8 158.9,255.2 153.9,254.5 148.9,253.8 143.9,253 138.9,252.1 133.9,251.1 128.9,250.2 123.9,249.2 118.9,248.2 113.9,247.4 108.9,246.6 103.9,245.8 98.9,244.8 93.9,243.5 88.9,242.2 83.9,240.8 78.9,239.4 73.9,237.9 68.9,236.1 63.9,234.2 58.9,232.2 53.9,229.8Z"/>
<path d="M59,232.2 64,234.3 69,236.1 74,237.9 79,239.4 84,240.8 89,242.2 94,243.5 99,244.8 104,245.8 109,246.6 114,247.4 119,248.2 124,249.2 129,250.2 134,251.1 139,252.1 144,253 149,253.8 154,254.5 159,255.2 164,255.8 169,256.3 174,256.8 179,257.2 184,257.6 189,258 194,258.3 199,258.5 204,258.7 209,259 214,259.2 219,259.4 224,259.7 229,259.9 234,260.2 239,260.4 244,260.6 249,260.8 254,260.9 259,261.1 264,261.3 269,261.4 274,261.6 279,261.7 284,261.8 289,261.9 294,262 299,262.1 304,262.1 309,262.2 314,262.2 319,262.3 324,262.4 329,262.5 334,262.5 339,262.6 344,262.6 349,262.7 354,262.7 359,262.7 364,262.7 369,262.6 374,262.5 379,262.4 384,262.4 389,262.4 394,262.3 399,262.3 404,262.2 409,262.1 414,261.9 419,261.7 424,261.5 429,261.3 434,261.2 439,261 444,260.8 449,260.6 454,260.4 459,260.1 464,259.9 469,259.7 474,259.5 479,259.2 484,258.9 489,258.6 494,258.2 499,257.9 504,257.5 509,257.2 514,256.9 519,256.5 524,256.2 529,255.9 534,255.5 539,255.1 544,254.7 549,254.2 554,253.7 559,253.2 564,252.7 569,252.1 574,251.6 579,250.9 584,250.3 589,249.8 594,248.9 599,248.2 604,247.5 609,246.9 614,246.3 619,245.4 624,244.2 629,243 634,241.7 639,240.3 644,238.9 649,237.1 654,234.8 659,232.3 L659,234.7 654,237 649,239.1 644,240.9 639,242.2 634,243.5 629,244.8 624,245.9 619,247 614,247.9 609,248.5 604,249 599,249.7 594,250.4 589,251.1 584,251.7 579,252.2 574,252.8 569,253.4 564,253.9 559,254.4 554,254.9 549,255.4 544,255.9 539,256.3 534,256.6 529,257 524,257.3 519,257.6 514,257.9 509,258.2 504,258.5 499,258.9 494,259.2 489,259.5 484,259.8 479,260.1 474,260.4 469,260.6 464,260.8 459,261 454,261.2 449,261.5 444,261.7 439,261.9 434,262 429,262.2 424,262.4 419,262.6 414,262.7 409,262.9 404,263 399,263.1 394,263.2 389,263.2 384,263.2 379,263.3 374,263.3 369,263.4 364,263.5 359,263.5 354,263.5 349,263.5 344,263.5 339,263.4 334,263.4 329,263.3 324,263.2 319,263.1 314,263.1 309,263 304,263 299,263 294,262.9 289,262.8 284,262.7 279,262.6 274,262.5 269,262.3 264,262.2 259,262 254,261.9 249,261.7 244,261.5 239,261.3 234,261.1 229,260.9 224,260.7 219,260.4 214,260.2 209,260 204,259.8 199,259.5 194,259.3 189,259 184,258.7 179,258.3 174,257.9 169,257.4 164,256.9 159,256.4 154,255.7 149,255 144,254.3 139,253.4 134,252.5 129,251.6 124,250.7 119,249.8 114,248.9 109,248.2 104,247.5 99,246.5 94,245.2 89,244 84,242.7 79,241.3 74,239.8 69,238.1 64,236.4 59,234.4Z"/>
<path d="M54,232.3 59,234.5 64,236.4 69,238.1 74,239.8 79,241.3 84,242.7 89,244 94,245.2 99,246.5 104,247.5 109,248.2 114,248.9 119,249.8 124,250.7 129,251.6 134,252.5 139,253.4 144,254.3 149,255 154,255.7 159,256.4 164,256.9 169,257.4 174,257.9 179,258.3 184,258.7 189,259 194,259.3 199,259.5 204,259.8 209,260 214,260.2 219,260.4 224,260.7 229,260.9 234,261.1 239,261.3 244,261.5 249,261.7 254,261.9 259,262 264,262.2 269,262.3 274,262.5 279,262.6 284,262.7 289,262.8 294,262.9 299,263 304,263 309,263 314,263.1 319,263.1 324,263.2 329,263.3 334,263.4 339,263.4 344,263.5 349,263.5 354,263.5 359,263.5 364,263.5 369,263.4 374,263.3 379,263.3 384,263.2 389,263.2 394,263.2 399,263.1 404,263 409,262.9 414,262.7 419,262.6 424,262.4 429,262.2 434,262 439,261.9 444,261.7 449,261.5 454,261.2 459,261 464,260.8 469,260.6 474,260.4 479,260.1 484,259.8 489,259.5 494,259.2 499,258.9 504,258.5 509,258.2 514,257.9 519,257.6 524,257.3 529,257 534,256.6 539,256.3 544,255.9 549,255.4 554,254.9 559,254.4 564,253.9 569,253.4 574,252.8 579,252.2 584,251.7 589,251.1 594,250.4 599,249.6 604,249 609,248.4 614,247.9 619,247 624,245.9 629,244.8 634,243.5 639,242.2 644,240.8 649,239.1 654,237 659,234.6 664,232.2 665,231.7 L665,233.3 664,233.8 659,236.1 654,238.4 649,240.4 644,242.1 639,243.4 634,244.7 629,245.9 624,246.9 619,248.1 614,248.8 609,249.4 604,250 599,250.6 594,251.3 589,252 584,252.5 579,253.1 574,253.7 569,254.2 564,254.7 559,255.2 554,255.7 549,256.1 544,256.6 539,257 534,257.4 529,257.7 524,258 519,258.3 514,258.6 509,258.9 504,259.2 499,259.5 494,259.8 489,260.1 484,260.4 479,260.7 474,261 469,261.2 464,261.4 459,261.6 454,261.8 449,262 444,262.2 439,262.4 434,262.6 429,262.8 424,263 419,263.1 414,263.3 409,263.4 404,263.6 399,263.6 394,263.7 389,263.7 384,263.8 379,263.8 374,263.8 369,263.9 364,264 359,264 354,264.1 349,264 344,264 339,263.9 334,263.9 329,263.8 324,263.8 319,263.7 314,263.6 309,263.6 304,263.6 299,263.5 294,263.4 289,263.3 284,263.3 279,263.2 274,263.1 269,262.9 264,262.8 259,262.6 254,262.5 249,262.3 244,262.1 239,261.9 234,261.7 229,261.5 224,261.3 219,261.1 214,260.9 209,260.6 204,260.4 199,260.2 194,260 189,259.7 184,259.4 179,259 174,258.6 169,258.2 164,257.7 159,257.1 154,256.5 149,255.8 144,255.1 139,254.3 134,253.4 129,252.5 124,251.6 119,250.7 114,249.9 109,249.2 104,248.5 99,247.6 94,246.4 89,245.2 84,243.8 79,242.5 74,241.1 69,239.4 64,237.7 59,235.9 54,233.8Z"/>
<path d="M54,233.9 59,235.9 64,237.8 69,239.4 74,241.1 79,242.5 84,243.8 89,245.2 94,246.4 99,247.6 104,248.5 109,249.2 114,249.9 119,250.8 124,251.6 129,252.5 134,253.4 139,254.3 144,255.1 149,255.8 154,256.5 159,257.1 164,257.7 169,258.2 174,258.6 179,259 184,259.4 189,259.7 194,260 199,260.2 204,260.4 209,260.6 214,260.9 219,261.1 224,261.3 229,261.5 234,261.7 239,261.9 244,262.1 249,262.3 254,262.5 259,262.6 264,262.8 269,262.9 274,263.1 279,263.2 284,263.3 289,263.4 294,263.4 299,263.5 304,263.6 309,263.6 314,263.6 319,263.7 324,263.8 329,263.8 334,263.9 339,263.9 344,264 349,264 354,264.1 359,264 364,264 369,263.9 374,263.8 379,263.8 384,263.8 389,263.7 394,263.7 399,263.6 404,263.6 409,263.4 414,263.3 419,263.1 424,263 429,262.8 434,262.6 439,262.4 444,262.2 449,262 454,261.8 459,261.6 464,261.4 469,261.2 474,261 479,260.7 484,260.4 489,260.1 494,259.8 499,259.5 504,259.2 509,258.9 514,258.6 519,258.3 524,258 529,257.7 534,257.3 539,257 544,256.6 549,256.1 554,255.7 559,255.2 564,254.7 569,254.2 574,253.7 579,253.1 584,252.5 589,252 594,251.3 599,250.6 604,250 609,249.4 614,248.8 619,248 624,246.9 629,245.9 634,244.7 639,243.4 644,242.1 649,240.4 654,238.3 659,236.1 664,233.7 665,233.3 L665,235 664,235.4 659,237.7 654,239.8 649,241.8 644,243.4 639,244.7 634,245.9 629,247 624,248 619,249.1 614,249.9 609,250.5 604,251 599,251.6 594,252.2 589,252.9 584,253.4 579,254 574,254.5 569,255 564,255.5 559,256 554,256.5 549,256.9 544,257.4 539,257.8 534,258.1 529,258.4 524,258.7 519,259 514,259.3 509,259.5 504,259.8 499,260.1 494,260.5 489,260.8 484,261.1 479,261.3 474,261.6 469,261.8 464,262 459,262.2 454,262.4 449,262.6 444,262.9 439,263 434,263.2 429,263.4 424,263.5 419,263.7 414,263.9 409,264 404,264.1 399,264.2 394,264.2 389,264.3 384,264.3 379,264.4 374,264.4 369,264.5 364,264.5 359,264.6 354,264.6 349,264.6 344,264.6 339,264.5 334,264.5 329,264.4 324,264.4 319,264.3 314,264.2 309,264.2 304,264.2 299,264.1 294,264 289,264 284,263.9 279,263.8 274,263.7 269,263.6 264,263.4 259,263.3 254,263.1 249,262.9 244,262.8 239,262.6 234,262.4 229,262.2 224,262 219,261.8 214,261.5 209,261.3 204,261.1 199,260.9 194,260.7 189,260.5 184,260.1 179,259.8 174,259.4 169,259 164,258.5 159,257.9 154,257.3 149,256.7 144,256 139,255.2 134,254.4 129,253.5 124,252.6 119,251.8 114,251 109,250.3 104,249.6 99,248.7 94,247.5 89,246.4 84,245.1 79,243.8 74,242.4 69,240.8 64,239.2 59,237.5 54,235.5Z"/>
<path d="M54.1,235.5 59.1,237.5 64.1,239.2 69.1,240.8 74.1,242.4 79.1,243.8 84.1,245.1 89.1,246.4 94.1,247.6 99.1,248.7 104.1,249.6 109.1,250.3 114.1,251 119.1,251.8 124.1,252.6 129.1,253.5 134.1,254.4 139.1,255.2 144.1,256 149.1,256.7 154.1,257.4 159.1,257.9 164.1,258.5 169.1,259 174.1,259.4 179.1,259.8 184.1,260.2 189.1,260.5 194.1,260.7 199.1,260.9 204.1,261.1 209.1,261.3 214.1,261.5 219.1,261.8 224.1,262 229.1,262.2 234.1,262.4 239.1,262.6 244.1,262.8 249.1,262.9 254.1,263.1 259.1,263.3 264.1,263.4 269.1,263.6 274.1,263.7 279.1,263.8 284.1,263.9 289.1,264 294.1,264 299.1,264.1 304.1,264.2 309.1,264.2 314.1,264.2 319.1,264.3 324.1,264.4 329.1,264.4 334.1,264.5 339.1,264.5 344.1,264.6 349.1,264.6 354.1,264.6 359.1,264.6 364.1,264.5 369.1,264.5 374.1,264.4 379.1,264.4 384.1,264.3 389.1,264.3 394.1,264.2 399.1,264.2 404.1,264.1 409.1,264 414.1,263.9 419.1,263.7 424.1,263.5 429.1,263.4 434.1,263.2 439.1,263 444.1,262.9 449.1,262.6 454.1,262.4 459.1,262.2 464.1,262 469.1,261.8 474.1,261.6 479.1,261.3 484.1,261 489.1,260.8 494.1,260.5 499.1,260.1 504.1,259.8 509.1,259.5 514.1,259.3 519.1,259 524.1,258.7 529.1,258.4 534.1,258.1 539.1,257.8 544.1,257.4 549.1,256.9 554.1,256.5 559.1,256 564.1,255.5 569.1,255 574.1,254.5 579.1,254 584.1,253.4 589.1,252.9 594.1,252.2 599.1,251.6 604.1,251 609.1,250.4 614.1,249.9 619.1,249.1 624.1,248 629.1,247 634.1,245.9 639.1,244.6 644.1,243.4 649.1,241.7 654.1,239.8 659.1,237.6 664.1,235.4 664.9,235 L664.9,236.6 664.1,237 659.1,239.1 654.1,241.2 649.1,243 644.1,244.6 639.1,245.8 634.1,247 629.1,248.1 624.1,249.1 619.1,250.1 614.1,250.9 609.1,251.4 604.1,251.9 599.1,252.5 594.1,253.1 589.1,253.8 584.1,254.3 579.1,254.8 574.1,255.3 569.1,255.8 564.1,256.3 559.1,256.8 554.1,257.2 549.1,257.7 544.1,258.1 539.1,258.5 534.1,258.8 529.1,259.1 524.1,259.4 519.1,259.7 514.1,259.9 509.1,260.2 504.1,260.5 499.1,260.8 494.1,261.1 489.1,261.4 484.1,261.6 479.1,261.9 474.1,262.2 469.1,262.4 464.1,262.6 459.1,262.8 454.1,263 449.1,263.2 444.1,263.4 439.1,263.6 434.1,263.8 429.1,263.9 424.1,264.1 419.1,264.3 414.1,264.4 409.1,264.5 404.1,264.7 399.1,264.7 394.1,264.8 389.1,264.8 384.1,264.8 379.1,264.9 374.1,264.9 369.1,265 364.1,265.1 359.1,265.1 354.1,265.1 349.1,265.1 344.1,265.1 339.1,265.1 334.1,265 329.1,265 324.1,264.9 319.1,264.8 314.1,264.8 309.1,264.7 304.1,264.7 299.1,264.7 294.1,264.6 289.1,264.5 284.1,264.4 279.1,264.4 274.1,264.3 269.1,264.1 264.1,264 259.1,263.9 254.1,263.7 249.1,263.5 244.1,263.4 239.1,263.2 234.1,263 229.1,262.8 224.1,262.6 219.1,262.4 214.1,262.2 209.1,262 204.1,261.8 199.1,261.6 194.1,261.4 189.1,261.1 184.1,260.8 179.1,260.5 174.1,260.1 169.1,259.7 164.1,259.2 159.1,258.7 154.1,258.1 149.1,257.5 144.1,256.8 139.1,256.1 134.1,255.2 129.1,254.4 124.1,253.6 119.1,252.8 114.1,252 109.1,251.3 104.1,250.7 99.1,249.8 94.1,248.7 89.1,247.5 84.1,246.3 79.1,245 74.1,243.6 69.1,242.1 64.1,240.6 59.1,238.9 54.1,237.1Z"/>
<path d="M54.1,237.1 59.1,238.9 64.1,240.6 69.1,242.1 74.1,243.7 79.1,245 84.1,246.3 89.1,247.5 94.1,248.7 99.1,249.8 104.1,250.7 109.1,251.3 114.1,252 119.1,252.8 124.1,253.6 129.1,254.4 134.1,255.3 139.1,256.1 144.1,256.8 149.1,257.5 154.1,258.1 159.1,258.7 164.1,259.2 169.1,259.7 174.1,260.1 179.1,260.5 184.1,260.8 189.1,261.1 194.1,261.4 199.1,261.6 204.1,261.8 209.1,262 214.1,262.2 219.1,262.4 224.1,262.6 229.1,262.8 234.1,263 239.1,263.2 244.1,263.4 249.1,263.5 254.1,263.7 259.1,263.9 264.1,264 269.1,264.1 274.1,264.3 279.1,264.4 284.1,264.4 289.1,264.5 294.1,264.6 299.1,264.7 304.1,264.7 309.1,264.7 314.1,264.8 319.1,264.8 324.1,264.9 329.1,265 334.1,265 339.1,265.1 344.1,265.1 349.1,265.1 354.1,265.1 359.1,265.1 364.1,265.1 369.1,265 374.1,264.9 379.1,264.9 384.1,264.8 389.1,264.8 394.1,264.8 399.1,264.7 404.1,264.7 409.1,264.5 414.1,264.4 419.1,264.3 424.1,264.1 429.1,263.9 434.1,263.8 439.1,263.6 444.1,263.4 449.1,263.2 454.1,263 459.1,262.8 464.1,262.6 469.1,262.4 474.1,262.2 479.1,261.9 484.1,261.6 489.1,261.4 494.1,261.1 499.1,260.8 504.1,260.5 509.1,260.2 514.1,259.9 519.1,259.7 524.1,259.4 529.1,259.1 534.1,258.8 539.1,258.5 544.1,258.1 549.1,257.7 554.1,257.2 559.1,256.8 564.1,256.3 569.1,255.8 574.1,255.3 579.1,254.8 584.1,254.3 589.1,253.8 594.1,253.1 599.1,252.5 604.1,251.9 609.1,251.4 614.1,250.9 619.1,250.1 624.1,249.1 629.1,248.1 634.1,247 639.1,245.8 644.1,244.6 649.1,243 654.1,241.1 659.1,239.1 664.1,236.9 664.9,236.6 L664.9,238 664.1,238.3 659.1,240.4 654.1,242.4 649.1,244.2 644.1,245.7 639.1,246.9 634.1,248 629.1,249.1 624.1,250 619.1,251 614.1,251.7 609.1,252.3 604.1,252.8 599.1,253.3 594.1,253.9 589.1,254.6 584.1,255 579.1,255.5 574.1,256.1 569.1,256.5 564.1,257 559.1,257.4 554.1,257.9 549.1,258.3 544.1,258.7 539.1,259.1 534.1,259.4 529.1,259.7 524.1,260 519.1,260.3 514.1,260.5 509.1,260.8 504.1,261 499.1,261.3 494.1,261.6 489.1,261.9 484.1,262.2 479.1,262.4 474.1,262.7 469.1,262.9 464.1,263.1 459.1,263.3 454.1,263.5 449.1,263.7 444.1,263.9 439.1,264.1 434.1,264.3 429.1,264.4 424.1,264.6 419.1,264.7 414.1,264.9 409.1,265 404.1,265.1 399.1,265.2 394.1,265.2 389.1,265.3 384.1,265.3 379.1,265.3 374.1,265.4 369.1,265.5 364.1,265.5 359.1,265.6 354.1,265.6 349.1,265.6 344.1,265.6 339.1,265.5 334.1,265.5 329.1,265.4 324.1,265.4 319.1,265.3 314.1,265.3 309.1,265.2 304.1,265.2 299.1,265.2 294.1,265.1 289.1,265 284.1,264.9 279.1,264.9 274.1,264.8 269.1,264.7 264.1,264.5 259.1,264.4 254.1,264.2 249.1,264.1 244.1,263.9 239.1,263.7 234.1,263.5 229.1,263.4 224.1,263.2 219.1,263 214.1,262.8 209.1,262.6 204.1,262.4 199.1,262.2 194.1,262 189.1,261.7 184.1,261.4 179.1,261.1 174.1,260.7 169.1,260.3 164.1,259.9 159.1,259.4 154.1,258.8 149.1,258.2 144.1,257.6 139.1,256.8 134.1,256 129.1,255.2 124.1,254.4 119.1,253.6 114.1,252.9 109.1,252.2 104.1,251.6 99.1,250.7 94.1,249.6 89.1,248.5 84.1,247.3 79.1,246.1 74.1,244.7 69.1,243.2 64.1,241.8 59.1,240.2 54.1,238.5Z"/>
<path d="M59.3,240.2 64.3,241.8 69.3,243.3 74.3,244.8 79.3,246.1 84.3,247.3 89.3,248.6 94.3,249.7 99.3,250.8 104.3,251.6 109.3,252.3 114.3,252.9 119.3,253.6 124.3,254.4 129.3,255.2 134.3,256 139.3,256.8 144.3,257.6 149.3,258.2 154.3,258.8 159.3,259.4 164.3,259.9 169.3,260.3 174.3,260.7 179.3,261.1 184.3,261.5 189.3,261.7 194.3,262 199.3,262.2 204.3,262.4 209.3,262.6 214.3,262.8 219.3,263 224.3,263.2 229.3,263.4 234.3,263.5 239.3,263.7 244.3,263.9 249.3,264.1 254.3,264.2 259.3,264.4 264.3,264.5 269.3,264.7 274.3,264.8 279.3,264.9 284.3,264.9 289.3,265 294.3,265.1 299.3,265.2 304.3,265.2 309.3,265.2 314.3,265.3 319.3,265.3 324.3,265.4 329.3,265.4 334.3,265.5 339.3,265.5 344.3,265.6 349.3,265.6 354.3,265.6 359.3,265.6 364.3,265.5 369.3,265.5 374.3,265.4 379.3,265.3 384.3,265.3 389.3,265.3 394.3,265.2 399.3,265.2 404.3,265.1 409.3,265 414.3,264.9 419.3,264.7 424.3,264.6 429.3,264.4 434.3,264.3 439.3,264.1 444.3,263.9 449.3,263.7 454.3,263.5 459.3,263.3 464.3,263.1 469.3,262.9 474.3,262.7 479.3,262.4 484.3,262.2 489.3,261.9 494.3,261.6 499.3,261.3 504.3,261 509.3,260.7 514.3,260.5 519.3,260.2 524.3,260 529.3,259.7 534.3,259.4 539.3,259.1 544.3,258.7 549.3,258.3 554.3,257.9 559.3,257.4 564.3,257 569.3,256.5 574.3,256.1 579.3,255.5 584.3,255 589.3,254.5 594.3,253.9 599.3,253.3 604.3,252.8 609.3,252.3 614.3,251.7 619.3,251 624.3,250 629.3,249.1 634.3,248 639.3,246.8 644.3,245.7 649.3,244.1 654.3,242.3 L654.3,244.6 649.3,246.2 644.3,247.7 639.3,248.8 634.3,249.9 629.3,250.9 624.3,251.7 619.3,252.7 614.3,253.3 609.3,253.8 604.3,254.3 599.3,254.8 594.3,255.4 589.3,256 584.3,256.4 579.3,256.9 574.3,257.4 569.3,257.8 564.3,258.3 559.3,258.7 554.3,259.1 549.3,259.5 544.3,259.9 539.3,260.3 534.3,260.6 529.3,260.9 524.3,261.1 519.3,261.3 514.3,261.6 509.3,261.8 504.3,262 499.3,262.3 494.3,262.6 489.3,262.9 484.3,263.1 479.3,263.4 474.3,263.6 469.3,263.8 464.3,264 459.3,264.2 454.3,264.4 449.3,264.6 444.3,264.9 439.3,265 434.3,265.2 429.3,265.4 424.3,265.5 419.3,265.6 414.3,265.8 409.3,265.9 404.3,266 399.3,266 394.3,266.1 389.3,266.1 384.3,266.2 379.3,266.2 374.3,266.2 369.3,266.3 364.3,266.4 359.3,266.4 354.3,266.4 349.3,266.4 344.3,266.4 339.3,266.4 334.3,266.4 329.3,266.3 324.3,266.3 319.3,266.2 314.3,266.2 309.3,266.1 304.3,266.1 299.3,266.1 294.3,266 289.3,265.9 284.3,265.9 279.3,265.8 274.3,265.7 269.3,265.6 264.3,265.5 259.3,265.4 254.3,265.2 249.3,265.1 244.3,264.9 239.3,264.7 234.3,264.5 229.3,264.4 224.3,264.2 219.3,264 214.3,263.8 209.3,263.6 204.3,263.5 199.3,263.3 194.3,263.1 189.3,262.8 184.3,262.6 179.3,262.3 174.3,261.9 169.3,261.5 164.3,261.1 159.3,260.6 154.3,260.1 149.3,259.5 144.3,258.9 139.3,258.2 134.3,257.5 129.3,256.7 124.3,256 119.3,255.2 114.3,254.5 109.3,253.9 104.3,253.3 99.3,252.5 94.3,251.5 89.3,250.4 84.3,249.2 79.3,248.1 74.3,246.8 69.3,245.3 64.3,244 59.3,242.6Z"/>
<path d="M54.3,241 59.3,242.6 64.3,244 69.3,245.4 74.3,246.8 79.3,248.1 84.3,249.2 89.3,250.4 94.3,251.5 99.3,252.5 104.3,253.3 109.3,253.9 114.3,254.5 119.3,255.2 124.3,256 129.3,256.7 134.3,257.5 139.3,258.2 144.3,258.9 149.3,259.5 154.3,260.1 159.3,260.6 164.3,261.1 169.3,261.5 174.3,261.9 179.3,262.3 184.3,262.6 189.3,262.9 194.3,263.1 199.3,263.3 204.3,263.5 209.3,263.6 214.3,263.8 219.3,264 224.3,264.2 229.3,264.4 234.3,264.5 239.3,264.7 244.3,264.9 249.3,265.1 254.3,265.2 259.3,265.4 264.3,265.5 269.3,265.6 274.3,265.7 279.3,265.8 284.3,265.9 289.3,265.9 294.3,266 299.3,266.1 304.3,266.1 309.3,266.1 314.3,266.2 319.3,266.2 324.3,266.3 329.3,266.3 334.3,266.4 339.3,266.4 344.3,266.4 349.3,266.4 354.3,266.4 359.3,266.4 364.3,266.4 369.3,266.3 374.3,266.2 379.3,266.2 384.3,266.2 389.3,266.1 394.3,266.1 399.3,266 404.3,266 409.3,265.9 414.3,265.8 419.3,265.6 424.3,265.5 429.3,265.4 434.3,265.2 439.3,265 444.3,264.9 449.3,264.6 454.3,264.4 459.3,264.2 464.3,264 469.3,263.8 474.3,263.6 479.3,263.4 484.3,263.1 489.3,262.9 494.3,262.6 499.3,262.3 504.3,262 509.3,261.8 514.3,261.6 519.3,261.3 524.3,261.1 529.3,260.9 534.3,260.6 539.3,260.3 544.3,259.9 549.3,259.5 554.3,259.1 559.3,258.7 564.3,258.3 569.3,257.8 574.3,257.4 579.3,256.9 584.3,256.4 589.3,256 594.3,255.4 599.3,254.8 604.3,254.3 609.3,253.8 614.3,253.3 619.3,252.7 624.3,251.7 629.3,250.9 634.3,249.9 639.3,248.8 644.3,247.7 649.3,246.2 654.3,244.6 659.3,242.7 664.3,240.8 664.8,240.6 L664.8,241.3 664.3,241.5 659.3,243.4 654.3,245.2 649.3,246.8 644.3,248.2 639.3,249.3 634.3,250.4 629.3,251.4 624.3,252.2 619.3,253.1 614.3,253.8 609.3,254.3 604.3,254.7 599.3,255.2 594.3,255.8 589.3,256.4 584.3,256.8 579.3,257.3 574.3,257.7 569.3,258.2 564.3,258.6 559.3,259 554.3,259.4 549.3,259.8 544.3,260.2 539.3,260.6 534.3,260.9 529.3,261.2 524.3,261.4 519.3,261.6 514.3,261.9 509.3,262.1 504.3,262.3 499.3,262.6 494.3,262.8 489.3,263.1 484.3,263.4 479.3,263.6 474.3,263.9 469.3,264.1 464.3,264.3 459.3,264.5 454.3,264.7 449.3,264.9 444.3,265.1 439.3,265.3 434.3,265.5 429.3,265.6 424.3,265.7 419.3,265.9 414.3,266 409.3,266.1 404.3,266.2 399.3,266.3 394.3,266.3 389.3,266.4 384.3,266.4 379.3,266.4 374.3,266.5 369.3,266.5 364.3,266.6 359.3,266.7 354.3,266.7 349.3,266.7 344.3,266.7 339.3,266.6 334.3,266.6 329.3,266.5 324.3,266.5 319.3,266.4 314.3,266.4 309.3,266.4 304.3,266.3 299.3,266.3 294.3,266.3 289.3,266.2 284.3,266.1 279.3,266 274.3,266 269.3,265.9 264.3,265.8 259.3,265.6 254.3,265.5 249.3,265.3 244.3,265.1 239.3,265 234.3,264.8 229.3,264.6 224.3,264.5 219.3,264.3 214.3,264.1 209.3,263.9 204.3,263.7 199.3,263.6 194.3,263.4 189.3,263.1 184.3,262.9 179.3,262.6 174.3,262.2 169.3,261.9 164.3,261.4 159.3,261 154.3,260.4 149.3,259.9 144.3,259.3 139.3,258.6 134.3,257.9 129.3,257.1 124.3,256.4 119.3,255.7 114.3,255 109.3,254.4 104.3,253.7 99.3,252.9 94.3,251.9 89.3,250.9 84.3,249.8 79.3,248.6 74.3,247.3 69.3,245.9 64.3,244.6 59.3,243.2 54.3,241.7Z"/>
<path d="M59.4,243.2 64.4,244.6 69.4,246 74.4,247.3 79.4,248.6 84.4,249.8 89.4,250.9 94.4,252 99.4,253 104.4,253.7 109.4,254.4 114.4,255 119.4,255.7 124.4,256.4 129.4,257.1 134.4,257.9 139.4,258.6 144.4,259.3 149.4,259.9 154.4,260.5 159.4,261 164.4,261.4 169.4,261.9 174.4,262.2 179.4,262.6 184.4,262.9 189.4,263.2 194.4,263.4 199.4,263.6 204.4,263.7 209.4,263.9 214.4,264.1 219.4,264.3 224.4,264.5 229.4,264.6 234.4,264.8 239.4,265 244.4,265.2 249.4,265.3 254.4,265.5 259.4,265.6 264.4,265.8 269.4,265.9 274.4,266 279.4,266 284.4,266.1 289.4,266.2 294.4,266.3 299.4,266.3 304.4,266.3 309.4,266.4 314.4,266.4 319.4,266.4 324.4,266.5 329.4,266.6 334.4,266.6 339.4,266.6 344.4,266.7 349.4,266.7 354.4,266.7 359.4,266.7 364.4,266.6 369.4,266.5 374.4,266.5 379.4,266.4 384.4,266.4 389.4,266.4 394.4,266.3 399.4,266.3 404.4,266.2 409.4,266.1 414.4,266 419.4,265.9 424.4,265.7 429.4,265.6 434.4,265.5 439.4,265.3 444.4,265.1 449.4,264.9 454.4,264.7 459.4,264.5 464.4,264.3 469.4,264.1 474.4,263.9 479.4,263.6 484.4,263.4 489.4,263.1 494.4,262.8 499.4,262.6 504.4,262.3 509.4,262.1 514.4,261.9 519.4,261.6 524.4,261.4 529.4,261.2 534.4,260.9 539.4,260.6 544.4,260.2 549.4,259.8 554.4,259.4 559.4,259 564.4,258.6 569.4,258.2 574.4,257.7 579.4,257.3 584.4,256.8 589.4,256.3 594.4,255.8 599.4,255.2 604.4,254.7 609.4,254.3 614.4,253.8 619.4,253.1 624.4,252.2 629.4,251.3 634.4,250.3 639.4,249.3 644.4,248.2 649.4,246.8 654.4,245.1 L654.4,247.4 649.4,248.9 644.4,250.2 639.4,251.2 634.4,252.2 629.4,253.1 624.4,253.9 619.4,254.8 614.4,255.4 609.4,255.8 604.4,256.3 599.4,256.7 594.4,257.2 589.4,257.8 584.4,258.2 579.4,258.6 574.4,259.1 569.4,259.5 564.4,259.9 559.4,260.3 554.4,260.7 549.4,261 544.4,261.4 539.4,261.8 534.4,262 529.4,262.3 524.4,262.5 519.4,262.7 514.4,262.9 509.4,263.1 504.4,263.4 499.4,263.6 494.4,263.8 489.4,264.1 484.4,264.3 479.4,264.6 474.4,264.8 469.4,265 464.4,265.2 459.4,265.4 454.4,265.6 449.4,265.8 444.4,266 439.4,266.2 434.4,266.4 429.4,266.5 424.4,266.7 419.4,266.8 414.4,266.9 409.4,267 404.4,267.1 399.4,267.1 394.4,267.2 389.4,267.2 384.4,267.3 379.4,267.3 374.4,267.3 369.4,267.4 364.4,267.5 359.4,267.5 354.4,267.5 349.4,267.5 344.4,267.5 339.4,267.5 334.4,267.5 329.4,267.4 324.4,267.4 319.4,267.3 314.4,267.3 309.4,267.3 304.4,267.2 299.4,267.2 294.4,267.2 289.4,267.1 284.4,267 279.4,267 274.4,266.9 269.4,266.8 264.4,266.7 259.4,266.6 254.4,266.5 249.4,266.3 244.4,266.1 239.4,266 234.4,265.8 229.4,265.7 224.4,265.5 219.4,265.3 214.4,265.2 209.4,265 204.4,264.8 199.4,264.6 194.4,264.5 189.4,264.3 184.4,264 179.4,263.7 174.4,263.4 169.4,263 164.4,262.7 159.4,262.2 154.4,261.7 149.4,261.2 144.4,260.6 139.4,260 134.4,259.3 129.4,258.6 124.4,257.9 119.4,257.2 114.4,256.6 109.4,256 104.4,255.4 99.4,254.7 94.4,253.8 89.4,252.8 84.4,251.7 79.4,250.6 74.4,249.3 69.4,248 64.4,246.8 59.4,245.6Z"/>
<path d="M54.5,244.3 59.5,245.6 64.5,246.8 69.5,248.1 74.5,249.4 79.5,250.6 84.5,251.7 89.5,252.8 94.5,253.8 99.5,254.7 104.5,255.4 109.5,256 114.5,256.6 119.5,257.3 124.5,257.9 129.5,258.6 134.5,259.3 139.5,260 144.5,260.6 149.5,261.2 154.5,261.7 159.5,262.2 164.5,262.7 169.5,263.1 174.5,263.4 179.5,263.7 184.5,264 189.5,264.3 194.5,264.5 199.5,264.7 204.5,264.8 209.5,265 214.5,265.2 219.5,265.3 224.5,265.5 229.5,265.7 234.5,265.8 239.5,266 244.5,266.1 249.5,266.3 254.5,266.5 259.5,266.6 264.5,266.7 269.5,266.8 274.5,266.9 279.5,267 284.5,267 289.5,267.1 294.5,267.2 299.5,267.2 304.5,267.2 309.5,267.3 314.5,267.3 319.5,267.3 324.5,267.4 329.5,267.4 334.5,267.5 339.5,267.5 344.5,267.5 349.5,267.5 354.5,267.5 359.5,267.5 364.5,267.5 369.5,267.4 374.5,267.3 379.5,267.3 384.5,267.3 389.5,267.2 394.5,267.2 399.5,267.1 404.5,267.1 409.5,267 414.5,266.9 419.5,266.8 424.5,266.6 429.5,266.5 434.5,266.4 439.5,266.2 444.5,266 449.5,265.8 454.5,265.6 459.5,265.4 464.5,265.2 469.5,265 474.5,264.8 479.5,264.6 484.5,264.3 489.5,264.1 494.5,263.8 499.5,263.6 504.5,263.3 509.5,263.1 514.5,262.9 519.5,262.7 524.5,262.5 529.5,262.3 534.5,262 539.5,261.7 544.5,261.4 549.5,261 554.5,260.7 559.5,260.3 564.5,259.9 569.5,259.5 574.5,259.1 579.5,258.6 584.5,258.2 589.5,257.8 594.5,257.2 599.5,256.7 604.5,256.3 609.5,255.8 614.5,255.4 619.5,254.7 624.5,253.9 629.5,253.1 634.5,252.2 639.5,251.2 644.5,250.2 649.5,248.9 654.5,247.4 659.5,245.7 664.5,244 664.6,244 L664.6,245.7 664.5,245.7 659.5,247.3 654.5,248.8 649.5,250.3 644.5,251.5 639.5,252.5 634.5,253.4 629.5,254.3 624.5,255 619.5,255.8 614.5,256.4 609.5,256.9 604.5,257.3 599.5,257.7 594.5,258.2 589.5,258.7 584.5,259.1 579.5,259.5 574.5,259.9 569.5,260.3 564.5,260.7 559.5,261.1 554.5,261.5 549.5,261.8 544.5,262.2 539.5,262.5 534.5,262.8 529.5,263 524.5,263.3 519.5,263.5 514.5,263.6 509.5,263.8 504.5,264 499.5,264.2 494.5,264.5 489.5,264.7 484.5,265 479.5,265.2 474.5,265.4 469.5,265.6 464.5,265.8 459.5,266 454.5,266.2 449.5,266.4 444.5,266.6 439.5,266.8 434.5,267 429.5,267.1 424.5,267.2 419.5,267.4 414.5,267.5 409.5,267.6 404.5,267.6 399.5,267.7 394.5,267.7 389.5,267.8 384.5,267.8 379.5,267.9 374.5,267.9 369.5,267.9 364.5,268 359.5,268.1 354.5,268.1 349.5,268.1 344.5,268.1 339.5,268.1 334.5,268 329.5,268 324.5,268 319.5,267.9 314.5,267.9 309.5,267.9 304.5,267.8 299.5,267.8 294.5,267.8 289.5,267.7 284.5,267.7 279.5,267.6 274.5,267.5 269.5,267.5 264.5,267.3 259.5,267.2 254.5,267.1 249.5,266.9 244.5,266.8 239.5,266.6 234.5,266.5 229.5,266.3 224.5,266.2 219.5,266 214.5,265.8 209.5,265.7 204.5,265.5 199.5,265.4 194.5,265.2 189.5,265 184.5,264.8 179.5,264.5 174.5,264.2 169.5,263.8 164.5,263.5 159.5,263 154.5,262.6 149.5,262.1 144.5,261.5 139.5,260.9 134.5,260.3 129.5,259.6 124.5,258.9 119.5,258.3 114.5,257.7 109.5,257.1 104.5,256.5 99.5,255.8 94.5,254.9 89.5,254 84.5,252.9 79.5,251.9 74.5,250.7 69.5,249.4 64.5,248.3 59.5,247.1 54.5,246Z"/>
<path d="M54.6,246 59.6,247.1 64.6,248.3 69.6,249.4 74.6,250.7 79.6,251.9 84.6,253 89.6,254 94.6,255 99.6,255.9 104.6,256.5 109.6,257.1 114.6,257.7 119.6,258.3 124.6,259 129.6,259.6 134.6,260.3 139.6,260.9 144.6,261.5 149.6,262.1 154.6,262.6 159.6,263 164.6,263.5 169.6,263.8 174.6,264.2 179.6,264.5 184.6,264.8 189.6,265 194.6,265.2 199.6,265.4 204.6,265.5 209.6,265.7 214.6,265.8 219.6,266 224.6,266.2 229.6,266.3 234.6,266.5 239.6,266.6 244.6,266.8 249.6,266.9 254.6,267.1 259.6,267.2 264.6,267.4 269.6,267.5 274.6,267.5 279.6,267.6 284.6,267.7 289.6,267.7 294.6,267.8 299.6,267.8 304.6,267.8 309.6,267.9 314.6,267.9 319.6,267.9 324.6,268 329.6,268 334.6,268 339.6,268.1 344.6,268.1 349.6,268.1 354.6,268.1 359.6,268.1 364.6,268 369.6,267.9 374.6,267.9 379.6,267.9 384.6,267.8 389.6,267.8 394.6,267.7 399.6,267.7 404.6,267.6 409.6,267.6 414.6,267.5 419.6,267.4 424.6,267.2 429.6,267.1 434.6,267 439.6,266.8 444.6,266.6 449.6,266.4 454.6,266.2 459.6,266 464.6,265.8 469.6,265.6 474.6,265.4 479.6,265.2 484.6,265 489.6,264.7 494.6,264.5 499.6,264.2 504.6,264 509.6,263.8 514.6,263.6 519.6,263.4 524.6,263.3 529.6,263 534.6,262.8 539.6,262.5 544.6,262.2 549.6,261.8 554.6,261.5 559.6,261.1 564.6,260.7 569.6,260.3 574.6,259.9 579.6,259.5 584.6,259.1 589.6,258.7 594.6,258.2 599.6,257.7 604.6,257.3 609.6,256.9 614.6,256.4 619.6,255.8 624.6,255 629.6,254.3 634.6,253.4 639.6,252.5 644.6,251.5 649.6,250.2 654.6,248.8 659.6,247.3 664.5,245.7 L664.5,247.5 659.6,248.9 654.6,250.4 649.6,251.7 644.6,252.9 639.6,253.8 634.6,254.7 629.6,255.5 624.6,256.2 619.6,257 614.6,257.5 609.6,258 604.6,258.4 599.6,258.7 594.6,259.2 589.6,259.7 584.6,260.1 579.6,260.5 574.6,260.9 569.6,261.2 564.6,261.6 559.6,262 554.6,262.3 549.6,262.7 544.6,263 539.6,263.3 534.6,263.6 529.6,263.8 524.6,264 519.6,264.2 514.6,264.4 509.6,264.6 504.6,264.7 499.6,264.9 494.6,265.2 489.6,265.4 484.6,265.6 479.6,265.9 474.6,266.1 469.6,266.3 464.6,266.5 459.6,266.7 454.6,266.9 449.6,267.1 444.6,267.3 439.6,267.5 434.6,267.6 429.6,267.8 424.6,267.9 419.6,268 414.6,268.1 409.6,268.2 404.6,268.2 399.6,268.3 394.6,268.3 389.6,268.4 384.6,268.4 379.6,268.4 374.6,268.5 369.6,268.5 364.6,268.6 359.6,268.7 354.6,268.7 349.6,268.7 344.6,268.7 339.6,268.7 334.6,268.6 329.6,268.6 324.6,268.6 319.6,268.5 314.6,268.5 309.6,268.5 304.6,268.5 299.6,268.4 294.6,268.4 289.6,268.3 284.6,268.3 279.6,268.2 274.6,268.2 269.6,268.1 264.6,268 259.6,267.9 254.6,267.8 249.6,267.6 244.6,267.5 239.6,267.3 234.6,267.2 229.6,267 224.6,266.9 219.6,266.7 214.6,266.6 209.6,266.4 204.6,266.3 199.6,266.1 194.6,265.9 189.6,265.8 184.6,265.5 179.6,265.3 174.6,265 169.6,264.7 164.6,264.3 159.6,263.9 154.6,263.5 149.6,263 144.6,262.4 139.6,261.9 134.6,261.3 129.6,260.6 124.6,260 119.6,259.4 114.6,258.8 109.6,258.3 104.6,257.7 99.6,257 94.6,256.2 89.6,255.3 84.6,254.3 79.6,253.2 74.6,252.1 69.6,250.9 64.6,249.8 59.6,248.8 54.6,247.7Z"/>
<path d="M84.6,254.3 89.6,255.3 94.6,256.2 99.6,257 104.6,257.7 109.6,258.3 114.6,258.8 119.6,259.4 124.6,260 129.6,260.6 134.6,261.3 139.6,261.9 144.6,262.4 149.6,263 154.6,263.5 159.6,263.9 164.6,264.3 169.6,264.7 174.6,265 179.6,265.3 184.6,265.5 189.6,265.8 194.6,265.9 199.6,266.1 204.6,266.3 209.6,266.4 214.6,266.6 219.6,266.7 224.6,266.9 229.6,267 234.6,267.2 239.6,267.3 244.6,267.5 249.6,267.6 254.6,267.8 259.6,267.9 264.6,268 269.6,268.1 274.6,268.2 279.6,268.2 284.6,268.3 289.6,268.3 294.6,268.4 299.6,268.4 304.6,268.5 309.6,268.5 314.6,268.5 319.6,268.5 324.6,268.6 329.6,268.6 334.6,268.6 339.6,268.7 344.6,268.7 349.6,268.7 354.6,268.7 359.6,268.7 364.6,268.6 369.6,268.5 374.6,268.5 379.6,268.4 384.6,268.4 389.6,268.4 394.6,268.3 399.6,268.3 404.6,268.2 409.6,268.2 414.6,268.1 419.6,268 424.6,267.9 429.6,267.8 434.6,267.6 439.6,267.5 444.6,267.3 449.6,267.1 454.6,266.9 459.6,266.7 464.6,266.5 469.6,266.3 474.6,266.1 479.6,265.9 484.6,265.6 489.6,265.4 494.6,265.2 499.6,264.9 504.6,264.7 509.6,264.6 514.6,264.4 519.6,264.2 524.6,264 529.6,263.8 534.6,263.6 539.6,263.3 544.6,263 549.6,262.7 554.6,262.3 559.6,262 564.6,261.6 569.6,261.2 574.6,260.9 579.6,260.5 584.6,260.1 589.6,259.7 594.6,259.2 599.6,258.7 604.6,258.4 609.6,258 614.6,257.5 619.6,257 624.6,256.2 629.6,255.5 634.6,254.7 639.6,253.8 644.6,252.9 649.6,251.7 L649.6,253.8 644.6,254.8 639.6,255.6 634.6,256.4 629.6,257.1 624.6,257.8 619.6,258.3 614.6,258.8 609.6,259.2 604.6,259.5 599.6,259.8 594.6,260.1 589.6,260.4 584.6,260.7 579.6,261 574.6,261.3 569.6,261.5 564.6,261.8 559.6,262.1 554.6,262.4 549.6,262.7 544.6,263 539.6,263.4 534.6,263.7 529.6,263.9 524.6,264.1 519.6,264.3 514.6,264.4 509.6,264.6 504.6,264.7 499.6,264.9 494.6,265.1 489.6,265.4 484.6,265.6 479.6,265.9 474.6,266.1 469.6,266.3 464.6,266.6 459.6,266.8 454.6,267 449.6,267.3 444.6,267.5 439.6,267.7 434.6,267.9 429.6,268 424.6,268.1 419.6,268.2 414.6,268.3 409.6,268.3 404.6,268.4 399.6,268.4 394.6,268.4 389.6,268.5 384.6,268.5 379.6,268.6 374.6,268.6 369.6,268.6 364.6,268.7 359.6,268.7 354.6,268.8 349.6,268.8 344.6,268.8 339.6,268.8 334.6,268.8 329.6,268.8 324.6,268.8 319.6,268.8 314.6,268.7 309.6,268.7 304.6,268.7 299.6,268.7 294.6,268.7 289.6,268.7 284.6,268.7 279.6,268.6 274.6,268.6 269.6,268.6 264.6,268.5 259.6,268.4 254.6,268.3 249.6,268.2 244.6,268 239.6,267.9 234.6,267.8 229.6,267.7 224.6,267.6 219.6,267.5 214.6,267.4 209.6,267.3 204.6,267.2 199.6,267.1 194.6,267 189.6,266.9 184.6,266.7 179.6,266.5 174.6,266.3 169.6,266 164.6,265.7 159.6,265.3 154.6,264.8 149.6,264.2 144.6,263.5 139.6,262.8 134.6,262 129.6,261.2 124.6,260.4 119.6,259.9 114.6,259.5 109.6,259.2 104.6,258.9 99.6,258.5 94.6,258 89.6,257.3 84.6,256.5Z"/>
<path d="M604,259.6 609,259.3 614,258.8 L614,261.2 609,261.5 604,261.9Z"/>
<path d="M654,252.9 659,251.9 L659,254.1 654,254.9Z"/>
<path d="M60.4,255.4 65.4,256.9 70.4,258.3 75.4,259.6 80.4,260.6 85.4,261.5 90.4,262.3 95.4,263 100.4,263.6 105.4,264.1 110.4,264.5 115.4,264.9 120.4,265.3 125.4,265.8 130.4,266.2 135.4,266.7 140.4,267.1 145.4,267.5 150.4,267.9 155.4,268.2 160.4,268.6 165.4,268.9 170.4,269.1 175.4,269.4 180.4,269.6 185.4,269.7 190.4,269.9 195.4,270 200.4,270.2 205.4,270.3 210.4,270.4 215.4,270.5 220.4,270.6 225.4,270.7 230.4,270.8 235.4,270.9 240.4,271 245.4,271.1 250.4,271.3 255.4,271.4 260.4,271.5 265.4,271.6 270.4,271.7 275.4,271.7 280.4,271.7 285.4,271.8 290.4,271.8 295.4,271.8 300.4,271.8 305.4,271.8 310.4,271.8 315.4,271.8 320.4,271.9 325.4,271.9 330.4,271.9 335.4,271.9 340.4,271.9 345.4,271.9 350.4,271.9 355.4,271.9 360.4,271.8 365.4,271.8 370.4,271.7 375.4,271.7 380.4,271.7 385.4,271.6 390.4,271.6 395.4,271.5 400.4,271.5 405.4,271.5 410.4,271.4 415.4,271.4 420.4,271.3 425.4,271.3 430.4,271.2 435.4,271.1 440.4,270.9 445.4,270.7 450.4,270.5 455.4,270.3 460.4,270.1 465.4,270 470.4,269.8 475.4,269.6 480.4,269.4 485.4,269.2 490.4,269 495.4,268.8 500.4,268.7 505.4,268.6 510.4,268.5 515.4,268.4 520.4,268.3 525.4,268.2 530.4,268.1 535.4,267.9 540.4,267.7 545.4,267.4 550.4,267.2 555.4,266.9 560.4,266.6 565.4,266.4 570.4,266.1 575.4,265.6 580.4,264.9 585.4,264.1 590.4,263.5 595.4,262.8 600.4,262.2 605.4,261.8 610.4,261.4 615.4,261.1 620.4,260.7 625.4,260.3 630.4,260 635.4,259.7 640.4,259.1 645.4,258 L645.4,260.3 640.4,261 635.4,261.6 630.4,262.2 625.4,262.7 620.4,263.1 615.4,263.5 610.4,263.8 605.4,264.1 600.4,264.4 595.4,264.7 590.4,265 585.4,265.3 580.4,265.6 575.4,265.8 570.4,266.1 565.4,266.4 560.4,266.6 555.4,266.9 550.4,267.2 545.4,267.4 540.4,267.7 535.4,267.9 530.4,268.1 525.4,268.2 520.4,268.3 515.4,268.4 510.4,268.5 505.4,268.6 500.4,268.7 495.4,268.8 490.4,269 485.4,269.2 480.4,269.4 475.4,269.6 470.4,269.8 465.4,270 460.4,270.1 455.4,270.3 450.4,270.5 445.4,270.7 440.4,270.9 435.4,271.1 430.4,271.2 425.4,271.3 420.4,271.3 415.4,271.4 410.4,271.4 405.4,271.5 400.4,271.5 395.4,271.5 390.4,271.6 385.4,271.6 380.4,271.7 375.4,271.7 370.4,271.7 365.4,271.8 360.4,271.8 355.4,271.9 350.4,271.9 345.4,271.9 340.4,271.9 335.4,271.9 330.4,271.9 325.4,271.9 320.4,271.9 315.4,271.8 310.4,271.8 305.4,271.8 300.4,271.8 295.4,271.8 290.4,271.8 285.4,271.8 280.4,271.7 275.4,271.7 270.4,271.7 265.4,271.6 260.4,271.5 255.4,271.4 250.4,271.3 245.4,271.1 240.4,271 235.4,270.9 230.4,270.8 225.4,270.7 220.4,270.6 215.4,270.5 210.4,270.4 205.4,270.3 200.4,270.2 195.4,270 190.4,269.9 185.4,269.7 180.4,269.6 175.4,269.4 170.4,269.1 165.4,268.9 160.4,268.6 155.4,268.2 150.4,267.9 145.4,267.5 140.4,267.1 135.4,266.7 130.4,266.2 125.4,265.8 120.4,265.3 115.4,264.9 110.4,264.5 105.4,264.1 100.4,263.6 95.4,263 90.4,262.3 85.4,261.5 80.4,260.6 75.4,259.7 70.4,258.7 65.4,258 60.4,257.5Z"/>
</g>
<g stroke="#000" fill="none">
<line x1="45.5" y1="0" x2="45.5" y2="279.4" stroke-width="1.2"/>
<line x1="44.9" y1="278.7" x2="674.5" y2="278.7" stroke-width="1.6"/>
<line x1="673.8" y1="0" x2="673.8" y2="278.7" stroke-width="1.6" stroke="#1c1c1c"/>
<line x1="44.9" y1="0.6" x2="674.5" y2="0.6" stroke-width="1.6"/>
</g>
<line x1="45.5" y1="21.4" x2="673.8" y2="21.4" stroke="#f00" stroke-width="2.5" stroke-linecap="round" stroke-dasharray="0 4.655"/>
<line x1="82.0" y1="53.6" x2="121.2" y2="53.6" stroke="#000" stroke-width="2.3" stroke-linecap="round"/>
<line x1="82.05" y1="95.6" x2="121" y2="95.6" stroke="#f00" stroke-width="2.5" stroke-linecap="round" stroke-dasharray="0 4.67"/>
<g font-size="15.5">
<text x="125.8" y="58.6">SIFs Beachmarks</text>
<text x="125.8" y="100.4">Critical SIF</text>
<g text-anchor="end" font-size="15.3">
<text x="31.6" y="283.4">5</text>
<text x="31.6" y="231.9">10</text>
<text x="31.6" y="180.5">15</text>
<text x="31.6" y="129.0">20</text>
<text x="31.6" y="77.6">25</text>
<text x="31.6" y="26.1">30</text>
</g><g text-anchor="middle" font-size="15.3">
<text x="45.8" y="302.1">0</text>
<text x="115.6" y="302.1">20</text>
<text x="185.4" y="302.1">40</text>
<text x="255.2" y="302.1">60</text>
<text x="325.0" y="302.1">80</text>
<text x="394.9" y="302.1">100</text>
<text x="464.7" y="302.1">120</text>
<text x="534.5" y="302.1">140</text>
<text x="604.3" y="302.1">160</text>
<text x="674.1" y="302.1">180</text>
</g>
<text x="336.4" y="322.9">Angle, φ</text>
<text transform="translate(11.1,181.3) rotate(-90)">SIF, K <tspan x="44.8" dy="0.15" font-size="11.6">(Mpa.</tspan><tspan x="73.9" font-size="13.8">√</tspan><tspan x="80.9" font-size="11.6">m)</tspan></text>
</g>
</svg>
</body></html>
